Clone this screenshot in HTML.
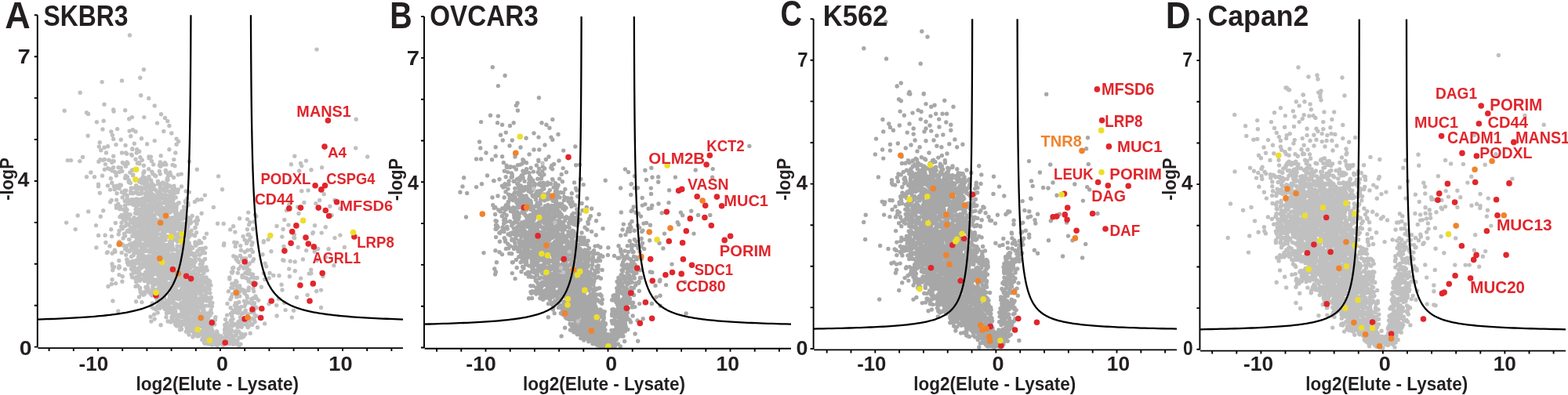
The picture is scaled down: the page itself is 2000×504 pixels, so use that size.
<!DOCTYPE html>
<html><head><meta charset="utf-8"><style>html,body{margin:0;padding:0;background:#fff}svg{display:block}text{font-family:"Liberation Sans",Arial,sans-serif}</style></head>
<body><svg width="2000" height="504" viewBox="0 0 2000 504">
<rect width="2000" height="504" fill="#fff"/>
<path d="M168.3 198.2h0M190 200h0M168.8 190.4h0M161.7 196.3h0M205.2 198.8h0M177.7 193.2h0M134.4 209.6h0M221.8 203.6h0M207.2 209.9h0M163 208.5h0M175.3 208.3h0M145.2 205.6h0M204.4 207h0M101.8 205.6h0M195.7 209.9h0M178 208.9h0M144.6 213.6h0M204.7 212.2h0M133.4 203.4h0M144.1 214.2h0M210.4 207.7h0M208.6 210.1h0M241.3 206h0M151 213.7h0M142.8 207.2h0M161.9 207h0M160.5 212.2h0M178.9 200.7h0M127.9 203.7h0M192.4 200.3h0M211.9 209.9h0M182.9 220.7h0M176.9 230.5h0M184 230.9h0M214 229.5h0M143.2 217.9h0M177.9 232h0M169.7 216.8h0M164.3 229.9h0M152.4 219.5h0M189.9 225.4h0M211.3 217.4h0M201.4 231.3h0M155.8 218.4h0M179.4 229h0M203.3 218.4h0M168.4 217.3h0M207.8 232.9h0M221.6 226.5h0M169.8 223h0M198.7 224.8h0M215 222h0M141.3 227.8h0M164.7 232.8h0M133.4 216.2h0M217.8 223.2h0M146.7 219.4h0M148.3 224.1h0M169.4 223.7h0M183.5 220.1h0M187.6 229.2h0M164.1 231.9h0M139.3 215.7h0M213.8 228.7h0M159.6 227.3h0M162.4 225.7h0M190.2 227.7h0M213.5 227.5h0M278.6 224.9h0M197.2 223.4h0M173.5 215.7h0M182.4 225.7h0M184 218.6h0M213 229.5h0M184.6 226.6h0M194.9 221.8h0M192.6 229.9h0M207.1 241.7h0M179.9 239.3h0M205.9 248h0M175.9 247.2h0M152.1 240.4h0M193.9 236h0M180.8 244.5h0M145.3 237.7h0M158.9 245.3h0M196.7 236.7h0M191.5 240.1h0M148.8 237.3h0M187 244.6h0M191.1 242.8h0M137.5 236.9h0M174.5 242.6h0M142.6 233.4h0M181.8 233.2h0M187.4 244.9h0M226.6 245.3h0M227.3 242h0M127.3 246.3h0M198.3 242.2h0M140.6 242.1h0M220.7 243.4h0M209 234.2h0M159.2 243.2h0M173.6 236.7h0M216.3 237h0M212.8 234.8h0M219.6 245.7h0M212.1 237.7h0M200.3 244.4h0M219.6 243.5h0M166.9 243.7h0M171.7 245.9h0M154.4 236.3h0M222.3 240h0M223.7 241.6h0M241.4 245.1h0M193.3 233.1h0M167.3 240h0M176.6 238.9h0M193.3 247.3h0M202.9 244.3h0M283.5 241.7h0M204.7 245.3h0M195.2 237.1h0M176.5 246.9h0M149.1 246.7h0M169.3 246.8h0M178 240.9h0M158.9 247.7h0M184.5 235.4h0M125.5 235.1h0M202.5 235h0M166.4 233.5h0M215.6 244.3h0M210.4 244h0M204.2 240.1h0M166.8 246.6h0M180.2 247.1h0M195.2 241.5h0M190.3 248h0M204.7 237h0M185.4 247.1h0M171.7 239.7h0M217.1 244.3h0M189.8 236.5h0M125.5 237.8h0M192.2 243.5h0M210 239.1h0M146.2 241.8h0M152.6 236h0M221.9 237.3h0M184.9 240.8h0M142.8 233.1h0M231.5 238h0M185.3 239.5h0M178.1 247.4h0M187.7 233.4h0M220.2 242.5h0M217.2 238h0M160.9 243.1h0M155.3 245.3h0M206.3 234h0M150.1 239.8h0M194.1 247.7h0M181.4 240.6h0M222.8 246.4h0M201.7 234.4h0M212.6 240.7h0M194.1 234.9h0M237.2 243.9h0M195.7 235.9h0M188 239.4h0M180.4 233.3h0M222.6 267.9h0M188.7 254.3h0M163.1 259.9h0M240.1 261.7h0M162.1 267.6h0M173.1 267.3h0M214.8 254.4h0M190.5 268.3h0M192.9 251h0M210.9 252.5h0M178 267.9h0M183.8 256.7h0M161.3 248.6h0M187.6 252.7h0M184 265.7h0M188.9 261.8h0M208.4 250.5h0M186.4 269.8h0M224.2 251.9h0M236.7 258.3h0M222.8 263.3h0M112.7 269.9h0M261.4 249.1h0M215.2 254.7h0M197.7 260.5h0M219.7 267.1h0M196.5 267.7h0M171.8 257.9h0M272.4 264.4h0M177.8 269.6h0M157.7 267.5h0M198.8 252.3h0M210.5 268.5h0M210.9 266h0M211.1 254.4h0M212.2 249.2h0M204.4 268.9h0M216.7 263.5h0M209.5 254.2h0M218.2 261.4h0M200 267.3h0M174.9 258.6h0M183.8 265.6h0M185.7 249.9h0M150.8 260.2h0M216 249.8h0M193.6 268.6h0M176.1 269.2h0M234.3 268.2h0M165.9 255.9h0M224.6 269.9h0M184.3 270h0M189.4 268.1h0M169.9 261.2h0M200.6 259h0M204.5 261.6h0M167.1 259.7h0M226.4 260h0M162.2 249.7h0M218.8 251.9h0M197.3 263.1h0M178 256h0M213.3 257.7h0M193 255.9h0M212.9 262.6h0M219.7 263.6h0M224.9 265.8h0M172.9 262.6h0M201.3 264h0M219.9 259.9h0M207.4 265h0M214.7 258.7h0M194.1 256.4h0M177.6 260.4h0M199.8 249.6h0M179.2 261.6h0M166.2 258.9h0M182.2 269.7h0M212.4 257.5h0M211.2 269.8h0M195.6 262.2h0M257.1 254.6h0M209.4 257.8h0M203.7 258.2h0M218.8 250h0M194.1 268.8h0M234.7 264h0M174 262.8h0M208.1 258.8h0M186.5 252.8h0M221 268.9h0M211.6 265.5h0M178.4 254.8h0M224.9 268.7h0M248.4 257.4h0M216.5 255.7h0M174.7 263.9h0M131.7 268.8h0M159.3 262.3h0M228.2 258.7h0M195.8 265.6h0M197.5 252.3h0M182.7 263.4h0M197.1 257.3h0M194.8 258.5h0M198 252h0M225.2 263h0M217.3 261.1h0M187.3 255.5h0M152.8 266.7h0M181 265.5h0M195.3 262h0M198.2 258.3h0M207.9 249.4h0M148.6 255.1h0M185.2 265.8h0M192.7 266.1h0M251.7 254.6h0M195.2 258.8h0M162.9 255.4h0M236.4 256.4h0M186.5 264.1h0M152.9 266.3h0M252.6 255.1h0M212.9 267.7h0M197 267.3h0M175.6 256.3h0M182.6 257.9h0M176.6 261.6h0M239.8 259.3h0M160.4 265.8h0M186.7 253.6h0M211 248.4h0M148.3 262.1h0M173.8 253.9h0M220.3 255.6h0M153.7 263.6h0M201.3 260.7h0M205 253.5h0M202.4 248.8h0M180.3 269.5h0M176.8 267.8h0M211.8 256.2h0M214.5 262.9h0M159.2 256.5h0M200.9 253h0M173.8 266.5h0M190.3 252.4h0M224.8 260.9h0M183.7 258.9h0M195.9 254.5h0M162.2 252.5h0M209.8 259h0M220.4 257.9h0M190.4 252.5h0M190.3 257h0M220.3 250.3h0M209.3 266.2h0M195.4 248.2h0M184.9 259h0M213.4 266.5h0M213.9 261.6h0M191.9 262.6h0M142.2 255.5h0M231.9 269.8h0M190.4 266.4h0M169.4 254.8h0M190.7 267.9h0M175.4 254.2h0M181.9 268.8h0M196.6 265.7h0M221.4 254.1h0M140.7 257.7h0M238.6 253.4h0M174.1 255.3h0M215.7 265.2h0M181 259.7h0M199.3 269.3h0M214.5 266.1h0M185.3 267.2h0M182.1 253.1h0M184.3 257.4h0M203.4 258.3h0M185.6 253.9h0M215.8 259h0M205.1 268.2h0M187.8 262.1h0M234.6 267.9h0M152.1 264.9h0M213.9 266.1h0M203.3 253.4h0M204.2 267.3h0M225 265.1h0M167.8 254.7h0M221.1 264.3h0M201.1 267.1h0M192.3 258.9h0M185.8 249.4h0M187.6 267.5h0M199 254.3h0M148.4 265.3h0M156.2 251.9h0M198.8 260.6h0M214.3 271.5h0M192.7 283h0M215.1 272.1h0M218.4 283.7h0M165.9 273.6h0M173 281h0M169.1 292.9h0M164.9 279.3h0M171.9 292.8h0M251 285.4h0M191.6 285.5h0M174.5 272.6h0M230.3 287.6h0M211.3 274.5h0M205.2 280.3h0M180.4 287.1h0M233 292.8h0M157.8 276.6h0M215.1 287.9h0M177.7 282.1h0M161.2 284.6h0M214.8 289.6h0M187.4 282.2h0M277.6 285.2h0M161.9 286.5h0M187.6 289.8h0M195.8 284.4h0M205.4 277.3h0M224.5 286.5h0M230.3 292.7h0M225.8 286.9h0M187.5 275.6h0M164.3 287.3h0M206.8 284.5h0M204.5 291.1h0M174.6 289.3h0M204.6 290.7h0M155.2 274.5h0M161.6 277.5h0M210.9 283.9h0M187.4 289.6h0M191 290.2h0M201.1 292.7h0M174.8 281.1h0M180 270.2h0M197.2 275.1h0M218.7 292.3h0M211.1 291.7h0M175.5 272.4h0M187 287.6h0M223.7 271.9h0M238.3 292.8h0M195.5 286.4h0M172.9 284.1h0M209.4 272.1h0M198.4 281.4h0M229.1 292.1h0M184.6 291.7h0M152.9 276.7h0M205.6 272.4h0M224.3 281.7h0M187.4 271.8h0M172.4 291.2h0M249.2 282.3h0M206.5 289h0M155.1 284.2h0M213.8 277.9h0M220.7 289.5h0M128.3 276.2h0M238.9 287.5h0M226.9 280.3h0M210.1 271.6h0M226.7 273h0M189.6 285.7h0M240.6 280.2h0M202.7 285h0M217.5 270.4h0M207.3 275.5h0M196.3 290h0M203.9 288.1h0M229.9 290h0M179.2 280.3h0M183.2 276h0M166.1 274h0M201.7 283h0M154.6 289.2h0M189.2 286.1h0M183.3 283.1h0M189.4 290.3h0M171 287.5h0M171.6 291.1h0M251.6 277.8h0M215.3 279.1h0M226.2 291.5h0M192.7 279.6h0M186.3 281.7h0M210.4 288.7h0M176.9 278.7h0M231.1 292.1h0M203.4 290.8h0M230.4 286.4h0M141.7 292.8h0M197.9 284.4h0M231.1 290.2h0M219.7 282.4h0M235.2 289.2h0M242.7 281.9h0M167 290.3h0M228.1 275.3h0M208.7 279.7h0M239.1 277.2h0M293.7 292.9h0M195.5 276.6h0M223.2 288.6h0M211.9 281.3h0M222.2 279.7h0M199.9 271.1h0M242.6 284.4h0M193.1 274.3h0M213.9 291.5h0M231 275.4h0M202.4 271h0M84.7 284.1h0M223.4 292.9h0M206 270.1h0M192.7 282.6h0M185.6 292.1h0M236.6 277.6h0M175.8 272h0M166.6 283.7h0M196.8 276.1h0M216.5 288.8h0M243.9 283.4h0M195.7 283.5h0M193.6 272.8h0M235.7 272.6h0M187.9 285.2h0M174.1 287.1h0M198 289.2h0M242.6 285.1h0M223.8 285.3h0M172.4 272.1h0M181 278.6h0M169.8 279.7h0M204.2 292.4h0M168.4 291.4h0M153.9 275.7h0M228.7 283.1h0M201.1 284.5h0M228.6 282.4h0M161.5 285.7h0M249.2 290.1h0M159.7 272.3h0M160.1 281.1h0M186.9 284h0M216.2 284.3h0M178.1 292.2h0M193.5 271.9h0M178.5 276.2h0M218.1 280.3h0M221.2 290.3h0M173.3 280.3h0M257.1 272.2h0M194.7 276h0M220.1 287.7h0M156.2 291.8h0M182.6 288h0M191.9 279.2h0M193.4 277.3h0M99.2 275h0M202.6 284.3h0M216.4 270.9h0M215.8 278h0M235.7 289.9h0M153.6 276.7h0M211.2 289.2h0M229.9 285.7h0M221.1 288.8h0M210 273.3h0M199.6 280.1h0M201 292.5h0M198.4 283.4h0M208.9 271.5h0M221.5 288.7h0M196.7 279.5h0M211.9 282h0M96.2 292.6h0M202.5 282.3h0M193.3 292.9h0M195.9 282.1h0M177.8 290.5h0M197.2 274.2h0M181.7 291.1h0M242.2 278.5h0M214.4 281.3h0M169.4 284.5h0M176.2 286.5h0M190.5 279.3h0M189.5 271.6h0M182.3 292.4h0M197.9 290.2h0M207.5 281.8h0M153.6 276.4h0M212.8 281.4h0M220.5 288h0M184.7 278.9h0M193.7 285.5h0M192.7 276.3h0M191.3 292.8h0M230.3 272.6h0M201.1 290.9h0M156.5 277.2h0M200.3 282.9h0M245.2 275.4h0M186.3 275.1h0M191.7 270.1h0M176.4 278.8h0M166.1 280.6h0M159.8 276.1h0M147.3 284.5h0M223 284.1h0M234.2 291.1h0M197.3 273.9h0M161 270.8h0M200.6 284.8h0M176.4 284h0M209.9 274.7h0M225.8 290.9h0M179.9 288.9h0M228.7 289h0M202.7 273.2h0M158.7 274.4h0M243 278.6h0M202.4 284.9h0M223.7 288.5h0M232.7 276.2h0M197.1 290.7h0M234 285.1h0M230.5 287.7h0M232.3 279.7h0M204.8 282.8h0M236.8 278.3h0M217.3 280.5h0M203 273.7h0M171.6 284.4h0M193.7 284.7h0M157.3 280.9h0M239.8 289.8h0M216.6 288.7h0M187.2 270.7h0M252.5 281h0M185.4 276.6h0M218.1 286.5h0M197.4 282.4h0M211.5 288.6h0M191 277.4h0M191.9 272.2h0M175.3 282.7h0M179.7 272.2h0M159.5 278.3h0M171.1 277.7h0M204.7 291.7h0M177.5 287.1h0M241.2 278.1h0M226.6 291.1h0M195.7 283.2h0M219.7 277.7h0M183.9 280.1h0M203.1 286.4h0M214.7 286.8h0M248.8 290.8h0M227.7 292.8h0M238.9 284.5h0M200 288.1h0M185.1 272.2h0M179.3 276.2h0M197.7 292h0M285.2 285.4h0M159.5 288.6h0M222.2 284.8h0M223 291.5h0M216.8 279.7h0M193.7 284.3h0M182.1 290.9h0M208.3 291.2h0M228.2 279.1h0M162.5 273.2h0M122.5 287.6h0M211.2 282.8h0M180.4 283.6h0M183.1 283.7h0M185.2 283.9h0M175 282.4h0M209.5 292.7h0M224.1 275.5h0M189.4 279.5h0M174.4 272.3h0M196 291.7h0M177.4 310.3h0M183.3 293.6h0M171.4 314.6h0M178.7 302.2h0M179.3 299.4h0M165.3 294.9h0M211.5 301.1h0M172.3 312.1h0M134.1 300.2h0M194.4 314.5h0M207 308.2h0M237.4 295.9h0M122.9 315.9h0M215 302h0M201.2 311.2h0M203 306.9h0M169.2 310.6h0M254.2 307.3h0M228.5 305.9h0M165.1 305.7h0M212.3 312.5h0M211.2 306.3h0M232.8 297.1h0M184 295.6h0M198.2 301.3h0M207.3 296h0M224.2 306.3h0M207.3 297.5h0M196.2 303.1h0M197.9 301.8h0M195.9 309.3h0M175.7 295.4h0M178.2 308.1h0M252.7 310.7h0M197.7 295.7h0M189.6 312.2h0M192.6 314.9h0M234.6 308.2h0M222.6 295.9h0M209.8 303.5h0M193.3 302.9h0M220.1 295.3h0M199.6 295h0M212.7 294.9h0M208.2 299.4h0M194.2 297.7h0M140 314h0M204.8 299.1h0M134.9 309.4h0M217.4 307h0M196.8 313.9h0M175.6 309.3h0M249 309h0M216.5 293.9h0M235.4 297.6h0M182.8 313.2h0M190.7 299.7h0M162.1 295.6h0M185.5 298.9h0M203.4 309.2h0M240.6 302.8h0M233.7 298.1h0M187.6 301.3h0M153.1 309.3h0M231.9 297.8h0M171.7 294.7h0M209.5 293.6h0M168.8 301.3h0M186.1 299.3h0M200.3 303.1h0M219.7 312.6h0M179.7 293.7h0M219.9 296.4h0M194.4 309.2h0M151.3 299h0M212 295h0M191.6 311.6h0M244.8 315.7h0M162.4 294.5h0M236.5 293.2h0M202.5 308.3h0M159.7 301.1h0M239.4 299.1h0M171 297.5h0M187.5 313.3h0M174 309.3h0M170.8 297.7h0M234 301.1h0M256.7 309.7h0M177.4 307.8h0M183.6 311.6h0M196.7 306.2h0M185.8 306.3h0M182 298.7h0M158 313.6h0M177.4 308.5h0M191.9 300.5h0M182.2 300.6h0M196.3 304.2h0M198 309.9h0M285.5 312.9h0M203.4 310.7h0M241.3 310.3h0M181.1 297.6h0M221 305.8h0M197.1 296.2h0M177.4 307h0M198.1 293.3h0M197.7 306.5h0M190.2 296.7h0M228.8 300.4h0M226 313.9h0M209.9 299.8h0M244.2 294.1h0M209.2 299.8h0M167 294.1h0M186.6 294.6h0M195.9 293.3h0M185.9 298.7h0M195.1 293.7h0M182.2 299.8h0M185.8 310.3h0M174.4 305.4h0M207.9 311.2h0M228.3 305.4h0M167.5 316h0M224.9 299.2h0M235.9 301.8h0M125.6 300.4h0M192.3 304h0M232.6 306.6h0M223.5 300h0M201.7 311.6h0M189.8 297.7h0M190.7 298.8h0M263.5 298.1h0M210.6 312.9h0M210.9 293.5h0M218.5 312.3h0M210.4 293.7h0M189.6 305.5h0M234 299.9h0M213.7 314.8h0M207 314.5h0M161.9 313.7h0M177.3 304.3h0M198.1 303.1h0M183.1 303.9h0M196.3 304.3h0M231.7 301.7h0M172.3 299.5h0M208.7 313.4h0M224 299.9h0M185.1 315.9h0M172.1 301.6h0M207 300.1h0M142.6 301.6h0M174.2 298.2h0M179.1 312.2h0M204.9 304.3h0M235.8 300.7h0M193.6 304.6h0M182.1 313.3h0M226.1 304.8h0M156.1 311.7h0M227.3 303.8h0M209.8 294.8h0M158.6 298.2h0M186.1 306.3h0M166 294.6h0M187.7 313.6h0M218.4 300.3h0M242.4 313.9h0M230.5 300.4h0M195.1 312.1h0M200.5 296.5h0M175.5 312h0M177 298.9h0M203.8 311.2h0M165.7 311.6h0M190.5 306.8h0M219.9 296h0M233.8 302.4h0M157.1 304h0M170.1 293.8h0M217.1 311.5h0M193.9 305.9h0M217.8 307.9h0M225.2 300.3h0M205.5 307.7h0M196 313.2h0M181.3 296.1h0M229.9 299.8h0M200.3 294.2h0M185.2 307h0M260.7 303.5h0M220.8 306h0M186 310.8h0M168.6 294.6h0M201.9 307.5h0M193.8 309.4h0M190.5 301.1h0M152.1 294.5h0M190.3 296.8h0M227.7 298.5h0M238.2 299.6h0M167.1 312.3h0M199.4 300.7h0M192.5 302.1h0M202.5 308.9h0M180.4 301.1h0M169.8 312.4h0M189.6 310.5h0M198.9 313.4h0M189.2 307.7h0M238.2 312h0M164.9 293.4h0M207.7 302h0M232.7 312.8h0M249.8 313.2h0M171.3 312.5h0M170.4 315.6h0M219.4 309.3h0M181.9 311.8h0M220.8 303.2h0M236.5 313.2h0M167.8 310.9h0M216.6 308.8h0M228.1 298.7h0M184.2 296.9h0M197.1 303.1h0M230 299.2h0M226.2 308.2h0M189.9 293.8h0M201.2 303.7h0M191.4 314.7h0M193 296.2h0M180.7 315.7h0M194.2 296.8h0M169.7 315.8h0M172.1 312h0M222.7 298h0M181.7 305.1h0M184.8 315.3h0M202.4 315.6h0M235.7 295.1h0M164.5 305.6h0M165.8 295.9h0M184.3 314.7h0M242.8 300.2h0M173.2 309.7h0M206.4 309.7h0M187.1 293.1h0M205.5 314.1h0M188.6 309.2h0M197.7 313.5h0M194 298.8h0M196.2 309.8h0M220.1 315.4h0M197.9 293.4h0M217 301.5h0M249.1 311.7h0M189.6 313.9h0M209.9 314.4h0M175.5 303.1h0M217.1 295.5h0M179.4 297h0M245.1 299.3h0M229.5 314.3h0M152.1 308.4h0M239.1 306.8h0M232.6 314h0M240.1 310.7h0M171.8 309.1h0M159.1 300.9h0M199.6 299h0M248.5 300.8h0M226.7 300.2h0M188.2 311.5h0M181.1 300.4h0M219.8 314.6h0M229.5 293.4h0M242.3 296h0M232.6 295.6h0M201.4 294.4h0M217 315.3h0M250.6 296.7h0M192.7 314h0M160.8 314.8h0M190 313.6h0M175.6 314.1h0M198.4 298.6h0M171.8 299.1h0M173.2 315.8h0M170 315.5h0M208 307.1h0M197.5 304.3h0M245.5 316.6h0M221.4 318h0M207.3 326.8h0M220.2 317.8h0M210.8 326.3h0M183.8 327.2h0M253.9 330.9h0M181.8 325.9h0M214.1 323.3h0M239.8 330.4h0M209.5 316.3h0M185.2 333.9h0M243.4 331.5h0M192.8 328.7h0M196 320.2h0M184.9 327.1h0M204.2 319.1h0M195.4 325.4h0M254.5 325.2h0M239.1 322.8h0M210.2 319h0M210 321.4h0M212.1 330.2h0M203.7 319.2h0M195.2 325.2h0M200.1 326.9h0M207.9 323.4h0M146.9 321.2h0M180.1 319h0M146.3 319.2h0M227.9 331.8h0M231.7 327.4h0M248.9 329.3h0M189.8 326.6h0M230.8 322.2h0M182.4 331.3h0M197.8 332.7h0M177.5 322.1h0M213.8 332.8h0M219.8 324.5h0M233.8 323.2h0M221.4 328.7h0M193.3 320.3h0M212.7 324.4h0M241.7 321.7h0M180.9 329.2h0M216.2 317.3h0M163 334h0M193.7 316.3h0M205.4 316.7h0M167.5 327.4h0M222.4 333.6h0M165 321h0M232.9 321.5h0M161.9 331h0M234.7 322.4h0M237.4 316.9h0M241.9 320.3h0M183.1 329.1h0M232.9 317.8h0M261.5 330.5h0M228.2 330.6h0M227.6 328.8h0M194.9 332.8h0M166.4 319.2h0M230.3 329.7h0M230.8 330.8h0M182.7 331.7h0M173.6 332.3h0M233.4 328.1h0M223.6 332h0M240.6 325.1h0M201.5 316h0M230.8 333.9h0M136.4 322.6h0M243.7 322h0M238.7 325.4h0M171.8 320.6h0M226.5 320.1h0M235.6 323.4h0M183.2 317.2h0M186.8 319.8h0M216.1 318.5h0M184.2 330.6h0M206.1 320.4h0M241.4 333.1h0M257.9 317.2h0M207.8 328.6h0M230.8 318.6h0M177.9 330.5h0M161.3 317.6h0M172.6 316.8h0M203.8 327h0M198.2 326h0M161.7 331.3h0M204.8 316.8h0M169.2 333.2h0M198.2 317.1h0M216.5 331.6h0M256.2 332.9h0M215.9 326h0M209 321.7h0M211 316.2h0M253.9 324.6h0M190.1 331.8h0M254.7 317.4h0M181.9 318.3h0M137.2 321.8h0M192.2 319.7h0M239.8 322.7h0M162.2 319.4h0M241.6 330.7h0M187.1 320.3h0M217.7 319.1h0M192 318.2h0M176.6 329.2h0M178.7 326.7h0M190.6 321.2h0M182.3 333.3h0M186.3 320.1h0M191.1 328.2h0M237 323.4h0M194.4 322.3h0M215 331.4h0M212.9 317.5h0M159.7 317.9h0M230.8 319.4h0M261.4 322.8h0M252 320.3h0M197.7 322.7h0M190.1 329.2h0M205.5 325.6h0M238 318h0M182 332.6h0M202.3 323.4h0M241.4 318h0M204.4 324h0M249.1 333.9h0M248 324.2h0M239.2 323.2h0M219.5 331.4h0M214.9 328h0M196.1 333.6h0M230.1 323.2h0M223.5 325h0M214.9 328.1h0M180.7 317.1h0M209.8 318.9h0M188.9 329.3h0M204.9 332.5h0M192 332.8h0M202.5 316h0M191.3 327.1h0M151.8 332.5h0M192.6 327.3h0M239.9 325.7h0M196.2 330h0M236.1 331.9h0M237.3 316.1h0M209.8 329h0M179.2 326.8h0M220.1 332.1h0M193.2 332.5h0M203.7 317.6h0M240.4 324.8h0M218.3 316.1h0M214.5 319.1h0M178.6 320.6h0M201.2 327.3h0M247.4 326.6h0M216.1 327.4h0M201.9 333.4h0M160.7 325.2h0M211.5 325.7h0M235.3 328.1h0M231.8 324.5h0M199.3 317.9h0M236.9 318.2h0M204.6 321.5h0M170.2 325.8h0M221.6 330.2h0M258.9 320.2h0M221.1 318.9h0M195.4 325.7h0M176.6 327.4h0M198.8 317.6h0M248.2 323.6h0M180.9 322.4h0M258.9 332.9h0M169.5 316.6h0M209.8 330.4h0M221 324.7h0M256.4 318.2h0M174.6 322.4h0M218 325.6h0M194.5 316.2h0M143.2 323.2h0M200.6 333.2h0M249.4 326.8h0M196.2 317.9h0M218.9 316.9h0M194.2 326.8h0M218.4 319.1h0M205 326.2h0M238 323.9h0M184.1 318.5h0M198.5 328h0M256.8 323.6h0M164.1 333.8h0M218.7 326.6h0M175.2 319.2h0M224.8 329.5h0M229 327.6h0M215.1 332.8h0M228.7 330.2h0M243.3 332.2h0M236.4 329.8h0M243.1 324.8h0M195 331.3h0M220.5 329.7h0M195.7 328.9h0M185.2 327.3h0M199 318h0M171 322.4h0M214.7 329.9h0M176.1 323h0M188.4 331.2h0M155.2 322.4h0M205.7 317.4h0M202.5 330.4h0M262.2 316.1h0M188 319.8h0M205.4 319.9h0M216.7 325.2h0M215.9 330.8h0M208.3 327.5h0M186.9 333.3h0M182.7 321.6h0M233.4 322.6h0M225.3 318.5h0M195.1 316.8h0M234.1 317h0M246.6 332.4h0M232.2 333.6h0M204 331.4h0M199.2 322.9h0M221.1 329.4h0M236.4 317.4h0M221.4 328.5h0M227 323.5h0M196.5 329h0M209 322.2h0M175.4 319.5h0M184.4 337.4h0M203.8 340.8h0M221.1 352h0M255.3 337.4h0M209.9 339.3h0M145.7 340.7h0M198.1 340.6h0M199.6 334.8h0M170.9 339.1h0M219.3 336.3h0M205.2 342.3h0M193.3 345.1h0M231 343.7h0M172.7 347.3h0M176.8 334h0M211.3 345h0M232.6 352h0M233.1 337h0M211.3 341.8h0M215.2 346.3h0M177.9 343.8h0M210.9 348.3h0M189.1 339.7h0M216.5 340.9h0M163.8 337.9h0M230.3 339.4h0M220.2 338.5h0M227.9 347.2h0M210.9 334.3h0M224.9 334.8h0M200.7 350.2h0M187 341.8h0M230 347.1h0M187.9 352.5h0M143.8 344.8h0M204.5 344.5h0M260 348.5h0M209.7 338.5h0M237.3 352.1h0M227.7 344.7h0M234.9 352.8h0M234.4 352.7h0M231 342.6h0M203.2 340.3h0M228.8 342.7h0M183.2 350.4h0M263 340.9h0M193.3 346.1h0M205.8 352.8h0M231.1 339.1h0M186.5 340.3h0M170.9 345.5h0M220.6 337.8h0M188.7 342.9h0M241.9 348.8h0M221.3 343.9h0M235.7 334.6h0M211.3 345.8h0M201.2 347.5h0M226.8 352.4h0M233.5 344.7h0M252.7 349.8h0M184.5 351.5h0M215.2 351.4h0M229.1 344.6h0M214.3 341.1h0M167.6 335.6h0M206.9 344.7h0M200.3 338h0M203.6 346.4h0M253 350.2h0M204.6 347.3h0M205.3 341.1h0M206.1 347h0M231.5 342.1h0M208.5 337.9h0M249.2 352h0M206.4 351.9h0M224.4 334.9h0M224.9 341.1h0M222.1 335.2h0M202.8 350.3h0M187 352.3h0M229 351.2h0M250.5 350h0M195.2 342.3h0M209.6 343h0M214.2 348.9h0M215 342.4h0M165.5 337.6h0M202.4 349.9h0M205.1 342.8h0M234.8 351h0M178.6 351.2h0M209.4 344.1h0M243.9 348.9h0M216.8 349.6h0M215.2 343.5h0M229.9 347.6h0M233.9 343.3h0M195.8 350.2h0M219.9 334.2h0M243 342h0M209.5 343.5h0M203 346h0M252.3 350.3h0M241.4 342.8h0M235.9 346.6h0M180.1 338.2h0M237.1 338.7h0M249.2 343.8h0M205.5 348.2h0M192.1 342.5h0M188.6 348.4h0M240.5 341.4h0M233.9 345h0M214.2 349.8h0M232 346.4h0M191.9 337.2h0M217.9 350.7h0M189 344.5h0M217.2 347.2h0M232.5 336.3h0M241.9 352.3h0M196.4 339.7h0M229.6 348.3h0M196.9 335.5h0M203.9 340.7h0M212 342.8h0M253.3 346.4h0M194.1 341.1h0M200.5 337.7h0M187.6 336.7h0M247 346.1h0M231.3 343.7h0M174.4 335.8h0M207.9 344.7h0M193.9 337.3h0M143.7 340.2h0M199.8 338.1h0M200.1 334.3h0M156.2 352.8h0M258 346h0M214.8 340.6h0M237.8 345.7h0M228.7 336.4h0M225 349.6h0M256.8 343.5h0M223.6 351.9h0M208.2 351h0M207.3 346.8h0M214.6 342.9h0M177.2 350.7h0M195.5 346.9h0M239.3 349.4h0M205.3 339.9h0M215.2 335.7h0M218.2 350.6h0M231.2 347.9h0M192.5 336.4h0M171.3 338h0M219.6 352.1h0M207.6 348.7h0M222.7 347.9h0M207.5 348.9h0M246.5 337.8h0M201.7 344.1h0M216.8 352.5h0M187.8 351.7h0M235.2 340.1h0M201.1 342.1h0M224.8 334.3h0M194.9 349.4h0M198.2 337.7h0M169.7 342.9h0M224.4 343.6h0M224.9 335.7h0M258.2 352.7h0M210.4 338.2h0M180.9 341.4h0M197.9 343.7h0M199.8 345.6h0M241.1 345.1h0M222.9 349.1h0M223.1 348.3h0M237.1 343.6h0M211.7 353h0M226.5 350.9h0M217.2 348.9h0M151.6 342h0M171.6 341.7h0M192.2 347.2h0M218.7 350.8h0M193.4 335.4h0M201 336h0M217.2 352.1h0M170.4 336.1h0M189.9 348.3h0M167.5 338.6h0M200.7 344.2h0M235.9 344.6h0M189.4 346.6h0M251.8 342.4h0M195.7 348.7h0M232.9 337.9h0M208.2 340.7h0M202.7 335.6h0M212.8 351.6h0M225.2 345.2h0M197.6 337.1h0M258.2 336.5h0M252.8 345.4h0M217.1 347.1h0M217.9 349.4h0M211.3 345.5h0M197.3 339.8h0M228.1 348.6h0M219.2 347.2h0M241.6 347.4h0M178.9 338.1h0M171.3 348h0M169.5 344.9h0M191.6 337.5h0M205.9 335.6h0M188.2 342.8h0M178.2 348.8h0M215.7 352h0M185.7 347.1h0M232.5 350h0M179.5 337.8h0M201.9 345.6h0M208 350.9h0M259 341.5h0M188.7 339.1h0M152.4 341.2h0M243 351.9h0M167.7 350.3h0M251.3 342.7h0M232.7 335.1h0M200.2 339.9h0M237.2 346.1h0M190.3 346.5h0M159.5 343.6h0M176.6 352.5h0M264.2 344.9h0M262.5 343.6h0M177.8 351.3h0M193.9 351.2h0M239.5 351.1h0M236.8 343.7h0M238.9 352.4h0M169.2 342h0M203.7 344.7h0M238.1 346.7h0M257.2 338.5h0M256.6 341.3h0M174.3 347.5h0M245.3 336.8h0M219.7 348h0M240 348.5h0M204.9 335.8h0M201.9 351.6h0M201.4 336h0M204.9 339.6h0M247.5 340h0M209.4 340.4h0M228 336.8h0M238.9 352.7h0M204.5 345.7h0M218.2 345.5h0M174.6 343.8h0M236.2 344.9h0M237.7 341h0M247.2 338.2h0M225.3 348.7h0M190.3 347.1h0M223.5 344.7h0M209.6 346.9h0M208.5 349.2h0M194 338.4h0M191.3 341.9h0M239.9 336.2h0M239 344.4h0M192.3 346.6h0M205.4 339.2h0M198.5 343.9h0M185.6 339.7h0M228.5 339.5h0M242.5 347.6h0M234.3 347.4h0M204 345.2h0M183.6 350.7h0M201.1 345.4h0M218.8 337.5h0M210.7 352.6h0M215.4 335.6h0M162.4 335.2h0M189.5 338.2h0M248.5 349.7h0M220.5 335.2h0M194 344h0M183.4 334.3h0M246.3 337.4h0M195.8 349.6h0M234.2 351h0M211.2 342.4h0M209.4 334.2h0M205.8 348.3h0M187.3 334.8h0M240.7 351.9h0M183.4 334.3h0M204.6 334.6h0M177.2 341.6h0M152 350.6h0M210.9 341.1h0M201.6 345.1h0M191.9 337.5h0M178.2 342.9h0M210.9 343.7h0M233.5 348.9h0M235.2 337.4h0M167.5 343.2h0M194 345h0M241.4 338.1h0M175.8 343h0M199 340.7h0M209.9 336.2h0M230.1 341.2h0M251.5 350.7h0M218.5 349.3h0M207.6 350.7h0M187.6 336.3h0M256.4 351.6h0M143 336.7h0M199.2 340.1h0M235 352h0M152 339.7h0M241 351.3h0M205 342.9h0M228.4 339h0M189.2 361h0M246.2 364.5h0M235.4 353.5h0M250.6 355h0M183.6 355h0M236.6 370.9h0M189.1 356.5h0M224.2 370.5h0M230.3 373h0M244.2 358.5h0M187.4 371.3h0M185.6 354.4h0M205.2 374.6h0M257.5 364.3h0M208.8 359.9h0M266.4 359.1h0M210.9 372.9h0M229 359.1h0M173.7 359.7h0M204.4 356.8h0M226.5 362.6h0M237 354.5h0M236.9 367.5h0M194.9 364.8h0M237.2 362.2h0M218.8 365.2h0M196.5 357h0M244.3 353.8h0M244.9 368.7h0M211.7 361.8h0M222.4 359.8h0M229.9 360.4h0M189.7 372.9h0M177.6 357.3h0M216.6 366.9h0M181.3 356.1h0M199.6 356.7h0M195.2 368.7h0M201.3 368.8h0M211.6 367.9h0M223.7 363.5h0M229 358h0M252.6 373.6h0M232.6 358.8h0M263.6 373.9h0M187 356.9h0M237.8 358h0M234.3 357.5h0M202.6 363.6h0M192 356.3h0M217.7 354.2h0M186.9 371.3h0M247.6 353.3h0M224.4 371.3h0M237.2 367.7h0M241.5 373.2h0M237.4 354.8h0M248.6 371.5h0M232.4 366.7h0M238.8 375h0M249.9 362h0M240.8 367.4h0M224.7 370.8h0M205.1 354.2h0M173.1 355.9h0M243.9 359.8h0M233.1 374.6h0M188.1 353.4h0M202.4 356.2h0M267.7 359.3h0M236.3 366.3h0M214.3 369.3h0M220.9 362.8h0M201.1 359.4h0M267 362.1h0M231.3 370.3h0M247.6 361.2h0M238 372.1h0M245.5 371.7h0M246.1 370.1h0M243 358.5h0M236.4 366.3h0M213.6 369h0M177.8 355.1h0M212.1 363.4h0M194 355.5h0M195.2 361.4h0M212.6 368.4h0M257.2 369.9h0M219.8 372.4h0M255.5 362.3h0M207.4 373.5h0M195.9 362.9h0M256.9 358h0M194.6 358.6h0M236.9 357.5h0M209.4 368.9h0M193.6 353.3h0M246.4 372h0M215.7 364.1h0M226.4 374.2h0M178.6 369.2h0M173.6 353.7h0M204 372.1h0M194.2 355.7h0M216.2 370.2h0M228 360.8h0M210.6 358.7h0M188.9 368.3h0M209.5 355.2h0M244.6 357.8h0M173 365.4h0M202.8 364.6h0M210.6 370.7h0M218.1 362.1h0M220.1 362.6h0M207.2 361.6h0M225.2 356.2h0M251.2 372.7h0M235.9 356.8h0M258.8 370.4h0M241.8 364.9h0M188.7 354.8h0M242 357.4h0M241.4 374.7h0M226.2 354.6h0M179.2 372.5h0M197 363.5h0M195.4 361.8h0M184.4 358.6h0M236 357.5h0M250.5 364.9h0M223.6 355.4h0M208.7 374.4h0M254.7 372.1h0M224.9 364.2h0M187.1 356.5h0M220.6 368.6h0M228.8 354.4h0M264.7 363h0M180.3 374.5h0M201.1 370.6h0M168.4 353.3h0M209 372.4h0M243 360.5h0M195 362.8h0M189.7 353.4h0M204.7 364h0M243.7 353.5h0M268.9 363.9h0M237.2 368.6h0M138 365.5h0M237.5 361.8h0M229 356.6h0M206.7 359.2h0M249.4 370.4h0M248.9 360.2h0M209.2 353.5h0M215.3 353h0M242.5 361.4h0M248.8 356.4h0M224.4 369h0M249.2 361.1h0M217.5 364.7h0M255.7 364.3h0M245.7 361.9h0M195.5 372.9h0M215.3 353.7h0M211.9 365.4h0M175.9 364.8h0M219.6 368.7h0M204.9 366.4h0M247.9 366.7h0M242.3 366.3h0M234.1 357.8h0M211.8 372.9h0M229.5 354h0M238.3 374h0M234.3 358.2h0M203.1 358h0M222.1 373.9h0M267.9 374.1h0M254.9 356.6h0M264.7 361.3h0M222.8 354.7h0M195 363.8h0M246.4 353.8h0M262.4 369.6h0M219.6 369h0M220.8 364.9h0M217.6 353.7h0M228.4 363.7h0M194.2 372.6h0M200.7 360.6h0M229.8 374.7h0M264.5 363.5h0M260.8 355.4h0M221.4 373.5h0M195.1 362.1h0M235.4 372.1h0M211.2 373.7h0M239.4 370h0M248.3 372.4h0M250.7 371.9h0M185.9 366.4h0M210.2 353.4h0M231.7 369.5h0M220.9 363.1h0M207.2 371.9h0M229.2 371.2h0M236.6 364.1h0M234.6 364.8h0M238.5 354.3h0M253.3 368.1h0M234.6 353.2h0M235 373h0M178.2 358.3h0M184.4 372.5h0M188.1 365.7h0M212.5 355.7h0M254 365.8h0M155.9 359.2h0M209.1 371.1h0M249.2 374.7h0M211.7 360.3h0M259.6 356h0M256.9 369h0M205.6 356.7h0M219.2 357h0M211.2 370.3h0M189.8 355h0M199.4 361.7h0M216 361.8h0M213.9 354.8h0M245.2 372.5h0M147.6 361.6h0M259 365.5h0M263.1 360.2h0M191.4 371.6h0M265.7 358.8h0M214.1 365.3h0M187.8 369.6h0M233.1 371.4h0M251.4 353.5h0M239.8 354.4h0M213.6 370h0M223.7 354.3h0M228.8 373.1h0M238.8 359.6h0M206.7 355.8h0M207.6 355.7h0M249.1 367.7h0M244 359.7h0M237 357.6h0M225.8 373.7h0M263.4 368h0M247 367.5h0M235.1 367.1h0M236.4 371.7h0M209.8 360.5h0M211.7 368.6h0M200.2 358.1h0M248.1 360.1h0M246 373.3h0M253.8 373.4h0M234 372.7h0M262.3 372.9h0M255.8 357.6h0M222 361.2h0M210.9 355.6h0M266.2 357.6h0M224.3 363.8h0M203.2 365.9h0M195.9 371.3h0M204.8 353.3h0M240.9 370.7h0M243 358.1h0M242.2 358.2h0M249.9 357.2h0M241.7 358.4h0M264.2 368.8h0M234.1 355.8h0M212.9 366.5h0M235.4 356h0M228.5 360.7h0M257.2 354.1h0M261.3 367.6h0M267.2 369.3h0M232.6 373.5h0M168.9 353.9h0M251.3 371.3h0M200.7 359.9h0M249.9 354.7h0M230.6 353.9h0M220.1 360.7h0M219.8 360h0M240.7 364.4h0M178.4 367.2h0M143.1 356.8h0M204.1 373.1h0M254.2 357.1h0M196.3 357.2h0M199.2 356.9h0M258.2 356.9h0M266 366.3h0M195.9 369h0M223 360.1h0M248.6 361.9h0M238.6 359.3h0M194.8 367.7h0M232.3 361.6h0M225.1 374.4h0M189.9 353.3h0M201.1 361.4h0M236.5 356.9h0M227.5 358.6h0M259.4 370.4h0M194 373.3h0M251.1 358.9h0M259.8 361h0M204.6 364.1h0M204.4 362.8h0M228.8 373h0M222.1 360.3h0M263.1 354h0M255.3 357h0M240.7 361.4h0M219.8 372.1h0M213.3 355.2h0M209.3 365.7h0M232.7 368.7h0M213.1 353.6h0M192.7 359.8h0M226.9 364.6h0M234.1 356.2h0M223.6 369.6h0M224.6 358.2h0M219 353.8h0M247.1 357.9h0M227.5 373.3h0M230.1 357.5h0M236.9 363.4h0M217.9 366.3h0M233.2 366.2h0M193.5 356.5h0M142.3 362.5h0M218.7 368.8h0M234.9 374.9h0M192.1 357.2h0M206.8 367.2h0M238.1 372.1h0M226.8 358.3h0M216.5 355.2h0M257.2 358h0M240.6 363.3h0M218 365.8h0M245.5 363.7h0M227.7 359.3h0M224.9 372.1h0M256.6 374.3h0M243.8 364.6h0M245.8 371.8h0M204 370.9h0M252.2 371.8h0M213.4 391.3h0M259.1 394.9h0M245.4 390.3h0M215.8 395.3h0M240 383h0M180.9 385.6h0M250.6 380.6h0M262.4 390.2h0M221.7 395.4h0M240.6 388h0M226.7 381.6h0M256.1 376.4h0M231 388.3h0M219.5 386.2h0M235.6 379.2h0M217.6 378.3h0M230.8 391.2h0M227.4 378.1h0M208.1 388.2h0M242.4 382.5h0M252.9 397.8h0M234.9 378.5h0M224.9 376.4h0M226.8 378.3h0M260.9 379.7h0M223.3 380.2h0M221.7 386.4h0M228.5 377.1h0M270.4 391h0M257.3 391.8h0M206.4 389.8h0M224.1 387.7h0M208.7 377.7h0M266 390.1h0M257.2 388.5h0M236.4 376h0M234.8 394.8h0M236.1 391.4h0M253.2 393h0M231.9 377.8h0M257.8 386h0M207.6 386h0M229.1 391.4h0M206.9 390.4h0M240.2 386.8h0M242 393.7h0M242.7 391.8h0M258.9 377.6h0M220.1 377.6h0M237.4 383.1h0M221.2 383.1h0M230.7 390.9h0M219.7 376.5h0M213 383.8h0M232.7 391.3h0M254 391.8h0M217.9 378.9h0M173.6 384.7h0M248.2 385.6h0M237.2 380.8h0M233.4 377.8h0M239.4 393h0M219.5 395.9h0M209.2 378.8h0M238.5 377.4h0M267 390.1h0M194.4 387h0M228.2 381.8h0M219.6 386.5h0M235.4 382.1h0M234.5 377.2h0M203.6 393.4h0M269.6 389.2h0M250.4 389.4h0M210.7 394.7h0M250.1 393.7h0M195.8 393.3h0M245.7 386.5h0M228.2 390.2h0M249.6 377.5h0M205.9 375.9h0M254.3 392.3h0M224.9 392.1h0M232.2 391.4h0M219.7 378.9h0M263.6 379.3h0M222.9 389.4h0M247.2 396h0M218.9 392.4h0M268.9 390.1h0M242.7 384.9h0M270.8 386.5h0M213.4 390h0M206.3 383.3h0M230.8 392.8h0M242.4 381.6h0M253.5 381.1h0M230.9 393.3h0M201.2 377.3h0M199.8 380.4h0M240.3 386h0M269 395.6h0M246.1 383.4h0M237.4 391.1h0M244.9 376.5h0M248.5 377.8h0M269.1 380.5h0M234.9 382.6h0M258.2 388.9h0M245.5 389.4h0M247 383.6h0M237.2 392.4h0M257.6 383.6h0M229.4 375.9h0M223 391.7h0M241.2 389.9h0M203.1 391.3h0M219.8 378h0M211.5 385.4h0M260.1 377.8h0M233.1 386.6h0M263.3 382.7h0M244 384.5h0M231.4 393.8h0M242.8 384.2h0M239.7 395.6h0M248.3 382.6h0M262 383.2h0M242.8 393.2h0M234.9 377.7h0M202.1 376.9h0M223.8 380.6h0M184.4 375.2h0M257.2 392.6h0M192.4 375.1h0M244.2 381.2h0M239.5 379.4h0M235.2 384.5h0M247.5 397.7h0M202.6 380.9h0M224.9 388h0M217.7 378.6h0M258.6 389.6h0M228 377.5h0M209.6 380.2h0M203.8 386.7h0M258.1 395.1h0M216 381.5h0M237.2 383.4h0M225.8 377.6h0M193.8 377h0M230.5 377.8h0M235.4 390.9h0M221.6 378.7h0M264.4 383.9h0M268.1 385.4h0M247.7 396.4h0M207.7 386.4h0M241.5 391.5h0M209.6 390.1h0M242.5 389.5h0M265.4 380h0M265.3 384h0M242.1 393.3h0M199.3 379.7h0M244.9 396.2h0M244.2 389.5h0M250.2 375.6h0M198.7 394.7h0M194 392.1h0M246.9 378.3h0M209.1 393h0M259.6 391h0M239.3 389.9h0M223.6 376.4h0M223.7 396.8h0M241.4 397.9h0M237.5 375.4h0M260.1 396.2h0M249.2 375.6h0M222.8 394.6h0M230.4 380.2h0M246.2 391.9h0M235.7 386.5h0M231.2 377.3h0M216.1 380.9h0M143.9 384h0M217.4 393.9h0M224.7 379.8h0M227.2 389.3h0M209.5 380h0M250.1 385.2h0M230.5 387.2h0M237.7 387.7h0M263.6 379.2h0M259.8 395.3h0M248.6 376.8h0M219.1 377.1h0M220.5 382.5h0M200.7 384.6h0M267 380.8h0M218.8 392.6h0M220.7 383.1h0M249.1 394h0M218.6 380.4h0M182.9 376.3h0M236 395.7h0M249.6 379.7h0M215.9 382h0M229.3 393.1h0M215.2 389.4h0M216.9 376.1h0M209 378.9h0M252.2 397.3h0M262.1 379.5h0M267.3 384.3h0M260.1 381.4h0M232.8 396.4h0M247.8 383.1h0M241.9 379.7h0M204.3 383.1h0M255.7 390.5h0M229.7 390.5h0M255.8 389.8h0M265.3 381.8h0M235.9 395.3h0M249.2 395.6h0M236.9 390.6h0M242.9 375.3h0M253.5 382.5h0M200.7 390.8h0M221 376.4h0M204.1 378.2h0M255.8 387.3h0M207.5 376.3h0M243.4 390h0M263.5 379.6h0M232.8 387.3h0M229.8 390.1h0M231.8 379.8h0M150.8 397h0M215.2 385.5h0M215 387.4h0M177.5 378.9h0M245 383.7h0M217.1 377.9h0M212.5 386.9h0M216 392.5h0M257.7 380.5h0M231.8 386h0M223.4 389.5h0M219.9 382h0M221.1 383.9h0M231.9 396.8h0M232.5 377h0M255.4 392.4h0M245.5 393h0M200.5 380.9h0M216.2 376.9h0M223.2 380.3h0M244 391h0M253.8 383.2h0M249.6 395.5h0M212.7 395.4h0M251 386h0M204.2 389h0M242.2 378.2h0M242.5 383.3h0M237.8 384.2h0M234.3 387.9h0M247.3 395.1h0M208 376.3h0M234.4 380.1h0M238.7 388.8h0M233.3 395.8h0M219.7 382.1h0M256.8 384.6h0M221.7 379.1h0M269.4 379.5h0M236.6 382.5h0M250.5 395.6h0M257.6 383h0M237.1 379.2h0M273.7 413.9h0M192.9 410.1h0M268.8 414.5h0M260.2 407.5h0M246 414.8h0M267.6 413.8h0M253.1 400h0M261.3 405h0M247.2 408.9h0M245 399.1h0M237.5 399.6h0M253.3 414.9h0M253.5 408.1h0M249.7 403.7h0M257.4 411.9h0M262.2 403.1h0M266.1 403.6h0M238.8 420.7h0M248.6 407.4h0M260.2 412.9h0M241.2 412.5h0M214.1 410h0M192.1 404.2h0M236.7 401.5h0M247.8 401.1h0M235 402.2h0M274.3 407.2h0M225.5 415.9h0M245.1 415.1h0M258.7 412.2h0M224.2 411.9h0M234.7 403h0M223.7 413.5h0M258.6 407.5h0M233.9 414h0M223.5 398.7h0M240.7 400h0M251 400.6h0M235 403.9h0M254.9 409.3h0M265.5 419h0M227.3 404h0M254.5 416h0M257.1 413.1h0M218.1 409.5h0M259.2 414.2h0M246.5 407.6h0M262.1 418.6h0M242.7 405.4h0M240 413.7h0M259.9 408h0M249.3 415.9h0M244.6 420.7h0M246.8 406.5h0M243.8 417.6h0M256.7 414.6h0M223.5 402.9h0M253.3 405.6h0M256.6 413.5h0M274.3 408.5h0M258 406.4h0M230.3 416.9h0M236.5 399.4h0M253.2 403.5h0M237.6 415.1h0M263.4 412.7h0M240.2 403.3h0M262.1 400.1h0M265.7 406.3h0M260.3 418.9h0M237.5 399.7h0M231.9 404.5h0M232.9 401.1h0M219.6 400h0M220 405.3h0M259.5 415.7h0M269 410.5h0M260.5 400.8h0M265 418.2h0M238.5 410.9h0M213.5 399.6h0M269.7 399.6h0M249.9 417.6h0M261.5 412h0M240.3 413.5h0M243.1 408.6h0M226.7 402.4h0M273.7 413.9h0M255.1 401.8h0M246.3 401h0M230.4 416.2h0M267.3 419.5h0M259.5 412.4h0M263 400.2h0M263.8 400.6h0M259.5 421h0M241.6 418.6h0M223.8 399.7h0M231 420.4h0M241.4 416.9h0M266.1 414.6h0M267.5 420h0M228.5 408.9h0M224.2 409.3h0M250.6 403.8h0M250.9 412.8h0M268.2 402.2h0M242.4 419.6h0M263.4 416.5h0M247.7 416.8h0M196.7 401.3h0M267.1 411.1h0M249.9 415.4h0M241.1 405h0M251.1 416h0M264.1 408.8h0M252.1 411.1h0M228.9 403.2h0M232.9 402.7h0M244.5 418.7h0M255.2 410.8h0M245.8 420.7h0M257.3 408h0M259.4 400.3h0M252 403.7h0M262.5 418h0M247.7 404.9h0M217.8 410.9h0M246.8 398.5h0M229 401.6h0M231.6 400.4h0M239.2 407.2h0M250 406.7h0M253.7 402h0M259.6 414.4h0M246 416.8h0M245.1 419.2h0M247.8 405.6h0M250.5 412.1h0M250.5 418.9h0M231.5 419.7h0M268.2 412.8h0M231.4 411.9h0M212 404.8h0M238 417.8h0M252 413.7h0M245.8 415h0M264.8 402.2h0M267.9 416h0M265.2 401.6h0M259.7 407.3h0M255.1 414.3h0M265.3 406h0M244.9 420.8h0M238.6 402h0M270.3 409.5h0M258.5 403.2h0M262.7 404.1h0M221.9 409.8h0M241.9 420.7h0M231.3 410.1h0M265.9 399.4h0M260.1 399.9h0M214.8 398.8h0M205.1 414.7h0M251.3 413.3h0M257.9 411.8h0M248.2 406.9h0M229.5 420.7h0M212.5 399.7h0M201.2 399h0M247.2 400.5h0M254.1 402.4h0M257.3 399.9h0M227.5 413h0M245.4 411.9h0M266.4 415.5h0M270.6 413.7h0M238.3 409.2h0M263.9 416.5h0M251.7 418.4h0M256.7 414.6h0M236.6 400.9h0M250.9 398.4h0M256.7 401.2h0M245.3 412.1h0M254.9 401.1h0M238.8 408.4h0M248.2 417.8h0M249.7 416.2h0M242.1 419h0M244.7 412.9h0M245.3 399.7h0M261.4 416.5h0M269.7 417.8h0M223.9 414.5h0M264.8 420h0M241.3 406.4h0M214.6 398.1h0M266.1 402.2h0M246.2 406.9h0M274.9 404.7h0M239.2 406.7h0M253.6 400.4h0M218 398.2h0M235.7 407.2h0M253 407h0M251.1 421h0M259.1 416.2h0M252.1 414.3h0M257.5 416.5h0M225.3 407.2h0M256.2 402.5h0M260.1 418.1h0M248.6 410.4h0M259.9 406.1h0M231.9 410.8h0M248.4 403.5h0M197.1 407.1h0M219 404.8h0M241.7 398.6h0M254.5 416.4h0M234.8 409.8h0M256.2 406.6h0M261.3 418.4h0M251.3 399.1h0M263.1 420.4h0M245 400.5h0M245.5 419.9h0M240.4 416.9h0M250.5 401.3h0M262.7 402.8h0M262.6 429.3h0M264.5 427.6h0M287.5 429.8h0M262.6 428.4h0M268.5 422.5h0M267.2 436.1h0M283.3 434.5h0M239.7 424.3h0M246.7 421.4h0M253.6 427.2h0M291.5 433.1h0M250.3 424.3h0M257.4 425h0M281.2 431.3h0M237.3 423.1h0M273.9 428.8h0M278.5 431.4h0M259 425.6h0M271.4 436.6h0M264.8 429.6h0M285.3 433.9h0M286.2 433.3h0M252 422.1h0M272.6 436.7h0M263.8 431.1h0M251.9 426.9h0M279.8 430h0M269.6 425h0M268.7 425.5h0M260.6 427.4h0M257.1 422.8h0M265.6 426.9h0M266 432.5h0M275.4 427.5h0M250.6 425.8h0M270.4 427.4h0M290.1 436.9h0M279.8 433.5h0M269.1 426h0M241.1 427.1h0M257.7 433.6h0M268 428.3h0M262.9 436h0M262.2 433h0M240.9 422.8h0M266.5 425.1h0M263.9 427.8h0M261.1 429.9h0M271.3 433.4h0M295.4 432.8h0M265 427h0M267 432.4h0M275.9 434.6h0M251.7 428.9h0M276.9 433.6h0M247.7 424.2h0M290.9 431.4h0M282.2 429.1h0M259.4 425.8h0M279.4 433.7h0M271.1 430.1h0M265.6 423h0M256.2 423.3h0M287.8 436.1h0M255.9 423.3h0M290.8 434.3h0M280.7 432.7h0M270.6 428.8h0M258.4 432.3h0M265.5 428h0M264.7 430.6h0M270.4 422.8h0M265.4 428.8h0M269.7 423.8h0M270.4 432.3h0M292.9 432.8h0M293.2 435h0M239.3 421.8h0M247 427.6h0M245.5 422.5h0M276.6 423h0M265.9 436.3h0M281.7 428.6h0M276.8 428.8h0M266 433.8h0M265.7 424.3h0M271.4 428.2h0M287.8 431h0M266.1 425.4h0M262.1 422.3h0M286.2 431.9h0M297.5 434.2h0M250.9 423.8h0M253.3 426.3h0M272.2 425.7h0M246 430h0M274.8 433.5h0M272.4 432.7h0M270.1 427.8h0M294.6 432.8h0M262.3 433.2h0M275.4 428.2h0M253.5 428.8h0M247.8 421.9h0M256.3 423h0M277 434.6h0M257.3 427.1h0M261.3 424h0M262.5 433.6h0M296.1 431.2h0M276 433.2h0M271 421.7h0M251.6 423.8h0M249.2 425.4h0M263.7 421.3h0M296.8 428.6h0M275.7 425.9h0M266.4 425.1h0M277.4 425.6h0M241.4 422.7h0M281.2 438.4h0M274.1 437.2h0M265.6 438.9h0M268.6 439.3h0M271.4 437.4h0M277 440.2h0M302.7 437.3h0M278.7 438.7h0M291.5 437.8h0M292.1 438.7h0M270.7 439.9h0M265.1 438.3h0M269.6 439.6h0M288.1 437.9h0M277.2 440.7h0M266.3 437.1h0M284.5 440.3h0M261.4 438.3h0M304.9 440.9h0M272.3 437.8h0M260.4 437.2h0M274.7 439.4h0M290.8 438.1h0M297 438.9h0M326.8 275.9h0M325.3 273.9h0M322.7 292.3h0M318.8 283.8h0M324.2 282.9h0M297.6 288.7h0M299.9 296.1h0M305.6 278.7h0M315.5 279.6h0M315.4 292.7h0M317.6 286.6h0M316.7 271.1h0M314.5 310.4h0M312.1 306.1h0M316.1 299.5h0M319.7 302.7h0M321.1 312.5h0M317.6 299.3h0M310.1 301.6h0M315.4 308.5h0M322 309.7h0M298.8 309.3h0M302.2 309.6h0M306.7 313.6h0M285.8 310.6h0M320.5 318.4h0M307.4 319.2h0M322.4 321.5h0M308.6 330.3h0M313.6 329.6h0M318.8 326.5h0M297.8 341.5h0M310.8 342.3h0M315.9 345h0M312.2 321.5h0M311.8 341h0M323.6 330.6h0M307.1 339.6h0M316.3 337.9h0M296.9 346.6h0M318 344.6h0M296.7 342.1h0M313.5 332.6h0M301.1 330.5h0M315.5 343h0M304.5 334.5h0M300.2 314.4h0M302.1 329.5h0M335 324.7h0M304.4 343.1h0M297.8 326.8h0M306.4 326.3h0M302.6 332.4h0M300.8 327.9h0M318.3 336h0M315.8 319.3h0M313.4 341.5h0M317.5 337h0M309.9 329.7h0M322.4 333.1h0M328 354.4h0M317.4 367h0M308.9 369.8h0M336.4 348.7h0M333.4 366.2h0M326.7 361.5h0M315.5 380.1h0M297.7 363.2h0M301.3 364.6h0M317.2 359h0M302.1 375.7h0M302.8 370.8h0M305.7 377.9h0M317.2 370.6h0M310.7 370.2h0M324 360h0M312.8 348.3h0M311.8 372.6h0M291.4 371.8h0M322.4 380.8h0M299.2 374.3h0M316.7 349.4h0M322.5 350.3h0M323.7 371.8h0M314.8 355.3h0M294.9 367.3h0M323 368.1h0M295.1 379.2h0M292.9 356.1h0M315 377.8h0M315 348.2h0M309 351.4h0M296 348.3h0M296.3 367h0M303.3 348.3h0M302.9 375.6h0M319.9 349.4h0M323.9 354.3h0M301.8 378.9h0M323.2 360h0M300.9 358.5h0M312.4 374.6h0M311.7 373.7h0M296.4 375.5h0M295.8 361.9h0M305.7 366.6h0M309 353.8h0M305.7 364.8h0M300 370.3h0M327.2 380.7h0M316 370.4h0M327.6 354.7h0M321.1 360.8h0M302 360h0M317.1 356.6h0M320.9 354h0M302.5 368.9h0M312.9 354.2h0M312.4 372.6h0M325.9 378h0M295.5 347.2h0M321.8 361.5h0M306 372.1h0M292.8 354h0M298.3 362.3h0M300.8 389.8h0M318.3 406.1h0M308.1 411.8h0M315.2 414.4h0M304.5 412.1h0M306.5 409h0M313.1 385.2h0M324.1 394.8h0M301.5 413.1h0M289.6 402.1h0M313.3 407.8h0M313.9 414.1h0M296.1 398.9h0M312.2 406.1h0M296.7 412.8h0M298.6 413.5h0M320.4 413.4h0M311.9 390.7h0M307.5 412.2h0M304.9 385.5h0M324 407.6h0M303.6 399.4h0M318.2 407.1h0M313.1 387.9h0M310.9 409.1h0M304.3 410.1h0M313.4 410h0M302.3 398.7h0M313.3 396.3h0M324.5 386.6h0M329.7 383.1h0M309.8 409.4h0M314.3 412.4h0M289.5 412h0M326.9 403.3h0M325.1 402h0M295.9 411.6h0M294.4 400.3h0M327.2 392.7h0M325.1 410.8h0M297.8 413.9h0M295.8 403.4h0M324.8 390.7h0M317.6 386.1h0M308.4 400.4h0M294.3 408.9h0M294.1 392.8h0M286.8 414.4h0M300.3 394.9h0M297.4 396.5h0M324.6 409.5h0M294.2 414.6h0M311.5 384.3h0M306.5 404.6h0M321.6 406.4h0M321.9 414.3h0M298 398.4h0M295.4 412.4h0M310.5 399.4h0M321.9 388.4h0M289.6 402.1h0M289.1 412.7h0M315.7 401h0M301.9 387.9h0M323 392.4h0M315.1 385.4h0M310 399.4h0M297 406.9h0M320.8 381.7h0M304 392.6h0M309.3 414.6h0M305.9 395.6h0M300.6 386.6h0M306.7 411.1h0M287.5 407.6h0M320.3 398.6h0M315.8 409h0M312.2 406.7h0M323.7 398.3h0M293.8 381.9h0M290 387.4h0M299.5 389.8h0M318.4 409.5h0M323.1 386.3h0M296.2 399.7h0M301.5 414.5h0M307.4 391.7h0M312.8 426.5h0M304.9 431.2h0M308.2 417.3h0M289.6 422.5h0M297.8 428.8h0M287.2 417.5h0M300.5 423.4h0M286.7 424.9h0M275.3 430.3h0M307.1 426.3h0M315.7 416h0M292.5 426.5h0M328.5 417.8h0M295.8 428.4h0M296.8 415.8h0M295.7 423h0M316.2 417.8h0M308.2 430.7h0M297.4 431.7h0M300.9 422.6h0M319.2 425.2h0M294.5 422.4h0M317.3 415.7h0M304.5 422.9h0M310.9 429.3h0M286.5 420.8h0M290.1 427h0M296.8 431.4h0M307.7 425.9h0M315.1 415.4h0M301.3 426.2h0M301 428h0M295.3 421.1h0M304 417h0M292.1 418.2h0M290.2 417.7h0M295.1 423.6h0M303 417.4h0M293.9 421.9h0M295.9 430.8h0M304.8 415h0M302.1 439.1h0M300.7 436.4h0M300.8 434.1h0M284.6 439.1h0M286.4 436.8h0M306.9 439.1h0M298.9 435.6h0M302.9 434.9h0M298.9 434.8h0M297.2 439.3h0M294.5 437.9h0M297.2 435.6h0M287.2 432.5h0M293.1 434.2h0M268.9 432.3h0M393.1 242.9h0M398.8 297.8h0M368 287.1h0M375.4 299.5h0M423.1 274.8h0M365.4 268.6h0M420.9 263.2h0M399.4 296.6h0M433.9 266.1h0M415.3 289.8h0M381 272.4h0M361.1 292.5h0M407.7 255.5h0M401.5 287.7h0M368.8 260.6h0M402.9 259.6h0M410.2 297.1h0M353 288.5h0M379.8 264.1h0M387.9 258.4h0M362.8 280.5h0M426.9 255.1h0M404.1 332.2h0M368.7 343.1h0M419.1 317.7h0M415.7 328.1h0M425.9 338.8h0M339.6 339.9h0M394.2 349.1h0M338.1 336.1h0M362 332.4h0M427 303.6h0M439.4 315.4h0M386.4 330.9h0M360.8 331.7h0M336.4 307.8h0M396.7 344.3h0M401.2 321h0M344.1 348.4h0M362 314.5h0M376.3 345.7h0M336.2 309h0M318.2 305.9h0M359.8 302.1h0M345.9 320.8h0M402.6 317.7h0M433.9 300.1h0M370.2 333.3h0M375.6 303.7h0M396.8 348.7h0M376.2 333.9h0M390.7 319.6h0M374.9 303.4h0M342.1 305.6h0M380.2 315.5h0M405.6 317.4h0M348.8 351.4h0M369.4 352.7h0M343 387.7h0M403.7 371.5h0M409.6 370.1h0M411.9 352.6h0M360 370h0M383.7 355.1h0M364.1 395.6h0M374.5 396.2h0M352.7 389.6h0M343.2 354.9h0M337.8 356.5h0M409.5 392.4h0M392.2 376.4h0M378.5 379.5h0M362.8 386.3h0M356 351.8h0M355.5 381.3h0M359.1 363.3h0M353.1 403h0M337.7 412.9h0M372.3 405.1h0M165.5 45h0M183.4 88.8h0M178.8 99.2h0M130.1 104.6h0M155.5 102.9h0M102.2 118.3h0M179.7 121.7h0M189.7 125.4h0M82.2 141.3h0M133 133.3h0M144.7 140h0M145.1 142.1h0M159.7 140.8h0M197.2 135h0M110.5 143.8h0M112.6 145.4h0M183.8 149.6h0M205.5 145.8h0M210.5 150.4h0M213.8 154.6h0M164.7 151.7h0M168.4 149.6h0M123.4 155.8h0M132.2 154.2h0M200.5 157.1h0M215.9 160.4h0M149.7 164.6h0M130.9 165h0M141.8 167.9h0M165.1 167.1h0M169.3 165.8h0M173 167.9h0M208.8 167.5h0M218.8 170h0M112.2 173.3h0M143.4 172.5h0M166.8 173.8h0M180.5 176.7h0M144.7 177.5h0M154.3 178.3h0M127.2 181.7h0M225.1 177.1h0M227.6 180.4h0M197.2 179.6h0M187.6 183.8h0M171.3 183.3h0M148 184.6h0M160.1 185.4h0M126.3 187.1h0M133 188.3h0M137.6 186.7h0M225.1 184.2h0M215.9 190.8h0M168.8 189.6h0M174.7 190.8h0M128.8 191.7h0M135.5 195h0M144.7 199.2h0M160.5 195h0M155.5 195h0M167.6 197.1h0M174.2 195h0M190.1 201.7h0M193.4 205.4h0M208.4 210h0M203.4 210.8h0M220.1 210.4h0M223.8 195h0M86.3 204.6h0M90.5 204.6h0M105.5 200.4h0M125.9 206.3h0M131.3 204.2h0M138.8 204.2h0M143.8 205.4h0M156.3 207.5h0M158.8 209.6h0M173 203.3h0M177.2 207.5h0M181.3 204.2h0M183.4 211.3h0M251.3 216.3h0M223 211.7h0M227.2 222.9h0M231.3 222.1h0M115.9 220h0M110.5 225.8h0M120.5 225.8h0M130.5 224.2h0M137.6 214.6h0M148 220.8h0M154.3 214.2h0M160.5 224.2h0M165.9 220h0M189.7 215.8h0M193.8 219.2h0M204.3 222.1h0M211.8 220h0M214.7 224.2h0M216.8 220h0M454.2 152.3h0M453.7 188.9h0M468.7 200h0M375.8 199.2h0M371.4 209.8h0M383.5 208.5h0M384.8 211.6h0M390.5 205.1h0M397 216.8h0M410.6 213.7h0M381.7 218h0M369.9 229.6h0M384.8 243.8h0M413.2 247.7h0M404 63.1h0" stroke="#c0c0c0" stroke-width="5.40" stroke-linecap="round" fill="none"/>
<path d="M632.2 198.9h0M696.3 203.5h0M686.8 204.1h0M656.8 196.4h0M666.9 203.7h0M671.5 207.7h0M702.8 213.9h0M686.9 205.6h0M677.1 214.3h0M663.6 210.1h0M660.5 210.8h0M706.5 209.4h0M646.5 213.6h0M739.4 210.1h0M684.4 211h0M655.6 213.1h0M651.2 212.7h0M703.8 211.2h0M646.3 212.4h0M667.8 205.9h0M642.3 207.4h0M650.5 213.5h0M694.7 214.9h0M692.4 212.6h0M718.2 214.6h0M646.2 211.2h0M666.1 208.7h0M658.4 216.1h0M688.4 222.2h0M662.2 227.2h0M693.9 222.7h0M653.2 222.8h0M671.5 215.7h0M664.5 225.5h0M674.8 228.6h0M704.6 215.8h0M680.3 219.1h0M704.6 228.8h0M652.2 226.3h0M716.2 222.5h0M666.5 227h0M665.2 223.9h0M675.5 225.2h0M666.7 223h0M713.6 228.1h0M677 227.3h0M686.2 219.7h0M645.2 225.7h0M676.2 227.1h0M647.7 219.6h0M653.4 225.4h0M667.2 227h0M659.5 228.6h0M643.3 218.3h0M671.7 216.5h0M690.3 228h0M740.8 228.4h0M722.4 219.8h0M675.1 220.6h0M685.8 228.2h0M670.3 220.3h0M637 228.8h0M691.8 218.6h0M666.9 218.1h0M705.1 229.3h0M691 225.1h0M687.7 215.1h0M652.5 221h0M687.5 247.8h0M683.2 247.8h0M670 241.6h0M674.2 244.1h0M717.4 231.7h0M708.2 236.2h0M708.3 245.8h0M675.3 233.9h0M644 238h0M674.4 237.1h0M701.4 242.6h0M696.6 236.1h0M662.1 240.7h0M718.5 246h0M674.7 233.6h0M614.5 234.8h0M679.8 230.3h0M680.9 239.1h0M674.4 238.8h0M698.5 232.9h0M708.4 247.4h0M660.3 245.1h0M734.5 240.2h0M689.2 243.5h0M677.5 243.8h0M679.1 243.1h0M708.4 233.8h0M655.4 247.8h0M663.8 237.1h0M647.3 235.1h0M659.8 234.5h0M640.4 237.1h0M735.6 242.8h0M663.1 230.1h0M676 237.9h0M679.4 237.7h0M590 237.9h0M630.1 230.8h0M663.3 245.5h0M711.7 245.6h0M677.1 245.7h0M673.9 241.4h0M699.4 246h0M694.8 235.4h0M661.2 238.4h0M698.3 235.8h0M744.2 235.6h0M681.8 234.2h0M710.1 242.4h0M720.8 241.5h0M687.8 244.4h0M693.1 233.1h0M686.8 235.2h0M670.3 241.6h0M693.8 240.9h0M660.7 245.1h0M693.8 247.9h0M648.9 235.5h0M649.1 231h0M664.7 241.8h0M710.2 242.8h0M641.9 239.1h0M677.2 240.7h0M710.9 238.7h0M681.6 237.1h0M732.5 232.9h0M648 241.1h0M664.3 237h0M712.1 236.2h0M684.9 244.5h0M669.1 231.2h0M656.8 240.4h0M686.7 243.9h0M656.2 231.2h0M715.2 245.5h0M668.4 243.1h0M678 242.4h0M706 239.1h0M656.5 245.7h0M772.2 230.3h0M661.2 247.9h0M677.5 232.3h0M675.1 235.8h0M666.4 243.7h0M660.8 234.4h0M674.6 242.3h0M662.8 240.5h0M691.2 242.4h0M688.8 233.4h0M655.1 231.3h0M692.9 238.6h0M702.6 234.4h0M688.8 246.9h0M629.7 230.6h0M690.2 236.8h0M669.8 238.4h0M708.3 244.1h0M698.9 246.7h0M729.3 246.8h0M645 244.8h0M644 234.6h0M666 239.2h0M673.2 253.6h0M673.7 257.1h0M714.7 260.4h0M659 255.6h0M708.2 249.5h0M650.6 254.2h0M667.3 251.3h0M651.1 254.8h0M651.3 269.6h0M698.9 261.5h0M707.5 248.9h0M697.9 252.2h0M686.7 269h0M632 264.6h0M714 251.9h0M691.3 250.3h0M666.7 257.4h0M728.6 252.9h0M640.6 265.9h0M705.2 256.2h0M683.5 252h0M672.9 264.6h0M706 263.1h0M713.4 270.2h0M693.8 254.3h0M642.9 266.3h0M689.8 255.2h0M628 252h0M638.1 269.9h0M643 266.5h0M719.8 251.3h0M654.7 255.6h0M709.3 254.5h0M724.8 256.6h0M704 253h0M690.7 269.5h0M677.5 262.4h0M680.2 265.9h0M705.9 269.5h0M694.3 251.4h0M677.7 262h0M666.6 267.4h0M712.5 262.7h0M720.6 264.5h0M694.6 255.9h0M706.7 266.6h0M682 263.5h0M703.8 251.4h0M703.7 254.1h0M713.2 263.7h0M670.9 250.1h0M748.3 264.4h0M651.7 268.7h0M695 265.7h0M792.3 270.9h0M677.4 261.5h0M687.9 260.5h0M754.6 266.3h0M698.9 254.2h0M669 266h0M664.7 248.9h0M686.8 249.4h0M709.4 257.4h0M670.4 260.2h0M677.1 267.4h0M722 265.2h0M687.9 266.2h0M717.5 265.8h0M716.7 260.2h0M635.8 267.9h0M667.9 271h0M660.8 261.4h0M652.9 269.8h0M661.5 265h0M712.9 260.6h0M706.4 264.1h0M653 249.1h0M669.1 251.9h0M669.7 265.8h0M699.2 249.4h0M720 267.8h0M727.4 260.3h0M689.2 260.6h0M686.5 260.6h0M693.2 253.8h0M672.8 265h0M663 260.6h0M676.2 256h0M711.8 249.9h0M651.3 266.1h0M718.2 265.2h0M679.1 249.5h0M689 259.6h0M686.8 260.9h0M700.2 265.4h0M666.6 270.4h0M644.1 264.4h0M680.1 250.7h0M702.2 267h0M686.3 249.3h0M719.7 263.5h0M708.9 249.6h0M677.8 263.4h0M666.4 259.9h0M657.1 251.6h0M691.9 265.9h0M660.1 270.7h0M663.4 251.1h0M687.4 261.7h0M687.2 267h0M677.4 258.8h0M665.9 252.4h0M658.9 265h0M713.4 260.1h0M650.2 248.6h0M709.3 269.8h0M735.8 266.9h0M668.5 269.1h0M706.5 270.8h0M643.2 252h0M644.9 267.6h0M658.9 258.4h0M686.5 263.9h0M702.9 268.5h0M729 263.4h0M670.2 267.4h0M719.4 255.6h0M669.3 255.4h0M695.7 269.6h0M683.7 251.2h0M677.4 262.3h0M682.4 263.5h0M679.9 265.5h0M714.3 260.1h0M682.1 269.5h0M727.9 260.8h0M685.1 259.5h0M709.5 256.3h0M676.9 256.5h0M653.1 254.4h0M668.9 252.8h0M657.3 267.4h0M660.2 260.2h0M646.5 264.9h0M711.3 268.5h0M692.4 267.4h0M654.7 264.8h0M662.5 256.9h0M670.4 266.9h0M706.8 250.7h0M650.1 252.7h0M736.7 250.5h0M748.8 253.3h0M659.9 255.3h0M646.6 261.1h0M688.9 257.4h0M660.2 257.2h0M704.1 250.9h0M648.2 265.6h0M662.9 256.2h0M648.3 257.5h0M665.4 251.5h0M698.1 254h0M672.3 254.8h0M703.7 270h0M703.7 251.9h0M698.2 251.1h0M725 257.1h0M705.4 254.3h0M733.5 261.8h0M700.3 268.1h0M742.1 259.5h0M645.4 262h0M635 250h0M743 268.4h0M671.6 267.6h0M675.3 261h0M730 257.8h0M673.8 254.3h0M708.5 261.2h0M665.3 263.2h0M648.4 263.3h0M630.3 265.4h0M695.1 269.5h0M709.1 269.5h0M705.3 267.1h0M686.2 249.3h0M655.1 249.8h0M657.6 253.7h0M648.4 258.5h0M695.3 263h0M724.1 252.8h0M680.2 268.8h0M648.7 248.1h0M688.5 269h0M703.7 262.4h0M705.6 262.7h0M689.7 254.3h0M691.5 252.7h0M656.1 270.7h0M691.9 248.1h0M671.2 249.9h0M628.8 261.8h0M683.5 254.8h0M666.3 249.7h0M708.8 258.1h0M686.3 269.2h0M663.4 260.8h0M692.2 253.2h0M710.1 266.1h0M691.2 290.2h0M736.4 282.6h0M739.6 273.1h0M708.6 291.6h0M736 280.5h0M681.9 277.5h0M681.1 272h0M701.1 289.7h0M680 272.7h0M665.7 292.5h0M633.8 287.7h0M722.4 276.6h0M717.1 276.7h0M644.5 282.2h0M708.1 273.7h0M705.7 277.4h0M632.1 281.8h0M729.6 274.2h0M694.8 292.4h0M712.3 292.9h0M650.4 282.5h0M664.6 290h0M640.3 275.8h0M641.1 289.9h0M681.4 274.4h0M679.4 285.1h0M676.4 291.5h0M694.1 284.5h0M682.7 289.5h0M696.3 278.8h0M675.5 289.1h0M719 286.9h0M662.3 272.8h0M672.5 280.6h0M656.1 277.6h0M686.3 271.6h0M691.9 273.3h0M685.5 292.7h0M713.9 281.9h0M688.9 287.6h0M658 278.4h0M671.2 275.1h0M711.8 285.3h0M666.3 287.8h0M708.1 282.6h0M704 288.8h0M704.9 273.4h0M657.3 274.1h0M699.8 289.6h0M732.5 280.2h0M711.4 288.4h0M662.6 286.7h0M676.7 287.9h0M689.5 275.1h0M655.3 291.4h0M676.4 282.7h0M662.6 286.1h0M709.3 287.5h0M694.2 279.3h0M726.7 278h0M694.7 275.3h0M710.6 275.7h0M721.9 278.7h0M711.5 291.9h0M661.6 277.3h0M712.7 285h0M720.1 292.7h0M717.1 285.9h0M697.4 278.9h0M691.8 278.3h0M687.8 273.4h0M659.7 283.2h0M684.6 288h0M746 290.3h0M710.6 282.2h0M688.7 272.5h0M731.2 284.2h0M749.9 283.1h0M665.5 283.9h0M642.7 280.9h0M687.1 283.9h0M652.7 288h0M680.1 289.3h0M671.2 286h0M696.3 284h0M655.7 284.5h0M726.1 285.2h0M632.5 287.1h0M632.5 287.6h0M657.1 281.6h0M693.9 290.3h0M642.9 272h0M698.4 272.7h0M684 290.1h0M700.8 292.8h0M662.1 276.4h0M711.4 288.2h0M715.1 272.5h0M699.7 279.6h0M692.5 280.2h0M681 280.6h0M696 289.9h0M699.8 284.6h0M692.8 290.2h0M701.6 280.8h0M769 291.6h0M714.9 284.6h0M678.7 282h0M683.8 272.7h0M716.7 290.2h0M668.3 283.3h0M644.6 279.4h0M726 290.3h0M670.8 287.8h0M730.5 285.6h0M676.1 274.5h0M750.2 285.4h0M701.2 282.2h0M695.7 284.8h0M675.7 289.6h0M704.9 272.3h0M720.4 281.7h0M713.6 288.3h0M675.9 278.9h0M696 292.2h0M760.5 281.8h0M658.9 283.6h0M731.8 277.4h0M679 273.5h0M701.4 272.9h0M714.1 277.1h0M732.7 286.2h0M661.2 280h0M659.8 289.4h0M675.3 279.5h0M704.9 290.3h0M707.3 290.3h0M654 285.8h0M695.6 293h0M723.7 289.2h0M669.6 288.3h0M657.1 275h0M643.7 279.3h0M691.5 280.3h0M642.8 291.8h0M699.5 277.1h0M646.1 274.7h0M594.5 277h0M686.6 287h0M737.4 283.5h0M665.8 271.1h0M673.9 284.5h0M709.8 292h0M707.1 277.6h0M675 288.2h0M753.3 275.8h0M716.4 274.1h0M712.5 284.3h0M655.9 277.4h0M676.2 292.2h0M678.2 287.2h0M740.3 280.3h0M671.6 276.5h0M686.8 277.5h0M679.3 277.8h0M731.5 272.1h0M669.3 272.7h0M713.2 271.9h0M706.7 291.6h0M713.2 281.3h0M736.2 287.7h0M695.7 276.9h0M713 281.3h0M645.4 283h0M721.6 278.6h0M703.2 272.5h0M696.9 281.7h0M676.9 278.4h0M646.7 289.4h0M685.3 273.3h0M658 282.9h0M732.8 286.6h0M668.7 273.1h0M641.1 290.6h0M672.7 289.3h0M710.1 284.7h0M701 277.6h0M683.5 286h0M725.6 284.4h0M679.5 282.4h0M690.7 280.7h0M701.7 291.5h0M681.9 273.7h0M703.4 271h0M671.5 281.5h0M666.5 288.8h0M696.5 279.2h0M686.6 288.8h0M658.9 274.6h0M672.5 282.3h0M633.4 282.2h0M702.8 280.6h0M705.8 273.4h0M635.1 289.9h0M699.4 286.3h0M730.5 283.3h0M667 289.7h0M647.2 292h0M670.4 274.9h0M653.1 284.5h0M710.1 290.8h0M698.9 282.4h0M691.7 272.3h0M631.6 273.5h0M694.1 272.3h0M736 271.8h0M632.1 292.3h0M710 288.9h0M751.6 279.3h0M736.5 276.5h0M707.9 274.3h0M681 290.3h0M676.6 277.4h0M715.9 288.1h0M680.1 290.1h0M697.3 281.6h0M667.6 287.2h0M706.8 282.2h0M697.3 288.5h0M701.6 278.6h0M720.7 290.8h0M704.5 283.4h0M804.9 290.3h0M691.9 278.1h0M642.7 285.3h0M718.9 287.4h0M730.6 280.7h0M633.1 292.2h0M726.9 280.4h0M665.3 284.9h0M655.6 273.9h0M715.8 283.4h0M696.6 289.2h0M686.8 286.5h0M703.7 284.9h0M712.2 287h0M689.6 283h0M728.5 283.6h0M740.8 308.6h0M670.4 311.9h0M698.1 312.7h0M682.9 296.5h0M685.6 308.1h0M636.9 297.1h0M720.7 308.8h0M668.6 313.7h0M710 313.8h0M728.9 312h0M685.7 298.3h0M732.7 299.7h0M728.4 303h0M662.2 310.4h0M671.4 302.1h0M693.4 300.9h0M683 314.6h0M673.5 297.9h0M699.8 308.2h0M715.5 302.4h0M710.8 306h0M653.7 296.6h0M695.4 305.8h0M736.2 305.9h0M716.3 301.9h0M716.1 293.2h0M707.6 293.7h0M663.4 307h0M708 309.4h0M675.9 312.8h0M732.2 314.2h0M688.5 315.2h0M733.6 300h0M665.6 296.1h0M690.2 301.7h0M678 302.5h0M665.2 308.6h0M671.5 299.9h0M733.4 297.9h0M744.8 303.4h0M654.6 298.8h0M675.8 295.1h0M733.7 312h0M650.6 297.9h0M731.8 314.5h0M725.9 297.5h0M664.2 307.2h0M677.2 297h0M726.1 311.3h0M724 311.7h0M750.1 307.2h0M658.7 293.6h0M665.7 300.4h0M721.3 302.9h0M720 301.8h0M742 297h0M699.4 297.4h0M716.2 311.1h0M749.1 293h0M666.9 312h0M717.9 298.6h0M731.5 298.5h0M696.3 308h0M726.8 311.4h0M710.6 297h0M681.6 311.4h0M664.9 302.3h0M712.9 315.1h0M738 306.3h0M700.3 313.7h0M679.9 294.3h0M729.8 294.3h0M685.4 293.4h0M724 300.3h0M712.3 311.2h0M722.4 302.7h0M681.4 307.9h0M715.1 301.3h0M715.8 304.5h0M729.7 314.8h0M685.1 309.1h0M679.9 301h0M677.1 295.8h0M715.8 304.9h0M671.7 301.3h0M700 294.6h0M666.3 310.6h0M657.9 304.6h0M710.3 294.2h0M691.8 308h0M694.3 293.6h0M679.1 294.3h0M732.1 299h0M745.8 307.1h0M664.1 309.2h0M717.7 299.1h0M734.1 311.2h0M696.3 313.1h0M733.5 315.1h0M713.5 309.5h0M677.8 314.9h0M717.9 305.9h0M650.9 314.2h0M657.5 298.9h0M697.3 311.1h0M685.1 303.6h0M726.6 301.6h0M693.4 314.7h0M667.8 295.5h0M677.5 301.2h0M724.3 309.4h0M716.5 307h0M676.8 310.2h0M669.8 304.9h0M708.3 301.2h0M746.8 308.2h0M657.1 314.4h0M688.9 301.9h0M684.7 299.3h0M692.1 314.8h0M688.4 312.4h0M698.4 302.5h0M674.9 299.2h0M671.1 308h0M669.6 311.8h0M667.7 295.7h0M691 300.2h0M662 307.2h0M692.7 300.9h0M762.6 313.6h0M653.1 305.1h0M736.3 302.9h0M680.3 309.2h0M740.8 304.2h0M695.5 298.2h0M689.9 302.2h0M747.9 309.1h0M704.2 296h0M712.9 305.5h0M691.6 306h0M690 296.5h0M691.9 312.8h0M716.7 315.1h0M715.6 312.3h0M745 303.1h0M644.5 306.5h0M689.2 311.3h0M687.8 303.2h0M632.6 302.6h0M686.5 314.7h0M673.3 300.7h0M687.6 308.4h0M673.5 309.9h0M730.3 297.7h0M716.8 299.4h0M691 296.2h0M665.9 309.2h0M673.2 313.2h0M681.6 300.3h0M670.3 307.9h0M744.9 311.6h0M666.4 315h0M661.2 294.2h0M688.6 306.7h0M672.3 310.7h0M818.1 304.4h0M679.5 297h0M740.3 310.4h0M647.8 311.2h0M694.7 314.1h0M682.3 303.2h0M679.5 311.6h0M670 299.1h0M687.8 306.2h0M673.6 300.5h0M741.6 311.6h0M759 314.1h0M657.9 303.2h0M709.1 307.8h0M652.9 306.4h0M691 299h0M710.5 297.5h0M674.3 307.7h0M691.5 312.3h0M644.6 308.2h0M657.9 314.4h0M679.2 294.8h0M722.8 314.1h0M683.9 315.2h0M662.2 310.1h0M680.1 303h0M697.6 315.8h0M687.3 308.4h0M706.9 314.5h0M729 307.5h0M693.4 298h0M690 308.6h0M681.6 293.1h0M711.6 300.8h0M760.2 300h0M717.6 300.7h0M701.1 296.3h0M682.5 308h0M726.1 299.6h0M655.5 315.3h0M654.6 306.6h0M705.5 314h0M714.9 302.2h0M683.7 295.2h0M683 313.4h0M704.2 315.6h0M716.1 307.7h0M690 296.3h0M725.2 312.8h0M707.1 309.5h0M685.2 295.2h0M668.5 293.3h0M765.9 315.5h0M702.4 312.5h0M717.7 297.3h0M683.1 315.4h0M643.3 303.8h0M695.1 308.9h0M700.6 313.2h0M656.7 309.8h0M689.3 314.9h0M642.9 295.6h0M662.8 294.1h0M702.9 299.2h0M673.3 299h0M731.1 310.2h0M674.3 315.3h0M684.9 298h0M729.5 305.6h0M705.2 311h0M740.9 302.9h0M693 310.7h0M691.3 304.4h0M690.1 314.4h0M686.6 315.9h0M704.8 303.2h0M716.7 304.6h0M699.3 303.6h0M682.8 312.1h0M717.6 304.7h0M676.2 313.3h0M709 309h0M700.6 312.1h0M703.8 301.5h0M668.5 314.1h0M678.9 304.9h0M658.2 297.8h0M735.5 312.4h0M665.4 308h0M720.2 302h0M688.6 300h0M719.2 301h0M650.9 297.8h0M711.7 297.9h0M707.8 308.5h0M775.8 315.9h0M730.6 302.8h0M704.5 314.5h0M692.8 307.3h0M717.4 301.2h0M648 298.9h0M723.3 311.3h0M730.1 305.6h0M687.6 302.3h0M754.6 295.4h0M668.4 298.2h0M671.5 297.6h0M669.4 294.9h0M675.1 307.2h0M737.3 312.9h0M696 304.2h0M664 313h0M712.6 312h0M673.2 304.9h0M712 302.3h0M714.4 314.3h0M705.4 299.6h0M719 305.2h0M712.4 299.4h0M745.1 306.1h0M723.4 306.9h0M670.1 312.4h0M711.5 315h0M714.9 304.2h0M726.5 310.4h0M710.5 308.5h0M728.1 296.2h0M639.1 295.5h0M664.7 308h0M658 294.6h0M696.3 314.9h0M731.9 309h0M690.8 298.9h0M722.2 315.3h0M685.2 301.5h0M709.9 306.2h0M701 306.1h0M724.9 295.8h0M721.6 305.9h0M693.9 296.4h0M748.8 312.5h0M659.5 296.6h0M718 315.8h0M663.2 314.8h0M707.7 295h0M713.3 303.6h0M678.2 315.2h0M662.3 294.2h0M715.1 313.8h0M719.7 307.8h0M713 299.3h0M637.7 297.5h0M710.5 302.6h0M673.3 296.8h0M699.8 299.9h0M671.7 314.5h0M637.4 308.2h0M670.4 300.9h0M691.8 302.3h0M661.1 299.5h0M687.9 301.8h0M701.4 315.2h0M741.8 310.7h0M677.5 313.5h0M731.7 295h0M650.7 300.3h0M730.2 294.5h0M699 300.9h0M674.2 319.9h0M652.7 323.8h0M684.5 323.2h0M732 332.7h0M736.4 316.7h0M732.9 324.1h0M671.1 332.4h0M719.5 317.9h0M716.2 327.7h0M685.7 327.2h0M709.5 319.3h0M730.1 327h0M749.9 331.5h0M665 327.9h0M683.5 326.1h0M712.5 325.4h0M707.3 323.6h0M713.4 324.4h0M714.7 318.9h0M688.4 318.4h0M728.3 322.4h0M690 317.7h0M678.4 334.5h0M717.7 331h0M733.3 319.8h0M741.1 329.6h0M706 316.6h0M751.5 316.8h0M734.1 327.9h0M671.3 326.4h0M755.8 334.3h0M703.8 323h0M697.5 326.2h0M696.1 322h0M738.5 319.8h0M760.9 333.3h0M751 325h0M665.5 325.1h0M656 317.1h0M730.4 317.2h0M754.6 322.3h0M701.3 323.4h0M699.3 327.7h0M715.2 326h0M742.8 326.5h0M684.7 331.6h0M714.9 323h0M704.3 322.1h0M721.8 317.6h0M729.3 317.4h0M698.7 322.1h0M692.3 319.7h0M710.4 323.2h0M725.2 316.9h0M722 316.9h0M683 327.4h0M718.5 333.5h0M731.1 319.6h0M766.3 325.6h0M739.4 324.3h0M713.7 319.1h0M735.5 324.5h0M714.8 317.5h0M748.2 323.2h0M678.3 330.7h0M701.8 320.9h0M672.9 325.1h0M732.3 324.5h0M741.2 321.8h0M671.1 330h0M672.9 323.5h0M729.2 333.1h0M689.6 330.4h0M750.7 329.2h0M705 316.7h0M704.4 323.8h0M674.1 320.1h0M749.4 329.2h0M721.6 321.6h0M689.9 324.1h0M725.9 324.6h0M671.7 334.8h0M762.4 332.7h0M705.9 324.5h0M645.4 317.4h0M729.7 326.1h0M741.6 319.4h0M731.3 330.5h0M678.3 331.2h0M688.8 326.5h0M680.3 320.1h0M711.3 317.9h0M726.1 330.6h0M654.2 334.8h0M715.8 321.5h0M747.6 328.6h0M705.8 317.8h0M739.2 317.6h0M671.5 330.2h0M686.2 322h0M713 330.3h0M746.6 330.1h0M720 329.6h0M678.3 323.9h0M699.7 324.7h0M740.6 331.8h0M721 322.7h0M740 322.7h0M740.6 318.5h0M747 324.1h0M665.9 322.2h0M730.5 322.7h0M738.4 324.9h0M707.6 316.6h0M671.6 323.7h0M719.4 330.1h0M697.2 332.5h0M723.9 325.3h0M739.6 317.2h0M695 319.8h0M688.6 318.4h0M667.6 319.9h0M718.3 319.2h0M708.8 323.9h0M700.5 325h0M743.4 330.7h0M749.2 319h0M730.5 324.9h0M742.9 330.5h0M735.6 329.6h0M720.3 316.7h0M669.3 331.4h0M708 327h0M735.3 329.5h0M723 318.3h0M640.5 324.6h0M709.2 334.1h0M714.9 322.4h0M750.3 325.3h0M686.3 320.4h0M714.8 324.3h0M726.1 317.5h0M745.8 321.7h0M733.1 318.8h0M775.4 325.4h0M688.7 318.3h0M719.8 326.6h0M690.9 331.9h0M737.8 329.2h0M747.1 334.6h0M765.5 332.5h0M697.4 318h0M667.1 324.4h0M670.9 321.4h0M691.4 322.9h0M729.9 321.8h0M721.4 333.2h0M698.9 318.5h0M659 316.9h0M710.3 323.7h0M707.5 321.4h0M723.1 327h0M716.4 319.1h0M730.3 317.5h0M633.4 334.8h0M708.1 335h0M688.6 322.4h0M679.6 323.4h0M718.1 319.1h0M678.5 322.3h0M703.2 332.6h0M664.2 334.8h0M724.9 323.1h0M729.7 331.9h0M662.6 318.9h0M690.7 316.3h0M742.6 322.9h0M726.7 322.6h0M716.2 320.6h0M681.5 330.9h0M762.6 323.6h0M670.8 318.7h0M730.4 330.7h0M726.6 324.2h0M761.6 332.7h0M731.1 332.1h0M671.8 324.9h0M738.3 324.5h0M738.3 317.7h0M695.5 327.8h0M750.9 326h0M658.4 331.4h0M715.2 322.4h0M712 327.3h0M690.5 317.6h0M697 330h0M709.4 321.1h0M669.2 328.2h0M757.5 319.8h0M708.1 333.6h0M713.6 330.5h0M684 324.4h0M705.5 327.7h0M715.7 329.8h0M667.8 324.3h0M689.6 318h0M661 320.7h0M675.3 327.8h0M679.4 333.6h0M706.1 317.7h0M687.6 321.5h0M672.1 319.1h0M671.2 322.5h0M672 327.4h0M688.8 326.3h0M736.3 329.4h0M695.3 317.3h0M716.6 321.1h0M729.5 332.5h0M731.7 331.7h0M681.5 317.4h0M669.7 333h0M755.9 322.2h0M724.8 321.3h0M783.5 326.4h0M695.6 317h0M718.6 320.4h0M731.1 330.7h0M691.9 322.4h0M685.3 333h0M705.2 334.1h0M692.9 327.4h0M768.8 327.2h0M697.9 316.8h0M680.3 327h0M698.8 316.6h0M670 324h0M685.7 321.7h0M695.3 326.5h0M746.4 319.1h0M746 319h0M679.1 328.4h0M699.3 326.1h0M693.7 319.2h0M729.6 321.9h0M737.8 321h0M749.9 321.6h0M637.1 321.8h0M708.5 334.6h0M686 334.4h0M736.2 322.2h0M702.9 318.2h0M617 322.6h0M721 324.5h0M669.5 334.4h0M735.2 328.2h0M678.8 324.4h0M721.9 333h0M733.2 329h0M730.2 327.3h0M715.4 325.3h0M684.9 322.9h0M740.4 322.8h0M728.5 325.2h0M755.9 334.4h0M723.8 331.9h0M725.3 319.4h0M744.4 329h0M697.4 319.4h0M730.5 329.8h0M694.5 330.4h0M753.3 322.7h0M763.8 328.9h0M716.6 316.5h0M687.5 325.4h0M680.5 329.6h0M689.5 316.8h0M727.5 316.1h0M753.1 331h0M708.1 327.4h0M664.6 324.6h0M746.5 331h0M693.6 330.7h0M672.6 323.7h0M699.8 316.9h0M719.9 326.5h0M694.7 321.8h0M748.6 334.8h0M683.1 318.7h0M721.5 317.2h0M682.5 330.5h0M675.9 324.1h0M661.8 327.7h0M681 335h0M716.4 324.1h0M707.8 330.7h0M697.9 327.3h0M731.3 332.6h0M726 319.3h0M738.2 318.4h0M698 323.3h0M741.5 326.8h0M631.9 319.7h0M748 326.7h0M745.6 331.3h0M743.3 329.4h0M682.5 323.1h0M730.4 331.7h0M678.7 320.9h0M700.5 332h0M670.1 318.2h0M653.4 334.8h0M726.5 325h0M655.6 317.4h0M741.8 325.8h0M703.4 333.2h0M671.7 331h0M722.1 329.6h0M737.8 332.7h0M721.2 327.4h0M756.3 327.7h0M736.8 325.4h0M719.4 330.4h0M698 320.6h0M757.3 331.6h0M749.5 321h0M710.4 323.6h0M649.7 323.4h0M665.7 328.7h0M648.6 316.8h0M668.8 322.8h0M758.9 323.4h0M696.7 322.3h0M723.7 327.2h0M685.5 325.2h0M745.2 322.3h0M730.2 322.8h0M665.3 333.4h0M679.4 343.4h0M742.4 340.4h0M653.3 348.6h0M701.6 350.6h0M674.3 352.9h0M673.5 347.1h0M731.1 343.5h0M740.5 341.6h0M724.2 352.4h0M720.7 340.5h0M666.6 340.4h0M761.5 346.8h0M730.1 336.5h0M745.6 342.9h0M743.1 350.6h0M659.2 341.5h0M681.3 347.6h0M710.5 340.5h0M713.5 341.8h0M744.7 346.7h0M742.2 351.7h0M732.3 350.8h0M748.8 346.3h0M705.7 340.2h0M716.7 352.5h0M721.5 347.4h0M678.6 341.7h0M732.8 335.1h0M710.7 337.5h0M694.2 341.2h0M732 337.6h0M720.7 337.7h0M745.6 338.4h0M726.7 349.8h0M704.9 352h0M727.4 336.9h0M721.8 341.3h0M741.5 336h0M726 349.2h0M718.9 342h0M683.9 337.4h0M706.5 341.6h0M720.8 346.6h0M680.5 337.6h0M750.3 347h0M747.8 337h0M688.7 344.6h0M711.7 340.6h0M730.8 344.7h0M749.7 346.8h0M728.7 344.4h0M742 345.1h0M681.4 338.8h0M763.1 338.9h0M743.9 344.2h0M709.1 347.1h0M732.2 337.9h0M719.3 339.5h0M696.1 335.5h0M709.4 349.6h0M731.2 344.8h0M768.1 344.4h0M710.7 335.3h0M693.9 337.5h0M668 342.2h0M708.3 342.6h0M698.3 343.9h0M691.9 345h0M731.4 352.6h0M706.7 338.7h0M714.1 351.7h0M675 351.1h0M680.4 338.2h0M761.4 346h0M707.6 345.5h0M720.9 341.4h0M718.6 343.5h0M697.4 347.3h0M717.3 337.1h0M707 349.1h0M749 340h0M693.8 340h0M722.6 344.1h0M752.7 347.3h0M720.8 344.4h0M722.5 339.9h0M710.7 351h0M707.3 339.6h0M749.8 335.2h0M724.8 344.9h0M701.9 349.3h0M730.5 336.6h0M724.2 339h0M695.9 335.4h0M719.2 352.2h0M734.2 347h0M707.7 343.7h0M706.4 336.3h0M736.2 351.2h0M685.1 345.7h0M762.3 341.8h0M704.2 339.7h0M712.5 337.8h0M665 346.7h0M717.1 338h0M747 339.7h0M733.2 344.6h0M744.9 351.1h0M718.4 348.5h0M746.7 337.1h0M730.4 340.6h0M739.8 338.3h0M726.3 349.6h0M712.7 344.9h0M738.1 340.6h0M707.6 341.9h0M715.6 337.9h0M706.6 351.1h0M708.5 335.9h0M700.3 351.2h0M722.9 346.1h0M723.9 342.9h0M724 351.7h0M744.1 351.8h0M746.5 349h0M733.2 343.6h0M670.6 337.5h0M714 346h0M678.3 337.1h0M715.3 342.7h0M709.8 335.8h0M717.5 338.8h0M686.1 339.5h0M685 349.2h0M746.1 349.5h0M683.9 349.2h0M711.4 335.3h0M631.6 350h0M733.4 338h0M745.5 336.5h0M762.7 347h0M711.1 338.6h0M694.8 341.3h0M758.6 350.2h0M745.5 345.6h0M710.2 346.6h0M685.5 351h0M743.8 349.8h0M720.6 351.2h0M757.6 351.6h0M715.1 344.9h0M681.5 335.1h0M744.3 346.2h0M748 345.7h0M694.4 346.6h0M701.9 344.3h0M721.8 351.9h0M740.7 343.6h0M720.9 341.8h0M698.1 341.2h0M725.5 345.8h0M690.7 338.7h0M702.2 339.8h0M749.3 351.1h0M742.1 341.2h0M699.6 335.8h0M698.1 349.3h0M694 338.5h0M689.9 342.9h0M713.6 351.5h0M721.4 336.7h0M693.3 342.7h0M712.4 338.1h0M722.1 337.7h0M694.7 349.7h0M678 346.9h0M698.1 349.1h0M750.7 338.6h0M694.3 335.5h0M761 340.2h0M718.4 348.7h0M687.8 343.4h0M757 350h0M680.6 343.6h0M739.8 351h0M706.3 348.9h0M670.6 349.3h0M745.1 351.8h0M740.9 346.1h0M691.3 348.5h0M714.4 352.7h0M704.1 341.3h0M737.6 336.4h0M743.7 339.9h0M693.5 343.2h0M732.7 343.3h0M751.3 350.9h0M737.3 338.8h0M721.6 336.2h0M734.7 337.3h0M708.1 346.2h0M690.4 342.5h0M747.2 351.8h0M717.3 340.7h0M763.1 342.4h0M705.9 343h0M630.8 343h0M723.4 343.5h0M690 344.3h0M726.2 338.6h0M749.6 347.3h0M720.5 347.6h0M686.9 344.9h0M732.7 350.5h0M692.2 348.4h0M721.6 338.3h0M731.4 350.6h0M694.1 339.2h0M719.5 344h0M719.5 339.8h0M745.5 336.3h0M682.7 335.8h0M686.9 345.7h0M741.3 346.6h0M695.2 347.7h0M739.3 350.6h0M759 345.5h0M709.3 338.3h0M725.6 345.6h0M735.1 347.7h0M708.9 351.4h0M703.3 343.6h0M695.4 348.3h0M685.2 347.5h0M755.6 338h0M724.7 349.7h0M695 341.6h0M729.5 352.9h0M736.3 349.5h0M749.2 340.9h0M715.9 340.6h0M732.9 338.3h0M740.5 339.8h0M728.5 346.5h0M704.6 351.4h0M708 348.9h0M752.8 347.4h0M727.9 349.7h0M747.2 352.1h0M742.2 341.4h0M720.2 339.1h0M753.9 349.2h0M699 343.9h0M745.8 351.8h0M737.3 341.4h0M674.7 339.1h0M697.3 350h0M673.8 349.3h0M632.4 346.9h0M741.5 345.6h0M743.2 339h0M686.8 339.1h0M680.9 344.2h0M743.1 344.3h0M716.3 343.8h0M718.2 342.8h0M705.6 340.5h0M717.9 337.1h0M711.2 351.9h0M692 343.9h0M705.8 351.4h0M738.8 347.8h0M685.3 346.9h0M685.4 344.1h0M684.5 350.2h0M755 342.6h0M732.9 367h0M736.7 372.2h0M712.4 371.7h0M695.8 362.2h0M703.1 365.4h0M701.9 375.9h0M657.1 355.6h0M695.7 372.2h0M717.3 367.5h0M686.9 364.3h0M700.2 362.1h0M738.7 367.1h0M716.7 356.9h0M730.6 362.9h0M735.7 375.4h0M723.9 360.2h0M750.6 358.1h0M738.6 375.5h0M728 372.9h0M732.9 364.2h0M709.8 360.7h0M719.4 355.5h0M729.7 359.2h0M740.5 364.5h0M705.5 356.3h0M735.7 364h0M704.7 361.6h0M737.8 356.1h0M727.5 354.4h0M726.2 354.5h0M721.3 354.2h0M741.9 375.6h0M729.5 364.7h0M753.5 375.5h0M715.1 365.9h0M735.7 369.1h0M698.4 366.8h0M726.5 368.9h0M736.1 361.7h0M722.6 355.7h0M694.4 360h0M705.2 362.8h0M715.4 372.4h0M697.4 369.1h0M703.3 363.4h0M717 362.5h0M750.7 362.6h0M717.1 355h0M737.6 362.1h0M705.9 372.8h0M683.6 357.1h0M717.9 374.3h0M690.6 354.1h0M680.1 364.9h0M685.5 360.8h0M725.1 357.9h0M709.9 358.9h0M694.1 362.1h0M749 366h0M733.7 357.8h0M763.4 367.9h0M719.2 367.3h0M723 368.4h0M718.5 366.7h0M685.3 367.1h0M707.2 360.6h0M751.7 360.7h0M709.4 353.3h0M757 372.9h0M702.6 362.8h0M756.7 363.3h0M742.6 354.1h0M730.9 362.4h0M686.6 369.4h0M756.6 357.1h0M741.1 364h0M724.9 362.5h0M731.1 365.5h0M688.9 368.2h0M717.1 368.5h0M713.9 354.8h0M736.3 370.7h0M736.5 364.1h0M736.2 360.7h0M713 362.7h0M759.1 353.5h0M718.4 354.2h0M703.8 353.7h0M715.9 358.4h0M704.1 362h0M701.9 370.7h0M726.7 356.3h0M703.7 374.9h0M753.4 375.1h0M722 362.3h0M742.3 368.8h0M735 367.6h0M730.4 365.8h0M736.4 371.5h0M733.9 363.8h0M717.1 373.4h0M743.3 358.2h0M709.1 364.7h0M745.2 371.1h0M691 362.5h0M741.5 360.2h0M677.8 374.2h0M696.9 374.2h0M735.7 359.6h0M748.6 360h0M763.3 367.9h0M696.1 361.8h0M677.8 353.3h0M710.2 375.7h0M687 367.2h0M735.7 365.1h0M723.1 358.9h0M765.8 375.7h0M720.8 362.6h0M706.6 370.3h0M718.7 361.2h0M716.2 368.5h0M721.7 368.3h0M740.7 361.6h0M741.8 364h0M742.2 364.4h0M689.6 367.5h0M745.1 367.9h0M676.9 364.7h0M701.5 361.7h0M748.4 365.2h0M755.1 375.3h0M733.3 375.4h0M725.2 374.1h0M715.4 367.8h0M704.6 375.4h0M696 362.8h0M740.2 371.6h0M732.3 358.4h0M716 365h0M733.1 375.8h0M725 368.2h0M698.3 367.3h0M710.5 355.1h0M732.4 370h0M691.3 371.1h0M729.8 366.5h0M742 374.7h0M724 363.7h0M694.6 360.3h0M739.3 359.7h0M714.1 369.2h0M703.3 366.3h0M723.1 362.5h0M709.4 353.3h0M726.8 357.6h0M717.6 363.9h0M719.2 365.5h0M688.1 355.3h0M694.3 354.8h0M754.7 368.8h0M728.6 358h0M732.9 357.2h0M742.2 362.8h0M715.2 374.1h0M706.9 373.6h0M744.3 358.1h0M700.4 364.4h0M719.1 373.3h0M747.9 370.1h0M710.4 372.8h0M754.5 375.7h0M744.4 371.6h0M702.3 358.2h0M724.2 369.6h0M723 363.5h0M760.1 354.4h0M719.8 354.8h0M714.7 364h0M684.4 367.6h0M756.3 358.6h0M719.8 353.5h0M729.8 370.3h0M713.3 365.1h0M737.7 362.5h0M729.5 364.9h0M736 364.8h0M749.2 361.3h0M690.9 360.7h0M719.4 369.1h0M741.3 367.7h0M685.2 373h0M763.4 353.5h0M730.5 363.4h0M688.8 375h0M701.9 365.5h0M719.4 367.1h0M677 372.4h0M699.5 362h0M737.8 369.2h0M710.5 354.3h0M743.3 356.8h0M706.2 366.4h0M703.9 362.9h0M720 369.9h0M714.4 360.3h0M692 360h0M716.9 373h0M718.1 357.8h0M707.1 371.9h0M723.3 362.3h0M686.2 367.5h0M708.2 372.6h0M720.7 365.5h0M731.9 363.9h0M760.2 375.9h0M740.3 374.7h0M753.3 354.6h0M734.2 374.1h0M721.7 372.6h0M719.2 372.3h0M752.2 356.5h0M756.5 369.7h0M757.6 369.2h0M717.5 362h0M738.8 359.4h0M694.5 374.2h0M722.8 362.4h0M720.6 372.9h0M744.5 362.2h0M721.2 360.3h0M731.5 365.7h0M702.7 375.1h0M720 374.3h0M745.2 373.8h0M739.3 357h0M704.5 362.5h0M696.5 354.3h0M752.6 361.7h0M689.9 367.2h0M678.8 371.7h0M725.1 364h0M683.2 371.5h0M749.2 358.1h0M747.7 370h0M710.4 360h0M749.3 365.8h0M695.6 362.3h0M684.7 367h0M743.7 365.5h0M696.6 355.4h0M724.3 366.8h0M693.3 375.1h0M699.7 364.2h0M685.9 369.3h0M705 355.5h0M751.4 370.6h0M705.9 368.2h0M689.6 363.3h0M735.9 369.7h0M729.1 356.2h0M694.5 359.6h0M715.9 355.9h0M745.2 371.6h0M688.5 362.6h0M715.6 375.9h0M718.3 366.4h0M757.7 372.1h0M738.2 358.6h0M741.4 356.1h0M731.6 355.9h0M693.2 374.9h0M746.7 371.2h0M732.8 370.9h0M693 361.7h0M740 370.6h0M697.4 353.4h0M698.4 362.3h0M702.9 357.9h0M700.6 356.8h0M707.7 356.8h0M762.2 375.9h0M715.8 370.4h0M744.2 374.6h0M713.4 357.8h0M683.9 375h0M709.4 362.4h0M721.5 363.5h0M741.2 372.4h0M752 366.1h0M690.7 366.6h0M705.1 370.8h0M683.3 358.3h0M748.2 355.9h0M751.1 366.6h0M764.7 367.6h0M697.9 357.4h0M752.4 366.9h0M726.4 362.7h0M701.2 371.4h0M760.4 369.3h0M702 365h0M695.9 356h0M713.3 365.5h0M699 360.9h0M742.6 362h0M699 366.5h0M750.8 355.5h0M699.8 353.8h0M705.1 365.6h0M713.7 374.6h0M733.2 359.8h0M707 371.9h0M750.2 355.1h0M699.7 359.6h0M741.4 362.6h0M710.7 358.3h0M726 358.7h0M729.5 374.9h0M740.6 366h0M729.3 374.1h0M694.3 363.6h0M742.7 359.5h0M682.1 373.2h0M766.4 355.3h0M698.5 366.5h0M712 355.8h0M749.6 357h0M757.1 360.9h0M685 370.2h0M734.8 357h0M723.5 360.3h0M706 358.8h0M748.5 366h0M725.6 370.6h0M757.9 358.6h0M709.7 362.9h0M740.5 370.5h0M717.9 373.1h0M731.8 360.9h0M734.5 361.1h0M695.9 370.5h0M686.1 372.5h0M681.9 353.9h0M728.3 361.5h0M758.9 368h0M734.7 373.7h0M741.4 377.6h0M761 382.2h0M739 385.5h0M741.6 386.5h0M730 389.1h0M722.4 383.3h0M732.8 394.3h0M726 391.1h0M744.8 391.9h0M719.5 386.9h0M736.4 390.9h0M759.5 384h0M755.9 391.4h0M756.1 396.7h0M720.3 391.4h0M720.3 393.7h0M751 381.5h0M760.4 397.3h0M727 383.4h0M740.8 383h0M745.1 386.1h0M741.2 397.5h0M758.2 389.9h0M732 381h0M759.1 378.4h0M740.2 395.9h0M751.2 378.2h0M752.3 397.8h0M742 389.9h0M702.4 379.8h0M712.6 387.1h0M771.2 397.6h0M726.3 393.1h0M719 391h0M734 385.9h0M724.1 390.5h0M748.3 393.1h0M760 383h0M722.9 390.8h0M749.9 397.2h0M755.5 389.1h0M748.6 393.3h0M698.6 376.6h0M715.4 383.3h0M751.8 394.5h0M707.9 383.9h0M739.8 385.2h0M749.8 390.7h0M737.1 384.2h0M721.5 396.4h0M744.9 393.7h0M737.8 393.4h0M735.9 389.6h0M758.6 386.6h0M715.9 377h0M725.3 378.8h0M767.1 396.3h0M720.6 388.6h0M692.3 377.1h0M753.8 379.7h0M730.5 384.8h0M751.3 381.8h0M751.1 395.2h0M759.4 392.4h0M761.3 395.4h0M724 380.6h0M735.4 382.3h0M701.1 378h0M746.5 380.2h0M724 389.6h0M726.8 397.5h0M724.4 385.3h0M757.2 385h0M765.4 394.9h0M733.5 378.9h0M730.1 384.7h0M717.7 395.1h0M742 392.5h0M727.4 387.9h0M720.5 396.2h0M751.9 378.2h0M746.9 389.2h0M739.6 392.4h0M725 376.6h0M754.7 387.4h0M746.4 395.9h0M746.1 388.2h0M750.6 386.4h0M731.7 386.2h0M753 378.8h0M743.6 392.7h0M701.6 381.3h0M752 393.8h0M712.4 381.4h0M727.6 379.9h0M761.6 396h0M748.7 383.8h0M707.1 376.7h0M750.4 394.1h0M726.3 395h0M727.7 388.3h0M759.2 397.7h0M754.3 382.7h0M750.3 380.4h0M735.8 388h0M725.7 383.1h0M759.8 391.6h0M717.3 389.4h0M754.5 389.7h0M757.8 378.1h0M717.1 378.8h0M718.4 396.4h0M718.1 392.3h0M767 386.5h0M762.9 383.4h0M723.2 379.7h0M735.7 379.4h0M720.8 385h0M747.2 391.5h0M719.9 387.4h0M715.8 380.2h0M750.5 395.6h0M740.2 392.6h0M727.8 395.5h0M750.3 396.1h0M720.2 384.8h0M759.5 381.6h0M756 395.5h0M714.6 390.7h0M741.5 380.6h0M735.5 388.4h0M729.9 392.4h0M748.1 388.3h0M701.4 377.8h0M721.7 394h0M758.2 388.2h0M733 383.2h0M724.4 394.1h0M739.3 379.8h0M756.4 384h0M726.5 396.3h0M704.2 378.2h0M727.5 391.5h0M745.4 383.4h0M733.8 382h0M731.5 394h0M749.9 397.4h0M749.4 379.3h0M754.9 385.6h0M760.3 393.1h0M741.3 391.5h0M729.1 378.4h0M746.5 390h0M709.9 377.8h0M730.9 391.2h0M732.1 377.6h0M759.3 392.6h0M710.8 379.4h0M755.8 393.7h0M733.6 390.9h0M705.7 392.6h0M734.5 390.4h0M754 380h0M759.7 391h0M753.9 393.2h0M728.2 381.3h0M727.5 388.9h0M760 393.1h0M768.4 382.1h0M743.3 387.5h0M748 392.2h0M746.2 378.2h0M741.3 389.6h0M717.6 396.3h0M747.1 381.9h0M733.2 387.9h0M729.6 393.4h0M743.5 389.3h0M709.3 386.2h0M736.7 390.5h0M746 396.9h0M724.6 397.4h0M740.7 394.9h0M767.7 387.2h0M756.8 387.1h0M759.9 397.7h0M728.2 390h0M738.7 393h0M695.9 380.1h0M748.2 387.1h0M749.9 391.3h0M692.6 382.2h0M752.5 383.7h0M754 382.6h0M767.1 377.4h0M727.2 391.7h0M726 393.1h0M741.2 381.8h0M729.6 393.6h0M752.8 396.1h0M736.8 397.7h0M688.9 380.5h0M726.8 382.9h0M731.1 394h0M764.9 385h0M757.2 392.7h0M700.6 380.9h0M756.6 395.4h0M743.3 383.8h0M699.4 387.6h0M718.2 395.2h0M731.6 396.3h0M753.3 392.6h0M731.4 376.7h0M738.1 394h0M703.7 385.9h0M724.9 386.4h0M694.8 378.4h0M704 388.4h0M724.1 397.7h0M749.9 380.3h0M705.4 395.1h0M716.5 379h0M742.2 383.3h0M717.1 393.9h0M726.2 382h0M743.8 393.3h0M745.1 394.7h0M723.5 376.3h0M733.4 380.4h0M724 378.8h0M721.9 392.3h0M744.1 386.3h0M738.5 378.4h0M740.3 396.6h0M705.1 379h0M758.4 389.9h0M724.4 385.6h0M719 378.6h0M732.5 377h0M728.6 388h0M751.7 390.4h0M725.1 389.7h0M736.7 380.4h0M743.3 379.4h0M741.8 393.2h0M734.9 396.7h0M712.4 392.4h0M717.2 376.1h0M731.7 383.5h0M716 392.2h0M754.5 397h0M737 388.1h0M742.5 387.6h0M751.5 394.2h0M678.5 380.4h0M734.8 389.9h0M701.3 382.5h0M761.3 395.9h0M709.1 386.8h0M699.9 378.5h0M720.5 377.7h0M758.4 386.4h0M724.1 397.9h0M724.4 392.2h0M761.9 382.4h0M746.3 394.4h0M730.5 386.7h0M732.7 388.7h0M742.5 389.7h0M750.1 391.7h0M727.1 385.2h0M738.3 378.4h0M737.7 377.6h0M749.1 390.8h0M674.6 380.7h0M735.4 389.7h0M767.6 386.7h0M758.4 416.1h0M759.4 417.3h0M752.3 411.3h0M719.6 398.2h0M737.3 409.7h0M768.2 414.8h0M733.5 404.3h0M732.6 400.7h0M756.3 404.1h0M739.5 402.2h0M729.2 401.6h0M761.6 406.1h0M740.4 415.7h0M719.2 399.8h0M741.6 400.9h0M736.3 398.2h0M765 417.7h0M755.7 417.6h0M739.2 416.7h0M753.5 410.5h0M746.7 412.5h0M730 407.1h0M734 410.7h0M760 398.5h0M756 418.7h0M726.8 399.3h0M717.9 401h0M761.1 409.3h0M720.6 418.3h0M748.1 416.8h0M741.8 415.3h0M754.8 411.5h0M753.9 401.9h0M740.2 410.5h0M729.8 413.8h0M770 407.3h0M744.9 408.9h0M707.2 399.8h0M762.5 401.6h0M772.3 412.7h0M749.5 413.4h0M748.4 412.9h0M755.4 412.3h0M761.2 419.2h0M755.5 412.5h0M772.3 414h0M730.7 417.7h0M745.6 416.5h0M755.9 406.4h0M758 407.5h0M754 415.3h0M760.9 400.9h0M734.6 413h0M717.7 398.1h0M756.4 415.7h0M758.2 403.4h0M768.8 403.1h0M752.3 417.5h0M755.7 403h0M723.9 399h0M749.4 406.2h0M762.2 415.2h0M750.8 398.1h0M734 403h0M770.3 419.3h0M737.5 401.4h0M724.8 403h0M736.6 401.8h0M758.8 398.2h0M751.7 405.2h0M753.7 409.1h0M737.5 405.5h0M771.9 420.9h0M736 403.2h0M741.9 398.7h0M755.3 409.7h0M738.8 399.6h0M759.4 405.2h0M757.9 413.8h0M767.8 411.4h0M732 400.5h0M742.1 419.1h0M729.9 407.8h0M744 405.6h0M726.1 406h0M768.4 419.9h0M768.4 414.1h0M731.5 402h0M752.3 402.7h0M727.1 413.3h0M757.2 417.6h0M764.3 420.3h0M729.8 402.3h0M742.7 408.2h0M699.3 404.8h0M734.1 419.4h0M748.8 402.3h0M733.3 398.8h0M753.2 419.4h0M748.4 419.6h0M753.5 417.8h0M764.7 403h0M770.3 405.1h0M755.5 405h0M743.9 401.8h0M750.7 402.8h0M729.7 405h0M727.3 413.8h0M761.4 414.8h0M744.4 405.6h0M745.2 420.7h0M763.9 399.1h0M752.2 411.9h0M758.6 419.1h0M752.4 408.4h0M751 401.5h0M738.2 419.7h0M741.9 400.1h0M721.4 404.9h0M742.1 419.4h0M756 402.8h0M746.4 398.8h0M750.5 412.4h0M750.6 415.1h0M745.8 412.7h0M721.9 403.4h0M769.4 409.2h0M756.3 410.8h0M755.3 405.4h0M752.4 402.8h0M748 414.9h0M734.8 408.4h0M752 411.9h0M749 404.7h0M720.4 399.1h0M734.8 401.2h0M763.9 401.5h0M715.4 399.7h0M748.7 398.2h0M748.4 419.7h0M770.2 401.3h0M752.2 407.2h0M751.6 399.9h0M762.6 398.8h0M762 404.4h0M755.2 412.3h0M749.5 411.5h0M726.7 401.3h0M726.1 407.8h0M729.9 400.7h0M749.9 416.4h0M738.7 420.5h0M728.9 415.5h0M734.9 400.2h0M748 399.2h0M731.7 414.6h0M765 419.8h0M757.4 401.5h0M757.1 409.3h0M718.4 401.6h0M748.1 400.3h0M748.6 413.4h0M742.8 408.8h0M765.3 414.3h0M753.5 403.4h0M748.6 406h0M745.9 407.7h0M758.3 402.1h0M761.3 407.6h0M750.8 414.1h0M766.3 417.4h0M767.8 404.6h0M761.7 406.1h0M759.5 398.2h0M743.9 410.3h0M743 420.6h0M767.5 400.2h0M753.7 404h0M750.4 404.5h0M754.1 418.2h0M735.2 401.7h0M743.5 415.9h0M726.6 405.8h0M726.8 403.7h0M745.1 410.9h0M749.3 402.8h0M722.7 406.3h0M762.8 404.6h0M760.7 408.3h0M727.5 400.8h0M760.7 413.9h0M751.7 410.8h0M748 398.7h0M742.7 413.7h0M754.1 414.4h0M739.6 402.9h0M760.7 407.7h0M749.8 403.9h0M725.7 398.3h0M739.9 412.7h0M759.8 416.4h0M741.6 401.2h0M739.9 400.8h0M761.6 408.2h0M770.4 419.5h0M735.1 408.8h0M746.9 409h0M751 419.6h0M766.2 418.3h0M737.6 401.2h0M759.6 406h0M728.7 398.6h0M734.4 415.3h0M740.9 399.5h0M750.6 398.3h0M743.7 413h0M731.6 419.7h0M729.8 403.1h0M744.2 420.8h0M728.6 402.8h0M732.7 405.7h0M758.6 399.1h0M750.6 410.3h0M769.2 402.1h0M727.2 398.5h0M743.6 406.1h0M733 419.5h0M770.8 416.2h0M734.6 419.4h0M750.3 398.1h0M765.1 419.9h0M763.4 418.3h0M734.6 401.2h0M763.8 412.2h0M738.8 417.4h0M765.6 400h0M754.3 404.6h0M751.9 418.6h0M759.9 419h0M763.2 407.6h0M781.8 438.1h0M752.4 422.3h0M771.5 425.2h0M749.3 424.3h0M760.8 425.4h0M749.1 424.4h0M756.2 428.7h0M757.8 431.6h0M752.7 422.1h0M769.7 427h0M764.7 436.4h0M769.6 436.4h0M755.9 438.6h0M781.9 433.1h0M777.3 432.7h0M763 437.9h0M763.8 428.3h0M732.1 423.9h0M771.3 434.3h0M778.8 439.2h0M762.7 426.1h0M746.4 422.4h0M757.7 430.4h0M782.7 438.8h0M774.4 433.8h0M785.1 438.9h0M756.7 438.5h0M796.6 435.5h0M741.8 424h0M744.8 434h0M743.5 423.5h0M758.9 434h0M767.2 424.7h0M762.2 425.6h0M742.8 422.1h0M756.7 432.6h0M753.7 430.9h0M773.3 433.1h0M752.5 434.1h0M759.7 435.1h0M733.3 423.3h0M777.5 433.1h0M755.3 427.3h0M766.6 439.2h0M754.8 434.8h0M741.8 427.6h0M774.3 432h0M767.7 436.6h0M744 424.5h0M771.6 426h0M751.7 426.1h0M768.7 432.8h0M772.1 428.1h0M777.1 427.6h0M716.1 428.9h0M775.4 434.6h0M764.1 421h0M758.9 424.7h0M813.7 435.3h0M765.1 439.8h0M777 437.7h0M759.6 435h0M751.8 433.6h0M769.4 433.3h0M758.4 423.1h0M764.3 435.9h0M739 422.2h0M748.3 430.4h0M754.8 424.1h0M775.4 434.7h0M788.4 438.9h0M756.8 431.1h0M747.6 431.8h0M752 434.6h0M740.9 428.1h0M763.5 425.4h0M780.5 434.1h0M772.4 427h0M750.8 435.8h0M772.6 430.7h0M764.3 437.7h0M744.9 431.9h0M778.6 429.5h0M760.2 435.5h0M757.8 421.9h0M763.7 438.8h0M770.1 425.8h0M768.3 439.2h0M763.6 429.4h0M760.1 426h0M758.9 432.5h0M742.2 425.5h0M775.1 437.1h0M767.2 429.3h0M754.6 428.6h0M766.7 424.5h0M766.7 434h0M742.9 430.6h0M760 424.9h0M757.7 429.4h0M759.2 429.1h0M762.9 434.4h0M765.1 423h0M746 431.4h0M781.5 439.7h0M774.2 427.9h0M767.9 434.2h0M769 438.4h0M736 422.6h0M759.4 423.4h0M763.2 428h0M749.5 428.4h0M775.2 426.8h0M779.2 427.7h0M767.4 435.5h0M736.3 426.7h0M756.4 429h0M767.8 426h0M763.3 430h0M767.8 435.9h0M749.8 424.8h0M748.1 422.5h0M765.7 423.1h0M757.8 422.8h0M746.2 431.6h0M767.8 426.9h0M769.6 439.6h0M764.1 438.4h0M779.9 437.3h0M773.6 439.2h0M735.5 425.1h0M759.1 432.4h0M782.5 428.1h0M772 434h0M751.7 424.1h0M757.1 431.6h0M764.8 430.6h0M770.1 438.4h0M730.6 422.2h0M745.8 423.2h0M765 438h0M774.7 437.9h0M766.9 429.7h0M744.7 428.8h0M769.9 423.9h0M763.3 427h0M761 428.9h0M751.5 433.6h0M752.2 423.1h0M752.9 424.5h0M757 431.6h0M754.8 434h0M759.3 434.5h0M737.5 426h0M757.8 432.5h0M748 427.9h0M777.9 439.2h0M755 431.8h0M754.4 423.2h0M748.8 423.9h0M750.9 423.2h0M785.1 426.5h0M727.5 421h0M768 433.1h0M741.8 422h0M752.4 425.2h0M746.7 425.4h0M752.6 424.3h0M735.6 422.7h0M756.6 426.1h0M746.8 427.4h0M775.2 430h0M753.8 433.2h0M740.8 431.5h0M767.4 432.6h0M766.1 434.1h0M753.2 428.3h0M776.6 437.8h0M770 432.5h0M767.5 431.3h0M772.4 432.7h0M775.2 438.7h0M748.6 424.9h0M760.2 439.2h0M777 441.9h0M770 441.7h0M783.1 440.8h0M777.1 441h0M776.1 441.3h0M784.5 441.5h0M768.9 440.2h0M774 440.3h0M779.6 441.9h0M780.5 441.7h0M775.6 440.2h0M762.4 440.8h0M783.2 440.9h0M784.1 441.3h0M765.8 441.7h0M791.3 441.9h0M776.6 441.9h0M797.4 215.9h0M801.5 219.6h0M822.9 217.2h0M809.5 224.7h0M804.7 248.5h0M805 235.1h0M791.6 240h0M830.3 240.1h0M830.5 247.4h0M805.5 234.6h0M832 226.3h0M813.5 239.8h0M839.7 225.7h0M809.4 239.9h0M806 282.5h0M806.6 268.2h0M764 273.4h0M797.9 299.6h0M803.4 286.3h0M819.3 262.1h0M804 290.7h0M805.1 269.4h0M813.5 287.7h0M819.9 294.1h0M794.1 293h0M831.7 262.3h0M809.2 294.3h0M795.3 286.1h0M803.7 295.2h0M821 285.1h0M818.7 295.6h0M800.4 295.2h0M808.2 264h0M814.4 272.5h0M811 271.3h0M824.5 284.4h0M827.2 266.3h0M822.9 260.6h0M801.4 291.6h0M808.5 327.4h0M794.6 334.8h0M796.3 331.1h0M811.8 329.4h0M812.3 330.8h0M802.9 330.3h0M801.3 321.4h0M812.1 313.1h0M817.1 305.1h0M795.7 331.7h0M791.7 300.5h0M790.1 329.1h0M797.2 330.3h0M799.9 326.4h0M814 316.5h0M796.9 328.6h0M821.7 317.6h0M788.2 329.3h0M791.6 318.3h0M805.6 335h0M808 321.4h0M803.2 307.4h0M789 313.8h0M800.3 313.8h0M805.8 318.5h0M805.4 312.1h0M818 314.7h0M807.9 333.5h0M799 328.8h0M819.5 310.3h0M797 320.1h0M795.3 327.6h0M818.2 330.4h0M796.2 328.4h0M807.1 321.8h0M816.1 321h0M796.9 330.3h0M791.8 320.9h0M793.2 324.4h0M804.4 331h0M805.5 314.7h0M805.5 313.2h0M807.8 313.1h0M806.3 341.3h0M805.9 339.1h0M811.9 348.2h0M808.2 351.3h0M800.2 348.9h0M804 339.5h0M794.1 345.8h0M811.2 344.3h0M806.2 346.4h0M793.1 344.7h0M795.1 338.6h0M802.7 338.2h0M800 348h0M794.3 346.2h0M809.1 341.2h0M802.5 352.1h0M800.8 342.4h0M800.1 341.4h0M805 341.1h0M802.8 345.4h0M802.5 351.1h0M813.5 344.1h0M794.7 351.9h0M800.6 343.7h0M800.4 348h0M796.2 339.2h0M795.2 338.8h0M810.1 347.4h0M793.8 346.1h0M796 340.9h0M797.2 342h0M799.7 337.7h0M792.2 350.6h0M804 337.7h0M808.1 337.5h0M795.4 340.8h0M810 337.7h0M793.4 338.3h0M802.1 350.9h0M787.3 368.3h0M791.3 372h0M788.5 375.9h0M814.6 361.3h0M794.4 361.3h0M795.8 375.9h0M800.1 362.4h0M787.1 359.1h0M788.9 363.7h0M795.5 371.1h0M790 357.8h0M790.4 370.6h0M802.1 355h0M789.7 355.5h0M794.9 366.2h0M793.8 374.6h0M799 367.9h0M804.7 360.5h0M806.3 360.1h0M800.7 361.6h0M800.9 370.9h0M798.1 359.5h0M799.5 369h0M806.3 372.4h0M791.5 364.5h0M801.4 354.2h0M804.5 357h0M803.8 354h0M798.6 370.5h0M792 361h0M796.8 373.2h0M792.9 356.2h0M788.9 354.5h0M793.7 363.2h0M787.5 360.1h0M800 363.3h0M805 366.9h0M786.7 367.6h0M799.7 372.3h0M788.9 358.3h0M803 358.5h0M793.7 364h0M790.6 368.6h0M801.7 361.7h0M789.8 357.4h0M795.4 354.5h0M806.5 367.6h0M789.9 370.2h0M787.2 371.6h0M799.1 372.8h0M797.3 356.5h0M792.7 360.6h0M817.7 354.4h0M796.8 353.1h0M802.6 371.6h0M802.5 373.4h0M811.4 361.1h0M788.1 376h0M800.7 387.3h0M808.5 376.5h0M781 395h0M792 388.6h0M803.8 386.5h0M798.2 383.1h0M793.2 396h0M788.7 389.4h0M801.4 377.4h0M795.2 397.1h0M795.8 380.3h0M782.6 394.7h0M782.1 377.8h0M803.4 381h0M801.4 393.2h0M783.6 396.8h0M780.6 382.8h0M799.4 392.2h0M795.4 388.5h0M789.6 391.1h0M787.6 382.1h0M806.4 392.1h0M787.8 384.4h0M784.1 383.2h0M793.5 393.7h0M805.3 385.9h0M793.7 384.6h0M800.8 379.4h0M793.5 382.5h0M786 381.5h0M785.1 395.9h0M781.2 397h0M796 384.5h0M788.5 386.9h0M799.3 391.1h0M806.4 389.6h0M788.9 390.4h0M786 378.8h0M798.5 389.7h0M788.4 379.8h0M794.5 394.3h0M807.1 391.7h0M781.2 396.6h0M787.7 389.2h0M785.3 376.3h0M791.3 384.1h0M782.6 377h0M794.5 390.6h0M795 391.5h0M791.4 391.8h0M786.1 381.6h0M790.5 397.5h0M786.2 385.9h0M791.1 388h0M799.4 387.2h0M786.4 396h0M794 396.2h0M794.2 396.8h0M790 397.1h0M801.8 384.3h0M781.3 383h0M794.1 385.9h0M788.4 393.5h0M798.3 392.9h0M788.2 387.5h0M783.6 397.1h0M793.6 386.7h0M802.7 383.9h0M809.8 391.6h0M784 379.4h0M798 377.2h0M800.1 397.6h0M789.7 395.8h0M797 412.2h0M794.2 416.2h0M795.9 415.2h0M795.1 407.6h0M791.1 413.3h0M783.9 404.1h0M793.5 414h0M786.9 404.9h0M780.3 409.4h0M783.6 408.5h0M797.7 414.3h0M789.2 418.2h0M790.8 401h0M813.1 408.9h0M781.1 412h0M791.4 414.4h0M799.8 398h0M784 409.9h0M797.9 408.6h0M804.5 411h0M799.6 403.7h0M801.5 407.1h0M785.3 419.8h0M796.8 407.7h0M800.8 420.4h0M787 403.7h0M793.6 412.5h0M789.3 416.7h0M799.3 399.2h0M785.4 414.7h0M788.4 403.3h0M782.8 400h0M791.2 417.3h0M780.7 400.5h0M793.6 412.8h0M789.6 403.4h0M784.3 399.4h0M794.7 402.5h0M786.8 404.1h0M790.5 407.9h0M790.4 418.4h0M785.4 404.6h0M798.5 417.6h0M796.1 414.8h0M788.2 415.4h0M786.3 404.2h0M790.9 409.6h0M820.2 406.7h0M796.7 401.4h0M785.5 412h0M798.2 398.5h0M790.5 407.9h0M793.3 418.6h0M783 402.5h0M791.7 405.7h0M780.6 402.6h0M785.8 410.1h0M803.2 408.5h0M783.1 400.8h0M787.1 414.9h0M795.5 417.1h0M792.8 416.7h0M791.1 402.7h0M797.3 412.2h0M797.5 400.2h0M786.2 412.1h0M787.7 404.2h0M787 400h0M781.3 412.7h0M800.5 399h0M791.9 412h0M807.1 402.9h0M797.6 403.1h0M786 411.7h0M791.7 401.1h0M793.9 423.5h0M782.6 424.6h0M788.6 429.7h0M780.1 433.5h0M790.6 423h0M795 429h0M777.5 429.6h0M777.3 427.2h0M787.7 428.1h0M785.9 422.9h0M782.4 434.6h0M785.4 433.7h0M787.8 422.1h0M789.1 426.8h0M781.9 425.8h0M780 421.5h0M797.5 421.9h0M791.6 423.2h0M792.1 427.1h0M789.1 422.9h0M781.4 422.5h0M795.7 422.9h0M797.4 422.8h0M793.6 424h0M782.5 421.7h0M794.1 424.7h0M787.9 430.5h0M794.2 423.9h0M786.3 433.2h0M779.2 426.6h0M783.1 431.1h0M782.2 425.4h0M778.2 432.9h0M783.2 435.3h0M778.8 429.9h0M776.5 433.6h0M779.3 428.5h0M794.4 423.3h0M781.1 435.4h0M795.1 421.4h0M786.3 427.8h0M787.3 423.6h0M790.6 424.5h0M792.3 428.7h0M793.5 423.1h0M780.2 435.3h0M810.1 426h0M784.6 425.3h0M777.3 435.8h0M790.1 424.3h0M828.7 306.8h0M811.3 328.1h0M857 337.1h0M845.9 316.9h0M841 310.2h0M811.6 308.1h0M809.3 305.8h0M849.6 363.6h0M816.5 344.7h0M816.4 354.4h0M808.3 367.5h0M841.4 359h0M810.7 363.9h0M800.4 342.9h0M815.2 359.2h0M873.7 360h0M836 364.4h0M815.3 371.3h0M842.1 377.2h0M831.8 347.5h0M809.3 355h0M829.3 347h0M841.9 357.3h0M837.1 379.1h0M875.1 399.9h0M842.3 390.3h0M831.3 387.5h0M807.6 386.2h0M815.7 387.6h0M955.8 186.4h0M830.8 214.2h0M887.2 217h0M909.2 215.6h0M861.4 226.1h0M824.4 229.4h0M839.7 232.2h0M908.6 226.1h0M853.6 242.8h0M819.2 252.5h0M830.8 265.6h0M840 260h0M853 258.6h0M844.2 271.7h0M868.3 271.1h0M870.6 274.7h0M881.7 269.2h0M890.6 274.4h0M905.8 274.4h0M817.5 276.1h0M829.4 287.2h0M864.2 283.6h0M865.6 286.4h0M815.6 290.6h0M847.5 298.1h0M885 298.1h0M628.3 85.8h0M644.1 96.5h0M635.4 109.6h0M687.4 124.7h0M660 131.4h0M658.4 134.6h0M660.4 141h0M625.5 147.3h0M635.4 148.1h0M613.6 155.6h0M634.6 156.8h0M640.6 159.2h0M650.5 160.4h0M655.2 156.8h0M691 156.8h0M696.9 159.2h0M700.9 163.2h0M704.8 152.5h0M712 171.5h0M681 169.9h0M687 175.1h0M671.1 176.3h0M653.3 179h0M641.3 179h0M645.3 169.1h0M638.6 172.3h0M611.6 181h0M612.8 189h0M632.2 187.8h0M702.9 175.1h0M704.8 178.3h0M718.7 192.1h0M733.8 187h0M607.6 202.9h0M613.6 202.9h0M627.5 203.7h0M640.6 199.7h0M675.1 196.9h0M681 191h0M687.8 191h0M734.6 210.8h0M591.7 226.7h0M621.5 224h0M607.6 238.6h0M587 245.3h0M595.7 246.5h0M650 186h0M664 188h0M695 185h0M620 195h0M657 200h0M668 205h0M700 200h0M713 205h0" stroke="#a7a7a7" stroke-width="5.40" stroke-linecap="round" fill="none"/>
<path d="M1164.1 204.9h0M1190.7 204.3h0M1189.6 204.8h0M1158.4 204.7h0M1175.4 200.8h0M1205.3 204.7h0M1168 202.5h0M1196.8 201.1h0M1169.6 203.7h0M1201.4 198.5h0M1180.7 203.8h0M1179.6 202.7h0M1199.4 209.2h0M1171.7 208.5h0M1172.2 210.7h0M1188.9 214.6h0M1201.4 212h0M1208.8 214.1h0M1192.9 206.4h0M1248.7 211.7h0M1179.4 214.5h0M1215.1 213.1h0M1154.7 208.2h0M1170.1 211.4h0M1215 212h0M1150.4 208.5h0M1170.2 207.4h0M1175.1 210.4h0M1178.9 212.2h0M1164.2 206h0M1186.5 208.1h0M1167.6 210.3h0M1193.5 213.1h0M1189.2 207.6h0M1214.7 213.6h0M1164.3 211.9h0M1199.1 212.4h0M1169.1 212.1h0M1177.3 213.7h0M1180.3 213.6h0M1159.9 207.6h0M1164.1 213h0M1205.5 207.8h0M1145.9 222h0M1190.9 222h0M1177.6 227h0M1174.2 217.6h0M1238.8 220.5h0M1210.4 223.3h0M1178.6 226.3h0M1179 221.2h0M1230.2 228h0M1199 222.9h0M1137.5 229.8h0M1154.7 229h0M1203.7 222.4h0M1156.4 217.3h0M1214.4 227.2h0M1212.9 226.4h0M1206.8 226.8h0M1159.8 221.8h0M1202.8 216.2h0M1219.8 228h0M1190.1 222.7h0M1146.3 222.7h0M1190.8 225.1h0M1230 225.6h0M1178.3 229.1h0M1153.1 228.5h0M1198.3 224.3h0M1191.4 217.8h0M1205.7 223.7h0M1175.7 225.5h0M1167.1 227.4h0M1207.5 220.4h0M1180.5 224.9h0M1233 217h0M1168.3 221.7h0M1161.5 221.2h0M1179.2 218h0M1167.2 229h0M1196.7 225.6h0M1196.9 229.8h0M1187.5 221.5h0M1170.8 228h0M1200.8 219.7h0M1211.4 227.6h0M1228.2 221.6h0M1144.5 226.4h0M1180.2 216.1h0M1176.8 221.4h0M1190 226.4h0M1176.6 224.8h0M1215.9 224.1h0M1220.4 224.2h0M1160.4 221.4h0M1215.1 223.6h0M1184.4 229.9h0M1222.8 225.3h0M1120.3 226h0M1194.2 217.2h0M1165.1 223.1h0M1207 222.9h0M1267.5 225.2h0M1163.3 219.7h0M1161.1 219.2h0M1213.6 225.4h0M1236.2 228.8h0M1161.7 215.9h0M1177 227h0M1160.1 219.3h0M1180.2 223.7h0M1229.8 229.9h0M1228.1 228.8h0M1225.1 221.7h0M1182.8 225.6h0M1164.6 224.7h0M1183.7 225.8h0M1251.8 222.9h0M1190.1 222.9h0M1173.7 228.1h0M1207.2 224.1h0M1179.9 228.1h0M1206.2 222.3h0M1187 219h0M1172.7 218.1h0M1169.9 225.9h0M1220.8 215.8h0M1180 220.9h0M1174.1 225.3h0M1163.1 220.5h0M1222.3 220.6h0M1187 228.1h0M1195.2 223.4h0M1222.9 227.8h0M1183.4 225.2h0M1209.5 216.5h0M1192.3 224.6h0M1209.5 218.2h0M1196.5 226.5h0M1168.4 227.1h0M1199.5 219.9h0M1173 223.3h0M1193 221.1h0M1182.4 228.8h0M1170 227.4h0M1188.6 222.7h0M1223 222.4h0M1175.9 226.6h0M1154.2 226.7h0M1204.6 226h0M1196.8 224.9h0M1207 223.3h0M1188.2 227.9h0M1184.3 215.2h0M1225.5 221.3h0M1152.2 219.4h0M1205.8 225.2h0M1189.7 222.2h0M1149.2 223h0M1177.4 227h0M1170.2 215.6h0M1186.5 225.2h0M1174.7 227.9h0M1161.3 229.4h0M1169.7 222.5h0M1191.2 221.8h0M1172 217.1h0M1190.4 218.3h0M1210.8 215.1h0M1166.7 226.8h0M1161.7 215.7h0M1194.4 224.9h0M1201 216.9h0M1205.7 225.1h0M1224.8 223.3h0M1186.8 215.8h0M1188.8 218.1h0M1171.9 220.4h0M1208.5 223.6h0M1175 227.9h0M1202.9 229.7h0M1169.3 226.2h0M1161.6 226.5h0M1199.8 220.9h0M1197.7 228.2h0M1182.5 231h0M1174 236.7h0M1224.1 246.6h0M1213.3 243.1h0M1183.9 236.8h0M1186.6 243.5h0M1176.4 235.9h0M1192.3 230.4h0M1168 244.5h0M1165 236h0M1189.8 239.9h0M1192.9 241.4h0M1150.9 246h0M1206.3 235.7h0M1169.9 243.2h0M1201.3 242.2h0M1168.8 236.5h0M1183.3 233.7h0M1201.2 246.2h0M1155.4 231.8h0M1184 236.2h0M1200.6 247.5h0M1176.2 244.1h0M1202.6 232.1h0M1184.8 238.8h0M1195.8 236.9h0M1193 244.6h0M1194.8 240.8h0M1224.2 237.2h0M1224.7 231.7h0M1187.5 242.5h0M1178.8 242.4h0M1196.8 230.2h0M1199.6 239.5h0M1193.8 239.7h0M1209.8 237.3h0M1175.6 233.6h0M1175.7 244.9h0M1179.8 234.9h0M1183.9 247.6h0M1174.3 236.5h0M1235.3 239.5h0M1193.9 238.4h0M1165.6 234.5h0M1164.3 233h0M1209.8 246.4h0M1232.7 246.3h0M1208.2 231.3h0M1215 236.6h0M1161.2 246.3h0M1206.7 245.1h0M1165.6 239.2h0M1213 241.1h0M1209.3 241.3h0M1219 243.6h0M1199.9 242.3h0M1190.8 230.7h0M1138.7 235.6h0M1185.4 233.9h0M1205.2 237.2h0M1160.2 243.3h0M1179.5 233.7h0M1209.3 234.6h0M1180.7 247.7h0M1245.3 233.1h0M1162.1 235.4h0M1186.8 245.9h0M1177.6 241.4h0M1215.6 234h0M1219.9 246.4h0M1163.8 243.6h0M1166.7 234.8h0M1224.4 240h0M1222.9 231.3h0M1186.4 235.5h0M1195.4 238.4h0M1215.4 239.9h0M1225.1 247.6h0M1192.2 243.6h0M1204.3 243h0M1215.1 241.7h0M1198 244.6h0M1154.7 232.5h0M1231.1 244.4h0M1209.6 235.1h0M1179.3 232.5h0M1243.6 240.7h0M1226.5 233.1h0M1197.1 240.1h0M1226.9 235.4h0M1195.6 244.4h0M1170.1 232.4h0M1180.4 244.1h0M1168 238h0M1188.3 235.7h0M1229.8 238.3h0M1274.5 238.1h0M1168.4 237h0M1201.8 247.4h0M1216.4 235.1h0M1228.3 234.8h0M1228.2 236h0M1213.5 239h0M1177 245.6h0M1193.3 238h0M1183 244.3h0M1175.9 246.3h0M1176.2 241h0M1212.9 245.9h0M1204 230h0M1161.4 233.2h0M1196.1 236h0M1181.4 235.2h0M1163.5 245.6h0M1198.4 235.2h0M1217.8 235.7h0M1192.2 232.5h0M1187.1 246.7h0M1230.2 233.5h0M1198.5 230.9h0M1187 232.7h0M1184.2 244.9h0M1245 235.9h0M1176 232.7h0M1169.3 240.9h0M1191.2 242.2h0M1237.9 245.9h0M1267 247.5h0M1194.4 245.8h0M1164.8 239.6h0M1184.4 237.4h0M1210.3 233.1h0M1199.5 246h0M1197.7 243.9h0M1251 234.5h0M1200 245.6h0M1180.6 246.2h0M1153.4 234h0M1209.6 242.8h0M1246.7 245.7h0M1201.8 236.3h0M1216.6 247.3h0M1206.2 242.1h0M1207.6 236.4h0M1220.8 240.5h0M1179.1 243.9h0M1189.1 245.5h0M1198.6 245.7h0M1203.1 246.3h0M1222 230.8h0M1172.1 241.8h0M1223.4 243.3h0M1216.9 240.5h0M1162.5 235.7h0M1221.7 247.9h0M1226.6 242h0M1157 245h0M1228.7 233.2h0M1177.3 230.4h0M1156.7 247.1h0M1182.7 236.2h0M1233.3 241.4h0M1231.1 241.4h0M1213.8 232.6h0M1183.6 233.5h0M1193 230.6h0M1185.2 247.8h0M1201.1 244.5h0M1215 239.1h0M1192.9 237.3h0M1173.8 236.4h0M1200.4 245.2h0M1213.4 237.9h0M1230.9 232.3h0M1159.6 236.8h0M1207.5 242.5h0M1186.8 246.3h0M1217.7 244.7h0M1213.7 232.2h0M1195.8 235h0M1224.1 241.4h0M1160.9 243.9h0M1221.3 232.1h0M1182.7 233.3h0M1181.2 244.9h0M1158.7 245.4h0M1145.5 231.4h0M1173.6 231.3h0M1158.6 236.5h0M1206.1 247.4h0M1184.7 236h0M1216.7 233.8h0M1191.9 239h0M1209.7 245.5h0M1151.8 247h0M1160.4 245.2h0M1191.2 235.8h0M1208.2 247.7h0M1218.2 244.6h0M1201.7 246.7h0M1205.1 238.5h0M1178.2 247.4h0M1180.3 247.3h0M1171.5 231.2h0M1247 239.4h0M1207.1 245.4h0M1194.8 239.1h0M1235.4 247.9h0M1169.5 236.1h0M1188.2 236.1h0M1204 237.1h0M1179.2 241.4h0M1161.4 240.7h0M1164.8 240.3h0M1181.5 234.5h0M1180.9 230.7h0M1208 233.8h0M1173.5 235.2h0M1243.3 246.8h0M1204.4 242.3h0M1150.7 238.7h0M1200.9 244.3h0M1187.8 243.3h0M1192.7 242.7h0M1183.6 235.2h0M1226.4 245.9h0M1212.6 237.3h0M1177.6 233.2h0M1137.5 233.8h0M1180.7 243.3h0M1188.2 234.3h0M1193.4 245.9h0M1141.7 236.1h0M1160.5 234.1h0M1174.7 241.5h0M1200.6 246h0M1235.4 230.2h0M1173.3 243.1h0M1176.9 233.3h0M1219.6 243.9h0M1236.7 235.4h0M1168.8 230.5h0M1219.5 245.6h0M1180.6 230.2h0M1229.1 238h0M1213 243h0M1228.8 235.7h0M1170.2 236.6h0M1180 232.5h0M1183.8 247.2h0M1186.3 240.5h0M1168 230.2h0M1172.8 233.6h0M1164.3 244.6h0M1231.1 269.9h0M1217.6 268.5h0M1186.3 249.6h0M1185.3 250.4h0M1201.4 270.5h0M1210.9 257h0M1244.1 269.1h0M1186 254.6h0M1184.4 266.2h0M1190.9 269.9h0M1205.2 261.8h0M1255.2 264.9h0M1163.4 270.1h0M1147.1 260.3h0M1237.6 250.3h0M1204.9 253.2h0M1193.2 249.4h0M1172.7 266.9h0M1176.9 250.6h0M1244.3 254.2h0M1213.6 266h0M1171 261.7h0M1179.7 261.8h0M1166.2 251.3h0M1166.6 261.9h0M1231.5 261.3h0M1185.9 266.7h0M1168.7 252.6h0M1190.9 259.8h0M1187.3 265.7h0M1225.7 261h0M1173.1 255.9h0M1169.9 270.2h0M1221.2 266.7h0M1163.8 249.9h0M1241.9 259h0M1237.5 266.7h0M1214 268.5h0M1225.7 259.8h0M1185.6 251.6h0M1226.5 248.3h0M1212.1 264.9h0M1198.8 252.4h0M1183.7 269.4h0M1135.1 255.5h0M1223.8 266h0M1194.8 260.2h0M1173.9 250h0M1166.3 263.7h0M1192.3 262.6h0M1186.7 267.6h0M1190.2 264.2h0M1187 248.1h0M1202 266.4h0M1203.3 264.8h0M1251 268.6h0M1172.1 266h0M1185.9 248.2h0M1191.3 260.8h0M1202.6 258.4h0M1197.8 260.7h0M1128.7 258h0M1183.9 267.2h0M1188.8 257.2h0M1219 255.3h0M1176.9 250.6h0M1183.3 267h0M1182.9 248.3h0M1127.9 260.6h0M1242.9 263h0M1186.6 260.3h0M1210.4 269.8h0M1221.7 250.9h0M1147.1 257.9h0M1177.5 268h0M1204.5 257.3h0M1163.9 250.6h0M1172.3 269.7h0M1172.2 263.5h0M1175 251.3h0M1163.6 255.1h0M1196.6 262.9h0M1204.4 256.4h0M1169.4 258.8h0M1209.2 253.5h0M1209.9 255.6h0M1172.6 250.4h0M1192.8 259.5h0M1150.6 259.5h0M1199.9 264.9h0M1201.4 257h0M1161.6 261.8h0M1176.5 248.4h0M1211 267.1h0M1201.3 256.5h0M1221.9 262.1h0M1156.9 262.4h0M1200 261.3h0M1214.4 269.9h0M1190.8 255.1h0M1197.6 250.4h0M1185.2 254.9h0M1217.5 255.9h0M1185.8 252.9h0M1182.7 262.8h0M1188.9 253.7h0M1178.7 257.3h0M1180.6 267.1h0M1148.6 250.6h0M1181.2 265.7h0M1204.5 248h0M1177.5 261.1h0M1193.1 261.1h0M1202.6 248.5h0M1185 260.5h0M1221.8 264.5h0M1227.4 262.2h0M1166.1 270.9h0M1177.3 252.9h0M1198.9 262.9h0M1191.6 249.7h0M1138.2 255.8h0M1222.1 260.7h0M1215.3 262.5h0M1185.3 267.4h0M1226.8 262.7h0M1209.6 257.6h0M1235.4 263.5h0M1215.4 265.2h0M1164 265.6h0M1230.6 263h0M1202.6 250.2h0M1217.6 256.5h0M1218.6 258.5h0M1144.8 269.4h0M1162.3 255h0M1225.4 256.7h0M1166.5 254.8h0M1217.5 268.6h0M1191.2 252.5h0M1187.3 259h0M1162.8 253.8h0M1204.2 258.3h0M1199.8 270.8h0M1202.9 256.2h0M1242.7 248.3h0M1175.8 264.9h0M1200.7 266.3h0M1196.5 267h0M1151.4 250.5h0M1194.7 260h0M1175.2 268.5h0M1158.7 258.9h0M1169.6 263.4h0M1176.2 268.7h0M1199.8 256.9h0M1213.3 262.3h0M1192.6 265h0M1203.7 267.3h0M1191.6 257.1h0M1155.4 261.2h0M1228.8 251.1h0M1161.4 256.1h0M1172.4 270h0M1178 248.8h0M1179.2 248.4h0M1155.5 251.2h0M1191 262.3h0M1186.4 266h0M1235.1 259.6h0M1205.6 255h0M1200 267.7h0M1194.4 259.3h0M1185.9 267.7h0M1177.9 262.7h0M1211.7 250.2h0M1163.8 271h0M1166.5 250.4h0M1158.9 267.8h0M1152.8 248.9h0M1226.7 261h0M1234.2 259.6h0M1216.7 259.7h0M1209.2 249.2h0M1190.9 267.2h0M1213.5 257h0M1253.9 264h0M1196.8 264.7h0M1202.3 266.2h0M1168.8 270.3h0M1186.8 267.4h0M1218.5 260.9h0M1238.1 264.9h0M1202.4 250h0M1176.7 268.3h0M1189.6 263.2h0M1186.5 257.1h0M1196.4 255h0M1168 252.7h0M1174.7 248.2h0M1194.1 266.5h0M1209.3 251.4h0M1214.3 262.5h0M1198.1 267.5h0M1193.4 267.8h0M1176 252.9h0M1165.6 253.7h0M1166.8 265.5h0M1215.3 251.7h0M1177.8 262.8h0M1245.8 262.2h0M1157.6 264.2h0M1226 254.4h0M1196.1 265.3h0M1192.2 252.5h0M1207.7 260.8h0M1172.2 269h0M1201.9 265.2h0M1196.7 255.6h0M1177.2 264.4h0M1165.9 262.8h0M1204.4 268.4h0M1142 263.6h0M1193.6 254.5h0M1182.5 249.9h0M1189 255.6h0M1166 262.6h0M1189.3 262.6h0M1225.2 251.7h0M1191.8 251.9h0M1241.4 260.1h0M1202.9 259.4h0M1194.3 251.2h0M1209.2 259.6h0M1193.1 265.5h0M1195.1 252.4h0M1203.9 256.3h0M1197.2 256.6h0M1222.8 260.5h0M1168 268.9h0M1215.7 266.6h0M1190.1 251.4h0M1183.4 264.6h0M1195.6 256.5h0M1218.2 269.6h0M1224.1 252.7h0M1193.4 258.3h0M1190 251h0M1184.1 260.2h0M1172.5 255.7h0M1227.9 267.3h0M1240.4 269.9h0M1210.7 267.4h0M1156.7 252.9h0M1181.3 248h0M1173.5 254.7h0M1186 258.7h0M1203.1 266h0M1210.5 252.2h0M1175.5 266.7h0M1194.7 268.8h0M1226.5 260.3h0M1155.3 250.2h0M1181.9 264.6h0M1181.8 256.9h0M1125.2 257.2h0M1161.3 255.3h0M1154.8 267.2h0M1187.8 251.9h0M1203.8 267h0M1217.2 263h0M1199.7 263h0M1231.8 265.3h0M1149.6 255.8h0M1199.8 260.7h0M1230.1 263.6h0M1201.8 269h0M1218.1 264.7h0M1204.5 258.1h0M1227.8 255.6h0M1209.2 261.2h0M1168.4 263.1h0M1172.7 266.4h0M1211.6 263.2h0M1167.3 269.4h0M1221.6 255.9h0M1203.6 249.6h0M1249.6 270.6h0M1197.4 258.7h0M1238.9 254.2h0M1236.8 260h0M1204.7 248.8h0M1212.3 264.4h0M1197.8 270h0M1149.1 252.8h0M1218.9 253.2h0M1193.8 257.4h0M1200.3 270.9h0M1170.1 262.4h0M1186.4 255.5h0M1167 266.6h0M1225.8 264.7h0M1162.4 252.4h0M1138 267.4h0M1229.7 253.7h0M1186.1 261.5h0M1241 262.7h0M1188.3 258.5h0M1215.4 267.9h0M1203.3 257.5h0M1188.2 268.4h0M1203.4 252.6h0M1183 252.2h0M1201.8 250.3h0M1209 251.9h0M1224.7 263.4h0M1197.2 256.4h0M1214.7 264.8h0M1194.5 260.4h0M1226.8 249.9h0M1180.8 268.3h0M1224.1 249.2h0M1193.6 252.6h0M1213.7 249.2h0M1183.6 257.8h0M1186.3 249h0M1163.1 257.5h0M1250.5 289.1h0M1206.5 288.9h0M1164.2 271.5h0M1193.1 285.3h0M1175.3 284.5h0M1101.7 283.5h0M1231.9 291.7h0M1208.8 281.7h0M1202 283.2h0M1171.6 283.9h0M1222.1 287.6h0M1212.5 286.5h0M1201.6 287.6h0M1191.2 292.6h0M1162.7 284.1h0M1257.1 271.7h0M1202.3 275.5h0M1209.5 286.9h0M1189.2 284.2h0M1212.9 275.5h0M1206.9 279.7h0M1178.1 277.5h0M1205.3 272.5h0M1187.7 282.7h0M1204 291.3h0M1194 279.8h0M1195.5 287.4h0M1215.3 287.4h0M1209.2 284.5h0M1222.3 288.1h0M1207.9 280.5h0M1215.2 281.6h0M1178 271.5h0M1180.3 283.7h0M1172.1 280.6h0M1167.9 274.9h0M1246.9 278.4h0M1203.6 277h0M1169.6 279.4h0M1211.9 285.6h0M1169.2 285h0M1216.7 281.2h0M1205.8 285.2h0M1202.3 291.3h0M1218.2 292.4h0M1214.6 274.9h0M1224.3 286.7h0M1188.6 277.7h0M1157.8 271.7h0M1188 286.5h0M1207.9 276.5h0M1224.2 289.5h0M1215.8 280.4h0M1174.4 271.3h0M1150.8 281.8h0M1224.9 277h0M1184.3 292.7h0M1193.6 290.7h0M1219.4 289.1h0M1212.1 275.3h0M1232.3 286.9h0M1236.5 289h0M1169.6 281.6h0M1203.4 284h0M1227.8 287.2h0M1190.8 284.6h0M1189.8 277.1h0M1164.1 279.3h0M1234.6 277.6h0M1187.6 290.8h0M1144.5 273.6h0M1193.3 282.4h0M1172.3 278.9h0M1225.8 289.7h0M1206.3 283h0M1229.9 291.3h0M1204.8 278.1h0M1220.6 286.9h0M1234.2 283.4h0M1264.6 281.5h0M1158.7 279.9h0M1246.3 287.3h0M1215.7 290.3h0M1269.5 285.1h0M1177.7 285h0M1194.4 281.1h0M1167.2 282.6h0M1181.5 274.1h0M1186.1 290.6h0M1199.3 273.1h0M1215.7 290.2h0M1179.2 290.1h0M1208.3 285.5h0M1225.1 290.7h0M1187 290.1h0M1162.8 288.3h0M1226.8 283.6h0M1168.2 288.5h0M1203.8 284.7h0M1272.4 274.3h0M1147.3 271.1h0M1243.4 277.2h0M1211.8 275.4h0M1184.5 287h0M1221.6 276.7h0M1219.9 279.6h0M1178.4 281.5h0M1194.4 289.5h0M1192 281.2h0M1174.6 292.1h0M1233.4 286.4h0M1205 289.9h0M1217.7 280.8h0M1164 271.9h0M1160.3 280h0M1225.3 291.2h0M1252.2 280.7h0M1196.5 279.8h0M1198.5 272.7h0M1201.3 282.9h0M1213.4 277.8h0M1231.8 284.3h0M1242.6 277.9h0M1183.2 273.3h0M1228.1 285.6h0M1191.8 279.6h0M1177.6 291.6h0M1206.2 291.6h0M1210.4 286.1h0M1209.8 291.8h0M1154.8 285.2h0M1203.9 274.3h0M1185.1 273.7h0M1182.7 286.2h0M1134.9 276.6h0M1224.9 273.1h0M1208.5 292.7h0M1181.6 290.5h0M1234.6 290.5h0M1163.3 288.2h0M1203.6 277.3h0M1186.5 274.4h0M1193 292.5h0M1182.8 284.8h0M1160.8 273.8h0M1155.2 273.2h0M1184.7 277.7h0M1195 289.8h0M1187.2 278.8h0M1219.6 290.1h0M1195.6 277.3h0M1181.2 275.8h0M1173.5 285.7h0M1245.5 287.1h0M1215.2 285.8h0M1190.6 280.8h0M1227.6 290.4h0M1190.1 281h0M1161.6 279h0M1215.7 291.7h0M1187.4 273.6h0M1197.8 286.9h0M1228.6 271.9h0M1181.8 286.5h0M1250.4 288.5h0M1220.5 281.9h0M1242.8 288.7h0M1203 290.6h0M1164.7 283.6h0M1149.8 288.8h0M1156.4 276.1h0M1223.3 278.7h0M1227.4 276h0M1185.7 288.3h0M1197.5 271.4h0M1196.5 287.9h0M1229.7 280.5h0M1183.1 275.9h0M1166 290.2h0M1201.3 273.7h0M1202.7 286.2h0M1162 289.9h0M1169.3 282.8h0M1195 286.7h0M1198.8 286.6h0M1224.7 278.6h0M1205.9 284.3h0M1210.5 277.7h0M1146.6 284.7h0M1225.3 281.8h0M1192.6 277.8h0M1237.3 272.1h0M1223 284.9h0M1195.8 288.3h0M1187.5 286.6h0M1172.9 291.7h0M1195.2 277h0M1207.1 275.1h0M1237.8 274.2h0M1212.4 275.2h0M1238.7 276.7h0M1192.3 272.4h0M1239.3 277h0M1212.8 272.1h0M1165 281.1h0M1229 280h0M1154.7 280h0M1192.9 280.9h0M1168.1 284.6h0M1261 276.8h0M1227.2 281h0M1184.8 289.2h0M1215.7 280.1h0M1186.1 277.8h0M1158.4 280.6h0M1208.8 283.6h0M1231.7 284.6h0M1210.2 289.9h0M1159.8 285.4h0M1293.1 281.2h0M1181.5 280.1h0M1153.1 283.7h0M1127.6 274.1h0M1234.1 288.7h0M1205.3 292.9h0M1159.7 288.4h0M1171.8 277.7h0M1201 276.7h0M1210.4 278.1h0M1238.8 282.6h0M1196.3 277.8h0M1167 282h0M1161.2 285.3h0M1262.7 281.2h0M1170.6 291.6h0M1195.8 285.7h0M1228.9 287h0M1175 276.6h0M1225 274.9h0M1241.8 280.4h0M1204.7 273.9h0M1233.2 274.9h0M1231.4 283.6h0M1206.5 287h0M1216.7 275h0M1230 289.5h0M1181.4 273.3h0M1245.4 288.3h0M1188.2 287.1h0M1142.5 276.9h0M1238.2 287.1h0M1163.5 274.9h0M1232.9 278.3h0M1206.1 275.1h0M1183.8 272h0M1178.6 274.1h0M1238.7 285.1h0M1161.5 282h0M1220.6 274.1h0M1210.7 275.1h0M1104.2 274.3h0M1229 278.4h0M1210.4 285.4h0M1171.3 279.2h0M1148.5 276.8h0M1171.7 280.9h0M1192.1 274.6h0M1206.1 292.9h0M1174.3 289.1h0M1165.6 273h0M1176.2 286.5h0M1148.7 277.8h0M1204.4 289.9h0M1180.6 290.1h0M1161.4 278.3h0M1199.5 285.7h0M1188.9 282.5h0M1224.6 274.1h0M1163.1 273.2h0M1198.7 289.2h0M1198 280.2h0M1240.3 284h0M1177.8 271.6h0M1206.1 292.8h0M1226.1 275.2h0M1160 287.5h0M1201.4 273.1h0M1213.3 287.2h0M1206.6 276.9h0M1206.2 273.1h0M1231.9 281.1h0M1210.1 277.9h0M1198.5 277.1h0M1183.9 272.7h0M1205.8 292.8h0M1222.6 283.4h0M1205.1 314.8h0M1183.2 297.8h0M1181.1 310.6h0M1242.7 303.8h0M1166.9 302h0M1159.5 310.8h0M1183.8 308h0M1167.4 309.7h0M1198.7 307.3h0M1223.9 313.2h0M1196.6 311.9h0M1197.2 301.8h0M1204.7 299.6h0M1240.2 306.4h0M1235.1 296.9h0M1223 295.2h0M1191.9 310.6h0M1194.3 309.8h0M1211.8 306.3h0M1200.6 308.8h0M1238.3 310.3h0M1175.2 297.1h0M1198.3 297.3h0M1162.4 295.3h0M1198.8 315.7h0M1200.4 296.5h0M1222.5 294h0M1215.9 300.5h0M1149.7 307.2h0M1210.3 314.6h0M1197.5 315h0M1218.8 312.1h0M1214.7 308.5h0M1171.2 308.2h0M1209.5 304.9h0M1230.9 308.9h0M1233.4 305.2h0M1181.2 299.4h0M1209.8 308.2h0M1219.9 302.7h0M1221.3 304.4h0M1185 313h0M1198.4 297.4h0M1224 302.4h0M1237.3 298h0M1201.8 296.5h0M1226.2 296.7h0M1175.4 307.7h0M1196.7 314.8h0M1205.6 293.3h0M1208.7 306.3h0M1166.3 297.2h0M1152.5 315.3h0M1252.1 302.9h0M1241.6 303h0M1227.8 311.9h0M1172.6 309.4h0M1229 314.9h0M1210.6 304.2h0M1228.7 315.4h0M1202.5 314.4h0M1192.8 300.3h0M1206.6 315.4h0M1196.1 311.1h0M1193.2 302h0M1176.2 301.5h0M1196.7 299h0M1143.8 309.1h0M1217.2 304.7h0M1191 301.1h0M1171.9 295.3h0M1216.7 308.5h0M1148.8 307.7h0M1181.6 296.2h0M1233.4 295h0M1174.9 297.2h0M1175.5 304.8h0M1184.6 313.1h0M1182.1 310.9h0M1188.7 294h0M1206.7 300.2h0M1185.5 293.7h0M1224.2 316h0M1142.6 294.6h0M1175.6 312.8h0M1165.1 308.1h0M1219.2 310.4h0M1164.9 312.1h0M1176.7 300.5h0M1197.8 295.9h0M1159.6 308.1h0M1216.6 301.4h0M1217.4 303.9h0M1154.3 305.5h0M1208.1 310.2h0M1209.6 309.1h0M1224.1 296.3h0M1167.5 300.4h0M1176.7 295.2h0M1253.6 314.5h0M1186.4 302.5h0M1200.2 299.9h0M1171.4 305.9h0M1161.1 309.2h0M1203.8 293.7h0M1215.5 307.3h0M1239.9 311.8h0M1157.2 310.4h0M1187.1 312.1h0M1237.2 315.9h0M1208.1 315.9h0M1231.7 305.9h0M1199 308.1h0M1234.6 297.2h0M1191.3 296.9h0M1178.6 305.7h0M1191.9 299.9h0M1201.1 302.3h0M1225.8 309.5h0M1174.4 299.3h0M1209.7 309.4h0M1161.1 314.2h0M1218.4 315.7h0M1217.7 301.2h0M1192.3 307.7h0M1164.1 298.3h0M1155 316h0M1160.4 303.4h0M1175.2 301.7h0M1212 295.3h0M1173.2 293.7h0M1228 302.7h0M1182.1 309.6h0M1219.7 313.4h0M1149.8 303.1h0M1160.9 297.8h0M1234.5 299.3h0M1224.3 305.8h0M1209.1 297.4h0M1168.9 311.5h0M1193.3 297.8h0M1224.9 304.3h0M1159.2 295h0M1239.4 297h0M1209.7 305.4h0M1246 314.6h0M1211.8 296h0M1219.9 298.7h0M1191.1 302.3h0M1200.1 297.9h0M1179.2 314.3h0M1212.4 315.7h0M1162.9 306.3h0M1249 301.6h0M1161.5 298.4h0M1207.5 307.3h0M1238.9 299.1h0M1222 293.5h0M1184 303.7h0M1186.8 295.6h0M1201.3 314.9h0M1223.2 297.9h0M1201 310.6h0M1236.7 310.1h0M1204.9 294.6h0M1223 293.3h0M1190.9 304.3h0M1192.7 304.1h0M1218.1 303.3h0M1166.2 312.2h0M1170 297h0M1186.3 304.5h0M1171.6 308.4h0M1193.4 294.6h0M1207.6 295.3h0M1182.6 309.9h0M1221.5 297.7h0M1220.2 300.4h0M1232.2 307.6h0M1197.5 298.1h0M1194 306h0M1190.9 297.3h0M1180.6 293.6h0M1207.4 298.6h0M1210 299.2h0M1187.5 303.9h0M1233.8 296.9h0M1224.2 314.6h0M1235.4 299.2h0M1194.9 315.3h0M1188 303.8h0M1196.2 305.8h0M1236.6 297.9h0M1192.5 306.6h0M1221.2 315.3h0M1213.5 306h0M1204.7 315.7h0M1154.8 315.3h0M1176.1 298.6h0M1196.8 298.7h0M1207.9 309.8h0M1122.6 313.5h0M1244.6 306.2h0M1184.4 308.9h0M1219.9 315.5h0M1189.9 311.6h0M1198.2 307.9h0M1186 310h0M1200.4 299.4h0M1202.7 314.9h0M1279.8 304.5h0M1174.1 311.9h0M1180.9 307.7h0M1191.3 307.2h0M1202.2 305.7h0M1187 297.2h0M1246 304.7h0M1167.5 314.9h0M1189.8 296.3h0M1188.7 310h0M1189.5 294.7h0M1157.8 305.3h0M1176.5 300h0M1223.6 302.9h0M1214.8 299.9h0M1196.6 313.2h0M1193.3 306.4h0M1215.2 295.6h0M1211.9 301.5h0M1168 300.6h0M1192.7 311.9h0M1196.3 305.8h0M1227 299.2h0M1167 303.7h0M1188 297.8h0M1228.2 305.2h0M1200.8 304.4h0M1223.3 311h0M1182.1 306.6h0M1209.7 313h0M1167 299.4h0M1230.5 295h0M1219.3 296.1h0M1194.5 307.1h0M1184.6 315.6h0M1243.8 299.5h0M1211.2 303.1h0M1205 302.2h0M1183.1 304.1h0M1222.2 293.9h0M1195.3 305.2h0M1205.9 304.5h0M1171.4 309.6h0M1158.8 301.3h0M1223.2 312.4h0M1158 308.7h0M1201.2 304h0M1168.1 302.3h0M1197.9 306.8h0M1160.1 306.5h0M1199.8 315.4h0M1224 293.2h0M1209.9 306.2h0M1216.5 310.9h0M1211.1 305.4h0M1194.4 309.8h0M1226.7 307.5h0M1240.5 303.2h0M1212 310h0M1213.9 307h0M1187.6 312.4h0M1234.4 294.4h0M1206.6 293.1h0M1176.6 296h0M1231.7 312.7h0M1239.7 297.3h0M1173.7 304.8h0M1195.3 294.1h0M1216.4 302.7h0M1223 315.9h0M1205.4 300.1h0M1192.4 315.9h0M1169 299.9h0M1200.8 305.7h0M1216.8 309h0M1156.3 301.4h0M1173.7 293.2h0M1211.8 303.7h0M1186.4 307.9h0M1215.2 297.5h0M1166.8 298.4h0M1224.5 315.2h0M1189.1 294.1h0M1173.7 298.2h0M1160.3 296.6h0M1177.3 303.8h0M1190.4 299.3h0M1215.6 296.9h0M1227.6 305.8h0M1103.6 305.4h0M1168.8 294.3h0M1200.3 313.7h0M1237.1 294.7h0M1203.2 314.8h0M1199.8 295.4h0M1187.5 314.2h0M1201.4 298.8h0M1201.7 308.1h0M1197 310.4h0M1188.2 304.8h0M1189 312.7h0M1178.9 308.1h0M1177.6 302.4h0M1243.3 296.8h0M1203.7 294.6h0M1212 294.2h0M1160.1 305.5h0M1183.1 310.2h0M1170.9 299.2h0M1204.6 314h0M1235 294.1h0M1174.9 315.2h0M1197.5 299.5h0M1170.2 304.1h0M1184.2 299.5h0M1181.9 297.8h0M1194.6 311.7h0M1171.2 300.7h0M1214.6 295.9h0M1224.1 314.9h0M1217.3 307.7h0M1228.3 314.2h0M1242.3 313.8h0M1167.1 299.2h0M1199.9 302.7h0M1148.4 314.3h0M1186.4 305.1h0M1159.9 308.2h0M1226.4 293.3h0M1179.1 303.8h0M1160.8 302.6h0M1187.1 295.4h0M1238.2 301.8h0M1243.6 305.4h0M1204 305h0M1229.4 311.8h0M1212.3 302.5h0M1195 295.7h0M1184.8 309.1h0M1169.4 311.6h0M1185.7 296.1h0M1174.9 308.1h0M1213.7 293.7h0M1202.1 310.3h0M1161.6 316.7h0M1184.2 323.9h0M1206.4 320.5h0M1198.7 321.2h0M1203.4 320.8h0M1198.7 322.8h0M1247.7 317.6h0M1170.3 331.8h0M1186.8 334.2h0M1186.6 321.3h0M1190.3 326.1h0M1194.1 330.1h0M1192.9 328.9h0M1206.1 323.4h0M1173.2 322.4h0M1227.7 325.3h0M1232.1 334.1h0M1170.3 324.1h0M1253.3 327.4h0M1203.3 322.3h0M1223.2 333.2h0M1169.9 323.3h0M1211.6 324.3h0M1252.9 321.2h0M1192.4 331.4h0M1203.9 326.7h0M1215.1 319h0M1173.9 325.9h0M1181.3 321.2h0M1236.3 326h0M1209.5 325.7h0M1196.1 328.3h0M1208.2 333.6h0M1186.4 318.9h0M1188.2 325h0M1236.5 318.6h0M1211.1 326h0M1199.4 323.1h0M1229.9 334.9h0M1249.6 332.8h0M1216.3 324.7h0M1181.4 325.4h0M1175 323.4h0M1236.7 317.4h0M1225 322.5h0M1165.8 330.5h0M1172.4 327.1h0M1170.4 322.2h0M1171.9 331.7h0M1213.8 329.4h0M1178.1 324.8h0M1205.1 334.9h0M1178.4 327.4h0M1198.2 317.8h0M1214.6 325.6h0M1228.3 331.9h0M1245.9 331.8h0M1201.2 327.8h0M1237.1 316.6h0M1202.5 327.6h0M1133 317.5h0M1205.6 321.5h0M1199 318.4h0M1184 334.1h0M1187.3 317.2h0M1244.5 320.6h0M1214.5 318.2h0M1213.7 329h0M1201.3 321.2h0M1243.9 321.2h0M1171.5 316.6h0M1183.9 326.5h0M1205.5 328.6h0M1222.5 333h0M1184.2 319.2h0M1141.2 318h0M1224.3 329h0M1151.3 319h0M1208.1 319h0M1247.1 333.6h0M1233.5 326.9h0M1224 327.1h0M1203.7 320.3h0M1218 334.1h0M1208.1 321.5h0M1199.7 326.5h0M1236.6 326.9h0M1192.8 327.5h0M1236.3 317.5h0M1233.2 330.9h0M1214 332.8h0M1248.8 333h0M1198.5 331.1h0M1193.9 325.9h0M1220.8 329.7h0M1174.2 329.3h0M1162.2 318.8h0M1186.7 316.6h0M1188.7 325.2h0M1175.8 325.1h0M1223.4 327.3h0M1245.9 331.5h0M1169.8 327.1h0M1163.6 317h0M1180.6 333.5h0M1250.3 332.1h0M1191.9 326.5h0M1217.4 332.1h0M1178.6 334.2h0M1229.7 326.9h0M1234.7 319.9h0M1185.5 317.2h0M1179.3 323.2h0M1187.9 326h0M1234.9 325.3h0M1232.2 333.8h0M1233.4 321.7h0M1216.4 329.4h0M1173.9 325.2h0M1234.8 334.4h0M1216.1 319.5h0M1229.2 317.4h0M1193.3 327.3h0M1149.9 323h0M1168.3 335h0M1160.8 325.2h0M1244.1 323.9h0M1179.2 322.5h0M1204.4 317.2h0M1176.5 330.1h0M1199.8 318.7h0M1195.3 327.2h0M1176.7 330h0M1210.3 321.5h0M1187.9 327.1h0M1172.8 318.4h0M1182.4 319.4h0M1210.5 332.4h0M1162.2 327.5h0M1188.1 321.2h0M1214.3 324.2h0M1233.9 334.7h0M1196.4 320.6h0M1193.3 322.7h0M1207.6 329.3h0M1182.9 323.1h0M1205.5 318.4h0M1165.4 324.1h0M1193.8 325.6h0M1190.8 322.9h0M1194.8 325.3h0M1231.4 334.3h0M1256.5 319.9h0M1207.7 323.3h0M1158 325.9h0M1193.1 317.6h0M1161.1 330h0M1259.2 332.8h0M1204.6 334.4h0M1218.7 317.8h0M1148.1 321.4h0M1182.4 322.6h0M1175.6 334.2h0M1238 326.5h0M1189.7 319.5h0M1143.1 319.4h0M1237.5 333.7h0M1180.7 329h0M1233.5 316.5h0M1204.6 323.9h0M1149.9 316.1h0M1199.7 319.9h0M1184.8 325.2h0M1241.7 318.9h0M1184.3 330.7h0M1249.9 328.8h0M1205.1 317.3h0M1197.7 320.5h0M1143.8 325.6h0M1223.1 332.9h0M1230.3 316.8h0M1153.8 320h0M1185.3 317.3h0M1169.7 319.7h0M1218.3 330.4h0M1199.4 326.4h0M1257.7 331.8h0M1219.3 333.8h0M1227 331.8h0M1253.3 330.9h0M1172.1 330.4h0M1168.6 316.7h0M1197 321.2h0M1242.7 326.8h0M1258.1 331.5h0M1181.8 327.8h0M1252.7 325.1h0M1218.6 316.9h0M1222.3 320.8h0M1244.2 322.9h0M1213 327.2h0M1203.2 321.3h0M1256.2 332.9h0M1223.3 321.4h0M1239.2 320.3h0M1180 331.5h0M1158.1 316h0M1197.4 320.8h0M1150.9 326h0M1220.5 325.5h0M1219.4 324h0M1241.6 327.1h0M1220.7 318.9h0M1183.7 322.9h0M1183.8 316.7h0M1235.3 328.9h0M1195.2 334.3h0M1244.3 329.8h0M1249.1 331.5h0M1163.2 330.1h0M1188.9 325.2h0M1236.3 323h0M1173.6 333.2h0M1187.1 324.8h0M1196.5 320h0M1163.6 330.2h0M1187.7 334.3h0M1191.7 319.5h0M1183.7 331.4h0M1207.2 327.8h0M1188.5 330.2h0M1193.9 320.7h0M1212.3 329.7h0M1196.1 328.4h0M1218.4 323.8h0M1202.9 321.6h0M1151 319.9h0M1203.9 318.6h0M1180.4 331.5h0M1234.1 326.3h0M1190.4 322.4h0M1195.1 321.4h0M1210.2 328.7h0M1207.2 317.5h0M1176.9 318.7h0M1234.5 317.9h0M1244.6 327.5h0M1171.7 317h0M1208 330.1h0M1216.3 330.9h0M1205.9 327.7h0M1217.1 324.5h0M1193.7 326.4h0M1210 330.3h0M1246.3 321.6h0M1166.4 322.7h0M1206.6 323.4h0M1170.4 323.5h0M1252.4 332h0M1192.4 317.9h0M1203.7 327.4h0M1178.3 325h0M1214.9 325.7h0M1205.5 318.5h0M1183 329h0M1210.2 321.4h0M1252.9 322.9h0M1205.9 321.9h0M1172.6 334.9h0M1198.7 327.9h0M1189 330.7h0M1238.8 333.6h0M1151.8 316.6h0M1187.1 316.6h0M1229 325.9h0M1237.6 329.9h0M1161 325.9h0M1163.1 323.3h0M1191.4 316.2h0M1223.8 333.5h0M1206.1 333.3h0M1244.7 328.1h0M1225.7 329.3h0M1198.5 321.7h0M1259.8 334.7h0M1203.1 328.6h0M1205.2 324.5h0M1215.6 325.9h0M1184 332h0M1140.1 334.9h0M1216.4 327.9h0M1196.3 332.8h0M1179.7 324.5h0M1240.9 330.7h0M1151.9 318.6h0M1210.8 323.8h0M1210.5 326.8h0M1208.6 334.9h0M1217.5 328.4h0M1178.9 318h0M1159.7 330.6h0M1226.9 326.1h0M1248.9 330.2h0M1198.9 328.7h0M1207.2 318.1h0M1201.2 321.1h0M1157.5 319.3h0M1238.6 326.8h0M1242.2 334.6h0M1210.5 334.2h0M1173.3 321.5h0M1182.9 330.8h0M1244.3 318.9h0M1232.5 321.9h0M1215.5 330.5h0M1197.4 326.8h0M1218.4 323.3h0M1199.5 331.6h0M1205.8 323.1h0M1211.1 326h0M1209.7 325.8h0M1231.8 333.6h0M1211.9 320.7h0M1215.8 330.1h0M1198 327.2h0M1208.5 331.1h0M1222.7 319.3h0M1240.7 323.9h0M1248.3 319h0M1225.7 320.3h0M1188.7 333.4h0M1161.4 323.2h0M1216.7 323.7h0M1202.3 333.9h0M1215 324.7h0M1213.2 341.4h0M1164.5 348.8h0M1225.9 338.8h0M1193.3 337.7h0M1185 339.1h0M1199.3 352.5h0M1252.2 335.8h0M1251.8 342.1h0M1256.5 349.8h0M1207.1 344h0M1177.8 344h0M1228.3 343.8h0M1164.8 351.5h0M1221 339.7h0M1259.5 350.2h0M1166.3 340.8h0M1186.8 338.6h0M1206.8 345.8h0M1208.8 347.5h0M1214.5 344.2h0M1163.3 346.5h0M1242.6 349.8h0M1201.7 342.4h0M1182.6 350.4h0M1179.5 343.8h0M1206.6 350.1h0M1219.6 339.5h0M1229.4 339.7h0M1206.1 338.1h0M1245 345.4h0M1245 345.5h0M1164.7 342.1h0M1217.1 339.1h0M1179.6 335.7h0M1206.3 338.5h0M1204.3 335.1h0M1190.3 338h0M1246.6 350.7h0M1199.2 335h0M1223.5 352h0M1222.3 344.4h0M1221.5 340.2h0M1175.4 346.3h0M1234.1 343.7h0M1196.7 345.9h0M1257 347.5h0M1238.2 335.2h0M1212.6 349.9h0M1193.3 340.7h0M1178.1 347.2h0M1214.3 338.3h0M1178.1 335.3h0M1204.7 341.5h0M1198.8 351.6h0M1176.4 341.8h0M1189.8 336.8h0M1248.2 344.7h0M1198.4 346.2h0M1161.6 348.9h0M1211.3 350.4h0M1191.4 338.7h0M1223.8 342.2h0M1190.1 352h0M1181.6 345h0M1227.9 338.1h0M1192.3 349.5h0M1187.8 349.9h0M1192.5 345.1h0M1190.4 336h0M1260.2 340.8h0M1221.2 343.6h0M1200.5 340h0M1248.8 336h0M1239.3 349.5h0M1215.3 337.7h0M1201.3 347h0M1256.1 337.7h0M1220.5 346.4h0M1194.1 344.9h0M1240.5 352.3h0M1195.1 341.9h0M1257.7 349.8h0M1166.6 337.8h0M1209.6 335.4h0M1217.6 337h0M1244.9 342.5h0M1250.4 349.6h0M1160.5 350h0M1200.8 348h0M1247.8 343.2h0M1204.7 348h0M1207.9 344.9h0M1224.7 340.1h0M1210.6 340.9h0M1194.6 335.2h0M1250.7 342.3h0M1260 338.9h0M1210 347h0M1206.2 348.3h0M1184.9 351.9h0M1218.1 335.5h0M1222 345.9h0M1170 342.2h0M1177.5 338.1h0M1223.3 349h0M1206 342.5h0M1245.8 343.3h0M1172.2 339.7h0M1230 351.5h0M1148.1 336.1h0M1162.4 345.4h0M1175.2 341.7h0M1186.9 346.2h0M1223.1 342.2h0M1214.3 345.3h0M1223.1 343.4h0M1238 350.5h0M1233 346.4h0M1233.7 348.8h0M1210.4 351.4h0M1196.6 345.5h0M1167.2 346.5h0M1233.8 341.1h0M1188.9 351.2h0M1205 351h0M1178.2 337.8h0M1175.3 335.3h0M1236.7 352.8h0M1214.2 339.2h0M1218.6 352.1h0M1216.6 352.1h0M1206.5 345.4h0M1256.5 345.7h0M1142.4 348.3h0M1201.1 341.6h0M1207.1 338.2h0M1207.1 338.4h0M1199.3 336.8h0M1219.4 349.5h0M1201.9 344.8h0M1200.1 338.1h0M1188.7 342.6h0M1176.5 343.9h0M1217.7 335.9h0M1206.2 344.6h0M1240.7 345.2h0M1206.2 346.4h0M1194.9 339.1h0M1168.5 349.3h0M1250.6 335.1h0M1183.1 339.9h0M1211 347.8h0M1205.5 340.2h0M1197.3 351h0M1216.1 338h0M1204.3 345h0M1247.3 352.4h0M1143.5 337.1h0M1256.4 338.2h0M1205.8 344.8h0M1195.1 339.9h0M1214.8 346.6h0M1189 346.8h0M1236.2 339h0M1205.4 339.1h0M1197.3 336.4h0M1187.9 340.7h0M1188 337.6h0M1178.2 347.7h0M1192.2 343.1h0M1217.8 342.8h0M1179.6 346.6h0M1240.3 336.8h0M1245.8 351.6h0M1256.9 335.4h0M1234.6 335.2h0M1207.5 349.6h0M1252.1 347.7h0M1229.2 351.1h0M1164.6 344.4h0M1252.8 336.7h0M1181.6 345.7h0M1195.8 340h0M1247.1 346.5h0M1240.6 335.1h0M1200.4 338.6h0M1223.6 337.7h0M1177.5 342.5h0M1235.5 340.7h0M1185.3 337h0M1184.4 348.9h0M1252.7 352.4h0M1187.2 341.7h0M1165.8 346h0M1203.2 346.2h0M1257.8 343.6h0M1221.1 342.6h0M1227.8 350.9h0M1222.7 339.9h0M1230.8 352.7h0M1229.1 341.8h0M1206.4 351h0M1160.3 340.8h0M1200.9 350.1h0M1203.7 338.9h0M1191.6 340.9h0M1222.6 348.8h0M1219 344h0M1189.3 352.2h0M1259 342.2h0M1143.5 344.2h0M1208.8 348.3h0M1215.8 338.1h0M1205.6 344.9h0M1255.8 338.5h0M1233.9 349.2h0M1194.9 335.3h0M1210.8 335.3h0M1156.3 340.7h0M1224.9 340.9h0M1176.2 341.7h0M1227.8 350h0M1177.6 345.8h0M1234.7 335.4h0M1158 351.7h0M1225.2 336.6h0M1209.8 336.9h0M1169 336.7h0M1241.8 337.4h0M1200.5 347h0M1230.9 346h0M1258.9 339.2h0M1212.4 340.2h0M1226.7 344.5h0M1237.3 345.3h0M1212.8 342.7h0M1237 351.8h0M1207 346.5h0M1228.1 336.3h0M1181.9 337.8h0M1185.1 351h0M1224.3 351.3h0M1155.5 342.2h0M1230.1 337.1h0M1227.1 341.9h0M1200.8 342.7h0M1217.6 344.8h0M1219.5 336h0M1184.1 342.8h0M1239.7 351.5h0M1234.9 338.9h0M1208.7 347.3h0M1195.6 343.6h0M1220 343.1h0M1204.8 344.2h0M1203.2 349.9h0M1184.1 345.6h0M1217.3 349.2h0M1209.3 339.4h0M1196.1 339.6h0M1212.9 344.3h0M1234.7 339.2h0M1248.4 344.7h0M1243.6 347.2h0M1200.8 340.2h0M1202.4 336.1h0M1233.5 339.3h0M1201.1 344.6h0M1246.6 341.4h0M1258.8 337.7h0M1231 351.4h0M1212.7 345.6h0M1227 350.5h0M1210.6 348h0M1214.9 337.2h0M1199.2 344.4h0M1195.6 337.9h0M1210.6 346.9h0M1200.1 341.6h0M1191.1 348.7h0M1236.2 352.8h0M1207.2 341.7h0M1227.1 346.8h0M1175.9 346h0M1213.2 345.2h0M1228.9 345.7h0M1199.6 349.5h0M1189.7 344h0M1203.1 349.3h0M1206.4 351.3h0M1199.6 335.1h0M1210.8 347h0M1193.1 340.8h0M1209.5 346.6h0M1251.8 339h0M1233.4 352.1h0M1211.2 346.7h0M1162.2 346.7h0M1230.4 340.2h0M1213.4 345.5h0M1185.6 344.4h0M1209.4 346.1h0M1250.2 347.5h0M1137 336h0M1250.3 368.6h0M1192.1 364.2h0M1222.4 373.5h0M1232.9 355.6h0M1190.2 368.8h0M1180.6 353.2h0M1212.2 357.3h0M1255 358.1h0M1214.2 366.3h0M1188.6 353.1h0M1183.7 356.1h0M1204.6 371.6h0M1194.6 354h0M1189.6 364.9h0M1185.6 362.8h0M1229 369.1h0M1225.4 368.7h0M1214.1 370.4h0M1246.8 367.4h0M1211.1 357.8h0M1224.9 373h0M1232.5 355.1h0M1227.1 361.2h0M1189.5 370.9h0M1192.1 368.5h0M1258.5 358.5h0M1176.6 360h0M1224.8 353.2h0M1226.1 362.6h0M1180.3 364.4h0M1247 356.5h0M1232.9 360.7h0M1255.7 354.3h0M1215.9 373.4h0M1241.8 370.6h0M1251.8 360.1h0M1205.7 355.6h0M1245.2 368.5h0M1221.8 360.7h0M1196.6 365.9h0M1242.3 353.2h0M1172.5 362.9h0M1245.7 374.9h0M1206.6 361.2h0M1209.8 369.9h0M1247 358.2h0M1239.3 356.2h0M1252.1 358.3h0M1184.2 353.7h0M1201.9 362.8h0M1216 370.9h0M1195.2 362.6h0M1229.9 365.5h0M1198.3 373.4h0M1254.4 368.1h0M1243.6 369.2h0M1204.6 367.6h0M1210.5 371.7h0M1254.7 356.6h0M1231.5 359.5h0M1227.5 355h0M1247 353h0M1208.3 353.5h0M1213.8 366.6h0M1173.7 366.3h0M1232.8 364.4h0M1254 353.2h0M1254.2 374.7h0M1213.5 360.3h0M1211.9 357h0M1184.9 356.9h0M1205.6 374.9h0M1247.2 356.3h0M1237.5 373.5h0M1213.5 358.6h0M1214.4 372.4h0M1199.4 370h0M1239.3 374.5h0M1188.6 361.9h0M1231.2 365.5h0M1228.6 371.2h0M1220.9 363.9h0M1173.6 358.2h0M1177 353.2h0M1237.1 371.8h0M1192.2 363.5h0M1256.4 353.7h0M1211.5 361.8h0M1234 364.7h0M1216.2 367.7h0M1186.9 358.6h0M1217.7 359.2h0M1221 367.8h0M1254.2 356h0M1229.7 357.7h0M1224.9 360.2h0M1225 369.9h0M1194 356.5h0M1232.5 366.9h0M1234.7 363.7h0M1240.8 364.6h0M1210.1 359.2h0M1200.9 370h0M1239.3 374.9h0M1232.7 374.2h0M1252.5 369.8h0M1262.6 373.5h0M1196.2 368.7h0M1255.1 375.4h0M1215.4 366.5h0M1214 369.8h0M1211.8 359.3h0M1208.5 372.8h0M1224.3 375h0M1207.8 375.2h0M1241 353.6h0M1196.4 366.2h0M1225.9 353.9h0M1247.5 370.3h0M1244.6 366.9h0M1217.2 361.4h0M1221.8 373.5h0M1166.6 357.1h0M1234.4 367.3h0M1182.7 358.3h0M1232.6 370.3h0M1210.6 356.2h0M1227.8 361.2h0M1224.8 373.4h0M1203.6 357.8h0M1196.1 363.4h0M1214.4 368.2h0M1215.8 367.6h0M1206.6 364.1h0M1256.5 358.6h0M1196.4 353.2h0M1214 356.6h0M1192 359.5h0M1192.1 359h0M1188.6 373.6h0M1243.3 356.2h0M1201.8 367.2h0M1254.1 353.2h0M1165.1 364.1h0M1150.7 360.7h0M1211.6 354.2h0M1169.9 360h0M1240.9 356.6h0M1225.1 361.5h0M1213.1 368.1h0M1171 366.6h0M1216.6 362.1h0M1202.2 374.9h0M1185.7 370.8h0M1217.4 364h0M1238.4 364.2h0M1235.3 359.8h0M1242.6 367.4h0M1257.8 363.3h0M1225.3 359h0M1200.9 355.5h0M1231.5 365.5h0M1258.5 359.7h0M1198 357.5h0M1229.1 364h0M1237.8 355.8h0M1210.3 373.6h0M1154.1 354.6h0M1206.9 359.8h0M1255.8 371.7h0M1238.7 364.8h0M1247 375.2h0M1205.2 370.1h0M1240 374.6h0M1237.4 375.5h0M1234.1 375.7h0M1218.8 373h0M1247.4 365.5h0M1254.3 364.5h0M1186.2 373.7h0M1202.5 357.4h0M1254.9 372.6h0M1243.5 369.6h0M1175.5 357.9h0M1196 365.6h0M1225.2 369.3h0M1211.2 358h0M1170.8 367.6h0M1206.3 359.9h0M1230.2 369h0M1173 356.7h0M1245.6 366.5h0M1146.7 370.4h0M1198.6 355.7h0M1190.7 367.5h0M1228.5 357.6h0M1247.5 373.4h0M1210.2 366.7h0M1228 363h0M1230.6 367.2h0M1193.9 353.5h0M1200.7 374.2h0M1197 375.3h0M1239.4 374.9h0M1241.5 357.9h0M1211.8 359.1h0M1198.2 358.2h0M1243.8 366.5h0M1166.8 360.5h0M1226.1 355.8h0M1223.8 365.8h0M1191.3 362.7h0M1194.5 355.3h0M1237.2 356.5h0M1226.9 362.7h0M1248.1 353.5h0M1190.6 357.6h0M1233 368.8h0M1213.9 365.7h0M1251.7 356.9h0M1198.4 364.8h0M1188.8 373.2h0M1180.4 367.4h0M1197 363.7h0M1246.7 369.4h0M1237 354.8h0M1182.3 374.4h0M1197.4 369.1h0M1258 373.2h0M1203.4 362.1h0M1240 367.6h0M1225.3 358.5h0M1213.3 355.5h0M1233.6 366.2h0M1190.7 353.8h0M1195.1 360h0M1220.3 357.2h0M1193.9 355.6h0M1239.6 357.3h0M1229.2 356.7h0M1204.8 365.6h0M1230.6 375.4h0M1231.1 364.2h0M1253 363.8h0M1208 355.5h0M1200.5 356h0M1188.8 374.6h0M1248.5 356.7h0M1225 368h0M1255.3 358.1h0M1180.4 358.3h0M1236.2 371.9h0M1170 358.9h0M1247.3 373.3h0M1170.4 356.4h0M1220.9 357.9h0M1237.5 366.8h0M1239.2 364.5h0M1217.1 363.5h0M1231.3 362.3h0M1208.5 374.8h0M1208.8 357.3h0M1187 354.6h0M1219.8 357.7h0M1236.5 355.6h0M1180.2 365.8h0M1194.1 355.9h0M1242.1 372.9h0M1248.5 372.6h0M1189.4 367.5h0M1240.1 359.6h0M1200.3 364.2h0M1233.7 360.6h0M1199.5 360.5h0M1189.3 356.3h0M1235.7 353.8h0M1203.6 375.6h0M1217.2 354.7h0M1158.8 358.1h0M1235.9 363h0M1247.1 361.8h0M1205.6 373.7h0M1222.6 365.3h0M1219.2 353.2h0M1232.2 354.4h0M1211.1 363.1h0M1226.1 361.8h0M1221 371h0M1250 373.8h0M1187.9 366.2h0M1215.8 368.2h0M1194.1 364.2h0M1198 373.7h0M1211.7 357.9h0M1250.9 375.4h0M1213.6 359.3h0M1197.5 360.7h0M1171.5 364.5h0M1232.9 359h0M1235.9 372.7h0M1228 355.5h0M1168.2 354.1h0M1201.1 372.6h0M1210.2 358.2h0M1209.6 374.7h0M1240.3 357.2h0M1258.5 366.3h0M1194.5 360h0M1204.1 369.8h0M1196.1 353.4h0M1178.5 358.1h0M1184.9 361.5h0M1185.5 354.3h0M1220.1 374.7h0M1180.8 354h0M1231.7 369.3h0M1228.4 363.4h0M1219.7 365.3h0M1231.3 374.4h0M1217.8 364.5h0M1200.6 370h0M1253.6 372.3h0M1236.3 356.7h0M1256.1 372.5h0M1188.7 374.5h0M1224.9 369.9h0M1250.8 355.2h0M1173.8 356.6h0M1234.6 360.1h0M1212.9 364.1h0M1181.9 361.3h0M1237.3 360.3h0M1188.4 358.3h0M1202.4 374.1h0M1209.7 368.2h0M1218.3 356.7h0M1195.5 355.3h0M1198.4 364.6h0M1204.5 367.5h0M1218.5 363.8h0M1189.9 375.9h0M1165 353.5h0M1221.6 375.3h0M1248.5 356.9h0M1205.5 353.3h0M1200.8 363.1h0M1178.8 374.3h0M1232.3 371.8h0M1211.1 354.7h0M1201 362.2h0M1202.1 366.1h0M1208.8 376.5h0M1263.7 392.3h0M1228.2 397.8h0M1201.3 397.9h0M1213.1 396.5h0M1239.8 379.7h0M1184.1 396.8h0M1211.7 391.1h0M1257.7 396.5h0M1225.7 383.1h0M1230.5 396.2h0M1240.3 381.3h0M1206.2 376.4h0M1196.8 389h0M1204.4 395.6h0M1249.9 381.4h0M1224.5 380.1h0M1216.2 377h0M1216.1 395.4h0M1234.1 385.5h0M1223.2 397h0M1210.8 383.7h0M1247.9 382.7h0M1203.6 389.2h0M1233.1 382.6h0M1234.8 395.7h0M1245.1 392.9h0M1243.7 378.5h0M1190.6 381.1h0M1228 397.9h0M1199 388.7h0M1259.9 387.9h0M1229.4 396.9h0M1258 396.2h0M1227.7 395.2h0M1224.5 394.1h0M1239.6 388.1h0M1252.1 381.5h0M1204.7 376.1h0M1225.2 380.8h0M1245.8 394.7h0M1196.8 396.9h0M1224.4 384.7h0M1243.3 386.4h0M1245.8 396.3h0M1246.4 385.9h0M1253.8 394.8h0M1215 386.3h0M1243.6 382h0M1202.7 383.4h0M1223.8 378.5h0M1248.4 394.1h0M1193.7 378.3h0M1247 381.7h0M1226.8 395.1h0M1187 383.6h0M1205.3 380.2h0M1224.9 387.2h0M1209.5 386.8h0M1242.3 385.4h0M1249.8 383.7h0M1251.7 397.2h0M1240.4 394.1h0M1255.9 378.2h0M1217.5 385.9h0M1218.6 393h0M1260.6 392.6h0M1256.7 389h0M1214.5 377.8h0M1212.8 393.9h0M1213.7 379.8h0M1191.2 379.2h0M1235.9 382.7h0M1245.2 382.2h0M1204.5 381.3h0M1235.8 393.9h0M1209 381.7h0M1186.6 385.6h0M1205.4 379.5h0M1189.3 380.6h0M1216 393.3h0M1210 382.7h0M1188.8 381h0M1210 389.2h0M1222.1 383h0M1226.4 391.3h0M1222.7 396.1h0M1194.8 379.6h0M1192.1 379.3h0M1197.6 381.5h0M1241.9 380.9h0M1216 383.9h0M1204.3 396.9h0M1198.5 380.2h0M1213.8 390.3h0M1226.4 382.8h0M1247.9 395.3h0M1210.8 389.2h0M1256.3 391.7h0M1251.5 378.1h0M1226.4 390.4h0M1236.7 382.6h0M1252.6 390.2h0M1211.4 377.2h0M1245.5 379.3h0M1260.8 393.9h0M1259.1 386.2h0M1211.4 377.4h0M1264.2 395.2h0M1195.6 382.7h0M1241.3 397.6h0M1220.2 384.3h0M1209.9 383.3h0M1210.4 388.7h0M1240.7 387.3h0M1239.9 394.6h0M1229.2 385.6h0M1227.1 385.5h0M1236.2 390.9h0M1227.6 396.7h0M1234.5 393.9h0M1231.9 387.6h0M1180.5 385.9h0M1221.1 382.7h0M1259.3 397.4h0M1200.1 380.3h0M1249.3 381.8h0M1202.5 380.7h0M1216.5 396.8h0M1232.3 379.3h0M1260.3 395.7h0M1247 391.3h0M1196.3 386.7h0M1230.2 379h0M1226.6 379.4h0M1244.4 392.2h0M1239.2 397.4h0M1215.1 394.5h0M1219.1 397.5h0M1223.9 385.7h0M1219.7 381.6h0M1218.7 396.2h0M1239 394h0M1224.7 393.1h0M1237 393.2h0M1228.3 390.9h0M1238 393.2h0M1194.8 388.2h0M1225.6 377.3h0M1243.2 385.9h0M1214.5 381.3h0M1232.6 381.3h0M1165 382.1h0M1260.9 390.4h0M1236.1 381.1h0M1251.7 380.7h0M1253.1 378.9h0M1223.4 395.7h0M1211.6 383.8h0M1232.8 390.2h0M1202.5 376.3h0M1188.4 395h0M1206.6 394.2h0M1257 393.3h0M1236.1 391h0M1201.3 397.4h0M1244.6 381.4h0M1199.7 385.8h0M1208.8 383.3h0M1220.7 391.9h0M1256.1 384.5h0M1248.7 392.4h0M1225.2 394.2h0M1231.6 393.9h0M1227.7 386.2h0M1219.4 384h0M1232.4 393.7h0M1219.9 390.1h0M1243.6 387.5h0M1243.2 388.8h0M1229.2 384.9h0M1225.8 387.1h0M1250 389.1h0M1227.5 396.9h0M1183.1 382.8h0M1236.8 384h0M1189.7 388.6h0M1182.2 381h0M1201.5 378.4h0M1168.9 379.5h0M1250.8 397.2h0M1235.4 391.5h0M1238.1 387.3h0M1204.7 392.6h0M1214.1 380.8h0M1236.2 393h0M1240.4 381.6h0M1229.4 394.9h0M1255.1 387.6h0M1240.3 384.1h0M1195.5 387.1h0M1247.2 384.3h0M1209.4 395.9h0M1218 385.6h0M1187.7 376.3h0M1209.6 379.2h0M1261.1 388.7h0M1228.8 395.9h0M1215.5 389.9h0M1208 388.9h0M1245.2 385.2h0M1247.2 392.6h0M1229.1 385.8h0M1203.8 379.8h0M1211.9 382.6h0M1259.5 380.9h0M1222.9 387.6h0M1228.1 379.1h0M1196.1 384h0M1231.9 396.5h0M1235.5 381.3h0M1247.9 397.3h0M1258.3 396.7h0M1196.4 382.9h0M1241 383.6h0M1196.4 377.3h0M1226.8 385.8h0M1198.7 382.1h0M1205.6 394.5h0M1219.7 380.5h0M1211.4 396h0M1195.5 393.1h0M1217.5 386.3h0M1205.2 382.6h0M1219.4 388.3h0M1206.6 385.7h0M1228.5 393.2h0M1212 379.8h0M1196.4 390.1h0M1205.8 384.3h0M1259.2 392.7h0M1183.2 381.2h0M1236.2 396.1h0M1218.5 392h0M1257.8 379.3h0M1222.4 378h0M1217.8 393.4h0M1196.8 380.7h0M1213.4 378.1h0M1245.3 380.3h0M1186.5 387.7h0M1211.3 382.2h0M1227.5 396.8h0M1196.3 376.8h0M1228.8 381.7h0M1222.1 384h0M1229.8 386.2h0M1204.6 385h0M1210.6 378.2h0M1229.1 380.2h0M1231.4 385.6h0M1210.3 380.5h0M1209.8 391h0M1237.9 396.1h0M1236.1 377.9h0M1249.9 384.8h0M1261.1 383.4h0M1208.9 388.4h0M1195.8 381.3h0M1229.3 389.2h0M1209.1 384.6h0M1217.2 381.5h0M1224 396.7h0M1239.1 389.1h0M1227.2 394.4h0M1248 380.1h0M1211.6 380.3h0M1218.7 390.9h0M1243.6 397.5h0M1221.7 377.9h0M1190 378.6h0M1197.9 377.1h0M1238.5 396h0M1241.8 395.9h0M1251.9 395.5h0M1208.9 397.3h0M1252.8 380.8h0M1216.8 379.7h0M1224 388.3h0M1239.8 382h0M1254.5 378.4h0M1196.8 395h0M1236.5 384.6h0M1197.8 381.5h0M1121.7 382h0M1198.4 381.8h0M1260.3 382.7h0M1245.7 376.6h0M1243.4 388.4h0M1238.4 378.6h0M1205.9 393.3h0M1176.3 386.6h0M1224.3 395.6h0M1264.6 416.8h0M1242.3 407.5h0M1243.3 419.2h0M1223.2 407h0M1234.3 417.8h0M1224.3 404h0M1256.2 416.4h0M1231.2 413.9h0M1257.2 405.7h0M1255.3 405.4h0M1255.4 419h0M1230.4 413.5h0M1242.6 404.7h0M1245 400.6h0M1223 412.8h0M1256.5 416.3h0M1232.3 408.5h0M1263.4 400h0M1255.5 420.6h0M1232.6 419.1h0M1235 404.3h0M1258.4 407.4h0M1238.9 413h0M1248.5 411h0M1258.4 412.1h0M1242.4 409.6h0M1211.8 404.5h0M1239.4 417.7h0M1242.3 405.2h0M1262.5 407.4h0M1242.9 412.3h0M1242.3 406.3h0M1224.6 399.9h0M1229.6 410.1h0M1235.5 415.8h0M1265.1 405.9h0M1235.8 404.1h0M1196.3 404.1h0M1227.4 410.2h0M1235.6 418.8h0M1234.5 402.3h0M1254 408.5h0M1234.3 418.6h0M1261.3 406.1h0M1236 401.8h0M1237.3 408.1h0M1228.8 409.7h0M1230.5 401h0M1260.2 399.9h0M1242.3 408h0M1207 400.5h0M1244.6 405h0M1223.5 402.7h0M1252.1 405.9h0M1248.7 410.8h0M1225.1 398.2h0M1228.4 408.8h0M1211.7 399.2h0M1265.4 409.9h0M1254.2 401h0M1219.7 403h0M1236.1 412.8h0M1228.9 399.5h0M1232.7 410.6h0M1231.9 405.5h0M1216.7 416.1h0M1258.2 407h0M1230.3 407.3h0M1251.6 402.5h0M1237.2 399.7h0M1227.7 405.4h0M1252.1 420.2h0M1229.7 410.3h0M1254.2 416.1h0M1247.1 401.2h0M1215.3 405.5h0M1230.7 399.2h0M1245.3 414.9h0M1220.8 417.1h0M1217.5 405h0M1244.5 420.5h0M1255.7 414.6h0M1258.5 415h0M1211.8 411.8h0M1244 401.8h0M1240.4 416.9h0M1245.9 408h0M1233.9 398.9h0M1261.4 417.1h0M1245.9 411.8h0M1257.9 420.5h0M1249.3 415.4h0M1256.5 409.8h0M1255.7 413.9h0M1223.8 406.7h0M1223.3 406.5h0M1240.7 406.9h0M1218.7 400.9h0M1225.2 413.2h0M1226.4 401.3h0M1240.4 413.6h0M1263.6 412h0M1257.4 410.5h0M1246.6 420h0M1220.3 406h0M1231.1 402h0M1233.4 413h0M1240.9 404.1h0M1263.2 403.1h0M1212 405.8h0M1217 398.2h0M1250.4 406.3h0M1258.1 405.7h0M1250.1 406.7h0M1236.4 412.1h0M1247.6 413h0M1242.1 399.3h0M1252.5 419h0M1252.2 409.3h0M1250.8 408.6h0M1251.6 416.3h0M1252.5 408.5h0M1226.3 415.2h0M1226.2 405.6h0M1241.9 406.5h0M1258.1 418.4h0M1248.8 401.3h0M1246.1 401.4h0M1216.7 406.7h0M1248.4 410.2h0M1214.7 411.7h0M1239.5 414.5h0M1252.5 406.5h0M1236.2 408h0M1238.9 398.3h0M1241.6 408.5h0M1249.1 417.7h0M1255.9 404.8h0M1233.1 414.3h0M1242.2 419.1h0M1220.4 401.8h0M1245.5 406.4h0M1240.6 406.8h0M1251.1 404.1h0M1233.5 406.5h0M1237.9 412.9h0M1198.8 399.1h0M1216.5 411.7h0M1253.5 407.6h0M1255.7 402h0M1263.7 415.8h0M1262.8 408.7h0M1251 416.9h0M1246.2 414.4h0M1241 420.9h0M1261.7 407.2h0M1215.7 408.2h0M1217.3 406.4h0M1230.5 404.6h0M1233.4 406.9h0M1234 406.3h0M1260.6 398.8h0M1213.7 403.5h0M1221.7 400.9h0M1264.7 406h0M1224.9 414.1h0M1218.8 417.3h0M1247.4 411.7h0M1252.6 399.1h0M1230.9 399.8h0M1262.6 413.9h0M1230.9 415.3h0M1239.2 418.5h0M1251.7 404.9h0M1243.4 400.9h0M1241.6 408.2h0M1238 417.5h0M1246.9 408.5h0M1246.6 419.4h0M1223.2 401.2h0M1239.2 413.8h0M1243.3 414h0M1266 418.6h0M1244.9 409.5h0M1255.2 419.1h0M1239.2 405.9h0M1254 417.1h0M1232.4 405.3h0M1222.8 401.4h0M1227.4 402.2h0M1246.7 406.5h0M1220.6 410.4h0M1248.8 408.9h0M1248.6 420.5h0M1263.8 400.2h0M1217.4 400.8h0M1244.4 411h0M1256.9 404.9h0M1252.5 416.7h0M1258.4 420h0M1263.8 414.4h0M1245.6 411.6h0M1213.1 407.5h0M1218.3 404.1h0M1213.1 398.1h0M1212.8 402.8h0M1234.9 399.1h0M1236.2 419.3h0M1262.9 407.1h0M1247.6 402.1h0M1253.5 415h0M1253.1 408.8h0M1248.2 416h0M1252.6 420.2h0M1236 413.2h0M1255.1 417.5h0M1224.7 406.5h0M1244.4 410.4h0M1260.8 407.5h0M1255.2 405.4h0M1247.2 407.7h0M1217.8 398.7h0M1224.4 402h0M1265.6 409.6h0M1236.2 417.6h0M1243.5 415.2h0M1248.6 398.1h0M1240.9 400.5h0M1250.7 408.2h0M1262 417.3h0M1254.5 403.2h0M1255.1 419.3h0M1230.7 399.4h0M1260.4 424.1h0M1285.5 423.1h0M1241.7 428.3h0M1270.6 436.8h0M1265.8 434.2h0M1240.5 422.4h0M1258.6 433.8h0M1243.1 421.1h0M1261.3 436.8h0M1263.3 421.3h0M1254.1 426.1h0M1260 436.7h0M1259.1 421.8h0M1277.4 421.6h0M1250.3 438.1h0M1250.9 424.5h0M1287.3 421.1h0M1260.7 435.3h0M1271 427.4h0M1277.2 431.5h0M1238.7 421.2h0M1257.4 439.7h0M1254.7 437.5h0M1271.7 436.6h0M1263.5 429h0M1269.6 430.8h0M1247.9 424.2h0M1260.8 422.6h0M1284.7 421.3h0M1229.5 424.5h0M1299.9 434.5h0M1263.2 430h0M1232.7 428.1h0M1260 436.7h0M1235 428.9h0M1276.2 425.9h0M1236.5 429.6h0M1275.4 422.1h0M1265.8 432.8h0M1267.9 423.1h0M1247 422.3h0M1264.9 422h0M1289.3 426.9h0M1256.8 437.6h0M1250.3 423h0M1283.1 431.9h0M1281.2 433.4h0M1275.1 425.8h0M1253.3 422.5h0M1277.1 432.2h0M1251.3 424.7h0M1258.9 432.5h0M1249.7 428.2h0M1254 425.7h0M1271.6 434h0M1271 438.2h0M1249.1 431.7h0M1242.2 423.8h0M1281.5 427.1h0M1241.9 424.3h0M1267.1 428.6h0M1251.2 427.5h0M1261.6 427.5h0M1253.9 422.1h0M1279.7 429.1h0M1261.2 425.2h0M1248.4 428.6h0M1245.4 424.1h0M1269.8 425.5h0M1271.8 431.1h0M1258.7 437.9h0M1268.9 428h0M1225.7 425.1h0M1248.9 429h0M1283 425.5h0M1241.2 424.2h0M1232.8 421.8h0M1259.6 422.5h0M1257.5 426.9h0M1272.6 424.8h0M1251.3 424.1h0M1218.9 422h0M1255.5 427.5h0M1262 432.9h0M1253.9 435h0M1273.3 432.2h0M1262.8 430.6h0M1259.6 422.2h0M1255.4 428.9h0M1254.1 430.7h0M1279 421.2h0M1264.4 421.5h0M1267.9 438.6h0M1273.6 430.9h0M1232.9 423.8h0M1253.1 432h0M1250.3 424h0M1259.9 421.9h0M1264.3 438.5h0M1263.4 433.9h0M1268.8 437.3h0M1261.6 439.8h0M1257.8 433.5h0M1263.4 433.4h0M1259.8 427.8h0M1265.7 429.6h0M1248.1 421.2h0M1274.4 425h0M1279.7 429h0M1266.1 425.2h0M1243.7 429.9h0M1267.5 429h0M1257.8 434.1h0M1278.2 422.7h0M1252.3 426.4h0M1251.5 437.4h0M1263 430h0M1258.9 423.2h0M1247.2 433.6h0M1263.4 432.8h0M1266.6 436.5h0M1259.4 423.5h0M1266.5 424.1h0M1264.5 422.3h0M1265.8 424h0M1263.3 429.7h0M1262 439.4h0M1282.7 430.3h0M1278.4 427.6h0M1248.2 428h0M1272.1 430h0M1259 441.5h0M1248.8 443h0M1269.4 442h0M1275.1 440.3h0M1267.2 440.1h0M1274 442h0M1260.4 442h0M1263.7 441.4h0M1264.8 441.9h0M1262.5 441.6h0M1268.1 443.3h0M1317.2 237.4h0M1315.5 230.9h0M1280.8 250h0M1304.2 256.6h0M1315.1 253.7h0M1311.2 277.3h0M1285.9 269.8h0M1306.9 268.4h0M1282.9 273.5h0M1287.8 270.1h0M1293 286.3h0M1285.1 271.5h0M1304.8 284.1h0M1303 284.8h0M1320 280.7h0M1303.8 307.6h0M1295.9 312.2h0M1291 303.9h0M1290.5 297.9h0M1312.7 303h0M1293.7 306.8h0M1300.2 307.4h0M1275 313.6h0M1304.8 312.3h0M1269.9 310.2h0M1312.7 299.3h0M1305.8 304.2h0M1279 312.4h0M1285.2 309.6h0M1303.7 295.9h0M1294.9 309.4h0M1302.3 297.2h0M1291.4 310.7h0M1290.3 296.9h0M1301.2 312.4h0M1282.6 329.1h0M1284.5 334.9h0M1287.7 343.9h0M1293.2 333.8h0M1285.9 324.5h0M1287.6 335.5h0M1280.9 336.5h0M1289.6 345h0M1294.8 332.2h0M1296.9 324.1h0M1290.7 340h0M1291 317.2h0M1294.9 319.8h0M1290.4 335.7h0M1285.5 329.2h0M1301.8 330.8h0M1303.6 323h0M1290.8 331h0M1285.5 316.6h0M1300.1 333.6h0M1287.5 343.3h0M1288.7 322.6h0M1287.8 326.8h0M1288.6 341.4h0M1286.2 335.2h0M1292.4 338.2h0M1282.7 327.6h0M1299.7 316.7h0M1295 346.5h0M1297.4 329.2h0M1284.2 345.9h0M1280.6 345.1h0M1284.4 343.3h0M1292 333.6h0M1297.7 342.9h0M1292.6 341.8h0M1299.2 320.1h0M1280 340.6h0M1295.3 330.6h0M1287 339.3h0M1292.4 339.6h0M1287.7 322.4h0M1300.7 325.3h0M1295.2 334.1h0M1295.2 333.4h0M1281.9 338.5h0M1283.4 340.2h0M1280.4 341.4h0M1283.1 332.3h0M1283.6 345.9h0M1295.9 332.2h0M1280.1 371.7h0M1282.6 363h0M1288 371.8h0M1280.5 362.6h0M1279.8 360.5h0M1282.5 348.4h0M1288.9 373.8h0M1279.2 370.5h0M1294.2 369.9h0M1278.9 361.3h0M1284.1 355h0M1294.9 355.2h0M1288.8 347.3h0M1282.4 361.5h0M1280.4 373.8h0M1288.5 355.2h0M1290.7 361.6h0M1293.4 359.2h0M1285.1 377.5h0M1284.2 376.9h0M1291.9 352.8h0M1276.7 378.9h0M1281 348.6h0M1281.4 378.5h0M1278 368.4h0M1292.8 358.1h0M1283.7 373.3h0M1287 357.1h0M1281.3 373.6h0M1282.4 355.7h0M1289.8 372.2h0M1284.1 363.5h0M1280.7 360.9h0M1290.7 350.8h0M1286 352.1h0M1297.1 368.1h0M1281 380.3h0M1289.2 364.4h0M1287.6 368.8h0M1280.6 359.2h0M1280.7 348h0M1283.6 367.5h0M1299.1 361.1h0M1295 348h0M1285 357.9h0M1284.8 377.2h0M1280.9 354.1h0M1288.5 367.7h0M1285.1 375.2h0M1280.8 370.4h0M1287.4 348.8h0M1288.3 360.2h0M1288.7 363.6h0M1298.3 377.2h0M1290.6 365.6h0M1283.3 357.1h0M1283.5 357.8h0M1282.9 359.8h0M1288 357.9h0M1277.1 414.7h0M1274.8 398.7h0M1277.7 395.3h0M1289.4 389h0M1286.1 405.1h0M1274.7 410.7h0M1282.8 387.5h0M1294.9 406.7h0M1276.4 401h0M1279.7 410.3h0M1285.4 412.9h0M1293.7 394.4h0M1283.5 390.5h0M1282.3 387.7h0M1290.5 413.7h0M1285.8 388.7h0M1285.9 389.8h0M1279.3 397.9h0M1283.3 387.7h0M1284.3 396h0M1276 393.6h0M1290.9 410.9h0M1277.3 412h0M1276.7 382.8h0M1275.8 398.5h0M1291.3 389.8h0M1294.1 392.7h0M1282 382.2h0M1294.1 399.9h0M1291.4 389.5h0M1280.1 382.3h0M1279 386.1h0M1282.1 409.5h0M1275.9 410.5h0M1282.6 393h0M1282.7 410.9h0M1293.4 409.6h0M1286.7 400.9h0M1287.6 406h0M1287.8 409h0M1282.5 400.5h0M1294.1 383.9h0M1278.6 385.3h0M1280.9 397.9h0M1276.2 402.4h0M1280.1 401.5h0M1289.1 386.3h0M1291.5 411.5h0M1283.3 401.5h0M1280.9 409.6h0M1287.4 410.4h0M1277.8 387.4h0M1292.5 401h0M1292.9 386.4h0M1285.4 405h0M1284.5 383.9h0M1278.5 401.2h0M1285.6 413.3h0M1279.9 389.1h0M1296.2 395.6h0M1283.6 412.8h0M1281.6 404.7h0M1280.7 394h0M1278.6 389.4h0M1277.8 391.7h0M1275.2 403.9h0M1286.5 401.2h0M1277.9 407h0M1276.7 400.7h0M1280.3 402.8h0M1287 394.8h0M1290.1 382.1h0M1288.6 414.8h0M1280.1 413.2h0M1286.5 394.5h0M1278 400.6h0M1290.1 392.3h0M1280.2 429.4h0M1282 426h0M1277.3 430.3h0M1281 420.9h0M1283.8 428.5h0M1280.3 429.1h0M1279 420.5h0M1284 428.5h0M1286.5 419.8h0M1291 417.7h0M1280.1 424.4h0M1277.4 427.9h0M1276.3 425.1h0M1278 430.4h0M1282.9 425.1h0M1273.9 421h0M1268.7 424.1h0M1271.6 431.2h0M1272.3 428.5h0M1284.7 415.2h0M1281.8 419.1h0M1283.8 421.7h0M1284 428.6h0M1278.2 428.6h0M1276.7 431.1h0M1282.8 418.2h0M1274.8 429.8h0M1288.6 427.2h0M1279.9 429h0M1286.5 429.2h0M1270.9 424.6h0M1273.1 439.8h0M1278.8 438h0M1275.4 433.2h0M1271.1 434.6h0M1281.7 434.6h0M1281.3 435.4h0M1279.5 438h0M1272.6 435.7h0M1280.2 436.4h0M1282.5 433.3h0M1276.2 433.1h0M1285.3 435.3h0M1279.9 439.3h0M1130 28h0M1101.8 61.8h0M1130.5 75h0M1175.8 40h0M1183 47h0M1174.2 81.2h0M1144.2 110h0M1149.2 106h0M1160 117.5h0M1160.8 120h0M1178.2 120h0M1334.7 120.3h0M1387.5 175.8h0M1385.6 189.7h0M1312.5 205.6h0M1339.7 210h0M1388.3 209.4h0M1326.4 220h0M1343 233h0M1330.6 239.4h0M1337 240h0M1370.8 235h0M1386.7 238.6h0M1389.7 241.9h0M1348 249.2h0M1314.7 253.3h0M1381.4 256.1h0M1312.8 269.7h0M1323.6 273.3h0M1314.7 276.1h0M1320.8 285h0M1340.3 281.7h0M1351.4 273.3h0M1360.6 283.9h0M1400 272.5h0M1308.3 294.2h0M1337.5 306.7h0M1362.5 301.1h0M1368 306.7h0M1384.7 311.4h0M1319.4 319.2h0M1323.6 323.3h0M1355.6 327h0M1380.6 328.9h0M1144.1 110h0M1159.2 119.5h0M1178.3 119.5h0M1146.5 126.7h0M1149.3 128.7h0M1148.1 142.1h0M1181 132.6h0M1187.8 136.2h0M1192.1 134.2h0M1204.8 128.3h0M1216 136.2h0M1125.9 152.5h0M1133.8 158h0M1139.4 166.3h0M1147.3 160h0M1153.3 147.3h0M1164 144.1h0M1171.1 140.6h0M1175.1 142.5h0M1174.3 152.1h0M1181 155.2h0M1187 148.1h0M1193.7 145.3h0M1197.7 152.1h0M1202.1 145.3h0M1207.6 145.3h0M1206.8 156h0M1212.8 159.2h0M1117.5 177.1h0M1126.7 167.9h0M1135.4 162.4h0M1157.2 169.1h0M1165.2 164h0M1165.2 171.1h0M1181 164h0M1179 167.9h0M1187.8 167.1h0M1194.9 173.1h0M1202.9 171.9h0M1212.8 166.3h0M1217.9 177.9h0M1135.4 184.2h0M1145.3 183h0M1155.2 189h0M1167.1 179h0M1173.1 187.8h0M1181 179.8h0M1191 179h0M1194.9 186.2h0M1200.9 187.8h0M1210.8 183.8h0M1220.7 187.8h0M1227.9 184.2h0M1116.3 196.9h0M1125.5 191h0M1135.4 192.1h0M1126.7 202.1h0M1160 158h0M1186 160h0M1198 162h0M1170 193h0M1185 195h0M1208 196h0M1150 200h0M1162 185h0" stroke="#a7a7a7" stroke-width="5.40" stroke-linecap="round" fill="none"/>
<path d="M1660 190.8h0M1638.9 193.7h0M1634.7 191.2h0M1717.9 194.9h0M1652.1 208.3h0M1662.1 195.6h0M1605.5 198.2h0M1664.6 204.3h0M1624.8 195.8h0M1666.8 207.7h0M1688.1 202.4h0M1648.2 207.6h0M1693.5 209h0M1695.2 206.3h0M1687.9 208.3h0M1663.7 196.6h0M1748 200.4h0M1689.4 202h0M1642.4 209.5h0M1640.5 196.7h0M1711.5 200.9h0M1708.9 207.5h0M1684.7 204.5h0M1620 204.4h0M1693 205.9h0M1656 209.7h0M1693.7 208.3h0M1642 209.6h0M1699.6 209h0M1655.3 199.2h0M1678 208.2h0M1759.8 203.5h0M1695.4 205.5h0M1644 206.1h0M1717.2 196.9h0M1666.2 208.4h0M1641.8 208.3h0M1644.1 198.3h0M1652.8 206.1h0M1608.4 201.7h0M1653 207.5h0M1652.1 196.8h0M1614.5 195.2h0M1649.8 208.7h0M1670.6 197h0M1667.3 205.5h0M1684.9 203.8h0M1679.8 208.8h0M1716.1 205.5h0M1671.7 202.2h0M1661.5 196.8h0M1631 204.2h0M1670.2 211.3h0M1714 223.6h0M1759.3 225.8h0M1664.3 225.6h0M1688.5 224.4h0M1665.9 229.1h0M1721.9 210.9h0M1602.5 227.1h0M1694.2 224.8h0M1664.7 217.7h0M1624.1 223.1h0M1659.5 214.8h0M1666.1 215.6h0M1649.2 225.3h0M1712.2 222.3h0M1727.2 223.1h0M1706.9 227.9h0M1684.7 219.2h0M1688.3 226h0M1685.6 223.7h0M1646.3 222.8h0M1710.9 223.9h0M1697.9 217.4h0M1683.3 229.7h0M1640.4 210.9h0M1708.6 216h0M1663.9 229.5h0M1665.2 225.8h0M1649.5 221.6h0M1614.8 221.6h0M1712.4 220.2h0M1609.1 215.3h0M1696.4 223.1h0M1741.6 229.5h0M1684.9 229.8h0M1636 227h0M1653.8 229.8h0M1630.6 225.6h0M1688 214.2h0M1670.2 229.3h0M1575 218.9h0M1721.3 214.7h0M1693.3 228.5h0M1671.5 220.6h0M1667.2 219.2h0M1739.7 210.8h0M1656 214.8h0M1708.4 221.9h0M1594.5 214.2h0M1608.9 215.4h0M1647.1 210.3h0M1637.9 228.6h0M1632.3 225.5h0M1631.6 210.9h0M1655.1 211.9h0M1732.5 218.4h0M1687 224.7h0M1692.5 210h0M1740 225.1h0M1731.6 222.1h0M1736.2 220.6h0M1651.2 220h0M1609.1 224.5h0M1666 221.6h0M1693.9 210.5h0M1625.5 224.3h0M1667 229.1h0M1665.1 227.6h0M1676.3 219.7h0M1719.3 215h0M1704.1 217.6h0M1672.6 220.9h0M1678.4 217.9h0M1640.4 212.1h0M1681.3 227.5h0M1717.8 212.1h0M1645.1 217.8h0M1649.8 228.6h0M1689.6 213.8h0M1655.6 214h0M1670.8 221.9h0M1632 218.8h0M1658.9 225.4h0M1700.3 224.3h0M1668.8 214.9h0M1653.3 224.5h0M1651.6 218.4h0M1636.8 215.2h0M1665 216.2h0M1725.9 210.5h0M1686.5 219.1h0M1604.8 220.4h0M1620.5 222.7h0M1726.8 221.3h0M1632.4 227.1h0M1648.4 219.1h0M1650.4 216.3h0M1725.2 211.8h0M1634.5 229.1h0M1717.5 210.1h0M1673 215.9h0M1690.7 224.4h0M1697.7 211.4h0M1644 224.2h0M1642.3 217.5h0M1684.7 226.8h0M1680.9 229.5h0M1635.8 220.5h0M1734.7 228.6h0M1730.5 229.2h0M1642 228.2h0M1714.7 220.8h0M1610.1 213.2h0M1707.8 218.5h0M1652 225.2h0M1691.9 221.4h0M1716.8 222h0M1652.9 215.7h0M1722.3 228.2h0M1675 223.9h0M1663 227.9h0M1639.2 213.4h0M1668.9 227.9h0M1701.9 226.1h0M1650.9 220.4h0M1659.3 229.2h0M1620.8 227h0M1640.1 211.3h0M1609.8 228.4h0M1671.9 223.7h0M1613.1 219.5h0M1636.5 228.6h0M1692.7 226.7h0M1599.4 218.2h0M1645.3 223h0M1667.7 213.7h0M1695.8 218.7h0M1736.3 220.8h0M1663.6 217.3h0M1661.1 224.6h0M1679.6 225h0M1700.8 224.9h0M1741.4 225.5h0M1692.9 221.4h0M1673.1 228.1h0M1663.8 228.8h0M1679.2 225.1h0M1654.1 219.9h0M1627 226h0M1708.2 245.3h0M1723.7 243.3h0M1714.9 237.8h0M1715.7 242.7h0M1636.4 244.4h0M1669.4 234.1h0M1733.4 233.5h0M1670.1 235.3h0M1735.2 240.8h0M1762 247.6h0M1636 247.4h0M1679.8 246.6h0M1685 234.4h0M1683.2 243h0M1687.4 244.2h0M1756 239h0M1663.2 244.9h0M1659.5 235.5h0M1697.8 247.8h0M1708.2 240.8h0M1690.7 245.5h0M1795.6 231.3h0M1659.4 233.3h0M1734.5 246.5h0M1630.2 232.5h0M1667.8 237.5h0M1605.9 238.3h0M1653.1 244.5h0M1661.6 237.6h0M1672.2 245.5h0M1698.5 240.6h0M1644.9 246.1h0M1659.5 245.9h0M1697.9 240.3h0M1666.9 237.8h0M1713.4 245.7h0M1672 244.3h0M1688.8 243h0M1713.2 242.5h0M1701 234.8h0M1679.7 245.2h0M1705.2 244h0M1677.9 234.8h0M1695.9 247.6h0M1697 239.9h0M1678.4 237h0M1689.9 244h0M1704.6 241.7h0M1646.7 239.3h0M1623.5 243.7h0M1687.9 247.5h0M1646.1 240.2h0M1679.3 246.5h0M1700 236.1h0M1739.8 241.6h0M1685.7 241h0M1638.1 245.8h0M1612.4 245.2h0M1634.2 242h0M1697.2 247.3h0M1684.3 237.7h0M1689.5 241.3h0M1699 243.7h0M1662.4 242.1h0M1669 245.7h0M1684.6 240.7h0M1712.7 247.4h0M1695 235.7h0M1768 245.1h0M1709.6 246h0M1643 244.8h0M1704.6 247.2h0M1680.3 235.9h0M1717 246.4h0M1690.1 234.2h0M1710.7 244.2h0M1685.1 235.3h0M1689.1 236.8h0M1666.9 245.1h0M1660 237.5h0M1658 247.8h0M1670.3 243.2h0M1720.9 240.5h0M1682.5 235.1h0M1696.7 231.4h0M1676.3 245.3h0M1694.5 233.5h0M1700.5 246.3h0M1687.7 235.5h0M1666 236.5h0M1680.5 247.7h0M1708.9 234.1h0M1701.1 237.5h0M1695.9 230.5h0M1723.8 245.6h0M1661.5 242.6h0M1707.9 233.5h0M1699.6 243.6h0M1722.2 243.3h0M1703.1 242.7h0M1695.5 246.1h0M1658.9 239.7h0M1704 238.2h0M1670.6 247.1h0M1747 242.9h0M1633.3 242.1h0M1649.3 235.5h0M1642.6 236.6h0M1660.4 244.9h0M1675.2 245.9h0M1670.3 240.9h0M1717.9 233.8h0M1710.8 240.1h0M1694.1 243h0M1673.5 240.7h0M1723.7 246h0M1699.6 237.2h0M1662.8 237h0M1694.9 244.4h0M1724.7 243.3h0M1698.7 246.3h0M1654.9 241.8h0M1653.3 237.3h0M1703.5 242.1h0M1628.1 246.1h0M1658.8 233.4h0M1698.5 247.6h0M1653.2 244.1h0M1698.7 241.2h0M1729.4 234.8h0M1658.8 234.8h0M1735 243h0M1685.6 245.7h0M1668 237.6h0M1640.9 235.7h0M1634.6 236h0M1690.3 236.1h0M1726.2 234.8h0M1643.2 245.2h0M1642.2 238.2h0M1713.3 234h0M1633.3 246.2h0M1728.6 233.3h0M1658.4 243.5h0M1680.8 234.7h0M1684.3 234h0M1650.9 231.7h0M1675.7 242.3h0M1694.8 247.4h0M1670.2 240.6h0M1696.7 247.6h0M1648.6 246.6h0M1669.6 238.6h0M1634.6 234h0M1657 242.9h0M1647.7 238.2h0M1695.5 247.2h0M1713.4 232.7h0M1691.3 245.6h0M1667.2 237.3h0M1646.3 244.4h0M1662.6 239.6h0M1653.6 244.3h0M1647.2 234.1h0M1699.4 247.7h0M1698 232.6h0M1668.3 235.5h0M1622.8 231.9h0M1640 247.1h0M1669.4 246.4h0M1685.8 231.3h0M1714.6 233.1h0M1664.4 246.5h0M1637.2 238h0M1683.2 238.9h0M1686.6 247h0M1705.8 241h0M1673.7 235.7h0M1690.1 241.9h0M1712 241.1h0M1679.8 244.1h0M1685.9 235.3h0M1669.9 245.7h0M1629.9 245.7h0M1683.6 230.5h0M1693 244.3h0M1679.4 231.3h0M1656.3 238.1h0M1679.2 247h0M1702.7 243.7h0M1714.5 239.1h0M1714.8 244.2h0M1699.3 237.8h0M1696.1 231.5h0M1695.6 242.6h0M1664.4 235.9h0M1732.1 246.5h0M1705 242h0M1674.1 233.9h0M1663.6 232.9h0M1751.8 236.1h0M1684.9 235.9h0M1721.2 231.2h0M1740.7 238.5h0M1716.8 237.1h0M1653.2 231h0M1693.9 247.8h0M1710.3 242.5h0M1636.5 230.8h0M1675.3 231.2h0M1663.4 233.1h0M1717.8 237.3h0M1649.6 243.9h0M1722.2 235.8h0M1645.8 237.1h0M1719.6 239h0M1642.8 241h0M1678.2 242.7h0M1696.5 234.9h0M1667.6 234.8h0M1670.3 236.9h0M1712.8 242.8h0M1683.4 241.8h0M1657.7 232h0M1732 237.5h0M1676.9 235h0M1622.8 237.7h0M1629.1 241.1h0M1700.3 243.9h0M1724.6 235.4h0M1671.7 246.1h0M1678.2 246.1h0M1721 241.3h0M1670.1 242.9h0M1677.5 244.9h0M1639.6 270.3h0M1713.6 258.2h0M1627.9 249.7h0M1732.2 269.2h0M1718.1 250.1h0M1717.1 249.8h0M1684.7 263.1h0M1649.1 253.6h0M1650.7 256.6h0M1653.8 260.2h0M1642.7 263.4h0M1756.3 253.3h0M1668 258.2h0M1680 252.2h0M1615.4 253.1h0M1678.8 270.3h0M1669.6 266.7h0M1673 260.5h0M1700.9 269.8h0M1663.5 253h0M1622.6 249.6h0M1679.2 266.1h0M1676.9 257.3h0M1634.1 256.3h0M1644.9 252.4h0M1663.6 254.1h0M1682.3 265.4h0M1638.9 262.2h0M1685.2 262.4h0M1695.5 264.2h0M1596 264.5h0M1658.2 271h0M1692.6 257.4h0M1682.7 252.5h0M1663.3 270.1h0M1712.4 254.5h0M1640 266.7h0M1699.6 261.6h0M1637.3 270.5h0M1707.4 261.2h0M1696.7 265.4h0M1633.3 263.4h0M1694.4 266.3h0M1662.3 251.4h0M1711.5 256.9h0M1672.5 256h0M1640.5 256.1h0M1687 249.3h0M1627.6 260.2h0M1720 264.3h0M1694.2 253.6h0M1689.6 261.5h0M1685.9 255.5h0M1671.5 251.8h0M1673.1 260.6h0M1661.5 254.4h0M1673.2 251.8h0M1673.4 250.6h0M1653 253.2h0M1678.8 258.3h0M1664.8 263.8h0M1695.6 259.5h0M1692.1 269.6h0M1681 257.3h0M1693.9 251h0M1720 259.2h0M1697.3 269.6h0M1658.9 252.3h0M1710.5 258.9h0M1683.6 266.9h0M1689.6 253.5h0M1659.6 259.2h0M1681.9 251.2h0M1662.8 258.7h0M1716.8 251.5h0M1739.9 266h0M1670.4 257.4h0M1712.1 264.5h0M1697.5 267.6h0M1699.7 252.9h0M1691.5 252.2h0M1679 254.6h0M1696.3 266.5h0M1673.7 270.6h0M1707.7 253.6h0M1696.7 262.1h0M1653.8 257.8h0M1658.3 261.6h0M1697.7 267.2h0M1687.8 251.8h0M1652.1 255.5h0M1686.5 248.9h0M1653.6 248.9h0M1670.2 258.8h0M1670.1 251h0M1648.8 255.8h0M1672.2 266.1h0M1715.3 258.4h0M1712.4 266.1h0M1701.4 257.7h0M1657.9 269.5h0M1682.8 264h0M1704 253.4h0M1650.3 263.9h0M1724.7 250.1h0M1712.9 250h0M1695 257.2h0M1696.8 264h0M1658.2 269.2h0M1672.8 257h0M1681.1 261.6h0M1694.4 258h0M1685.2 257.8h0M1705.4 256.2h0M1696.4 257.2h0M1656.9 258.8h0M1692.1 263.6h0M1715.4 270.9h0M1667.9 263h0M1662.1 252.1h0M1652.4 268h0M1659.6 258.4h0M1673.7 270.9h0M1680.5 267.6h0M1736.8 255.7h0M1673.6 268.3h0M1674.7 264h0M1694.6 250.2h0M1680.8 260.5h0M1701.6 269.3h0M1716.5 248.6h0M1715.2 263h0M1709.9 252.6h0M1707 269.2h0M1683.9 251.9h0M1679.3 252.4h0M1716.3 256.6h0M1668.5 269.6h0M1671 268.1h0M1660.7 269.2h0M1686.4 260.7h0M1722.6 269.2h0M1670.9 268.5h0M1716.2 253.7h0M1660 254.7h0M1676.5 249.9h0M1667.7 268.2h0M1689.9 267h0M1679.2 270.9h0M1695.2 266.1h0M1718 267.5h0M1750.7 270.2h0M1647.7 250.6h0M1712.7 266.7h0M1692.1 256.1h0M1623.1 259.5h0M1705.1 259.6h0M1699.3 265.2h0M1657.7 263.2h0M1696 257h0M1660.5 253.3h0M1723.1 250.4h0M1685.6 259h0M1671.2 265h0M1703.5 265.2h0M1710.9 268.2h0M1650.6 270.6h0M1642.8 267.6h0M1628.3 266.2h0M1727.2 265.6h0M1701 251.7h0M1585.6 268.2h0M1715.3 252.5h0M1652.7 254.6h0M1675.2 259.2h0M1696.2 270.8h0M1664.8 248.5h0M1693 270.2h0M1682.5 266.7h0M1743.9 269.6h0M1725.6 248.8h0M1645.1 252.2h0M1685.3 253.3h0M1705.3 252.5h0M1697 252.8h0M1682.3 261.3h0M1705.9 267.8h0M1702.5 261h0M1644.1 252.3h0M1725.5 252.9h0M1677.5 251.9h0M1646.8 270.6h0M1646.2 261h0M1691.4 263.7h0M1677.1 269.9h0M1675.1 258h0M1696.4 265.4h0M1661 266.3h0M1682.9 267h0M1668.8 270.1h0M1732.6 250.4h0M1652.8 264.7h0M1659.3 261.9h0M1676.8 267.3h0M1685.1 250.7h0M1682.6 270.6h0M1679.3 251.4h0M1712.7 262.4h0M1647.4 260.8h0M1663.3 257.8h0M1695.4 253.3h0M1665.7 248.7h0M1727.6 259.9h0M1710.5 251h0M1683.9 257.5h0M1672.1 261.6h0M1655.7 250.1h0M1674.8 264.9h0M1707 269.5h0M1680.2 253.8h0M1642 263.4h0M1695.3 249.5h0M1692.8 258.6h0M1727.9 251.5h0M1684.9 269.2h0M1658.7 250.3h0M1644.9 264h0M1667.4 266h0M1697.5 248.2h0M1696.6 266.6h0M1709.6 250.4h0M1656.3 269.9h0M1667.9 260h0M1657.4 255.6h0M1670.3 258.5h0M1673.5 264.7h0M1679.4 270.6h0M1692.1 260.5h0M1724.3 252.9h0M1714 251.2h0M1688.9 261.2h0M1732.4 251.1h0M1698.9 262.2h0M1661.9 265.7h0M1696.5 259.1h0M1659.5 249.2h0M1691.5 265.2h0M1677.8 249.6h0M1719.2 249.1h0M1674.7 269.4h0M1686 262h0M1684.6 257.9h0M1680.2 270.7h0M1674.5 261.5h0M1691.2 264.3h0M1668.4 258.6h0M1659.9 257h0M1715.7 266h0M1690 254.5h0M1677.3 267.7h0M1629.1 258.1h0M1659.2 270.3h0M1701.8 263.2h0M1651.6 254h0M1678.5 260.8h0M1634.5 262.6h0M1662.4 255.3h0M1650.7 259.9h0M1569.5 260h0M1674.2 261.8h0M1663.3 266.1h0M1691.4 266.6h0M1675.4 268.8h0M1707.5 265.8h0M1693 250h0M1666.5 261.2h0M1733.7 260.4h0M1627.7 261.5h0M1685.5 264.5h0M1718.3 266.4h0M1693 254.8h0M1655.5 249.9h0M1661.5 260.4h0M1677.6 263.1h0M1723.5 269h0M1652.9 268.8h0M1723.9 270.3h0M1727.8 261h0M1691.5 261.8h0M1658.4 267h0M1695.4 251.2h0M1658.4 252.7h0M1659.6 265.1h0M1651.2 261.4h0M1737.5 250.5h0M1709.5 256.5h0M1659.8 255.7h0M1688.2 248.1h0M1700.1 262.3h0M1715.9 259.8h0M1689.4 269.6h0M1665.2 251h0M1689.6 264.4h0M1732.1 262.9h0M1666.1 257.6h0M1629.1 267h0M1693.5 266.4h0M1644.2 255.7h0M1640.9 260.4h0M1661 269.2h0M1703.9 258.3h0M1716.6 263.9h0M1661.6 270.7h0M1673.7 249.5h0M1693.3 258.3h0M1679.1 262.3h0M1685.7 267.1h0M1709.2 265.1h0M1680.1 260.9h0M1674.5 257.1h0M1662.3 252.9h0M1710.9 269.3h0M1656 265.4h0M1705.5 257.2h0M1678.8 270.3h0M1678.6 264.2h0M1695.6 249.7h0M1702.1 257.5h0M1703.1 252.7h0M1653.2 256.5h0M1677.7 248.8h0M1658.9 249.8h0M1699.5 249.8h0M1664.1 268.1h0M1651.4 258.2h0M1706 250.1h0M1648.4 258.7h0M1715.8 260.7h0M1714.4 257h0M1658.3 250.6h0M1672.5 251.7h0M1711.9 250.5h0M1688.3 256.5h0M1686.2 269.4h0M1692.7 266.4h0M1649.4 261.2h0M1691.2 259.8h0M1698 258.2h0M1718.1 252.7h0M1648.4 269.9h0M1680.9 254.3h0M1653.7 256.4h0M1678.1 254.5h0M1655.2 255.6h0M1693.7 266.8h0M1664.2 267.9h0M1683.3 258.9h0M1694.7 266.5h0M1676.1 255h0M1727.3 259.9h0M1648.7 260.8h0M1720.1 252.9h0M1653.2 271h0M1690.4 268.3h0M1662.7 264.3h0M1686.7 264.7h0M1697.7 267.4h0M1650.8 248.4h0M1634.5 268.3h0M1693.2 250h0M1711 262h0M1715.6 269.1h0M1651.7 260.4h0M1654.7 266.6h0M1659.9 253.5h0M1643.2 260h0M1694.3 260.3h0M1663.9 256.9h0M1673 266h0M1672.5 265.8h0M1648.5 256.1h0M1659.7 258.2h0M1654.5 251.7h0M1698.4 271h0M1651.2 257.9h0M1672 264.2h0M1669.1 256.5h0M1718.1 259.2h0M1702.1 258.1h0M1672.1 254.8h0M1717.8 266.1h0M1674.5 259.3h0M1716.1 248.7h0M1694.9 253.1h0M1634.2 259.7h0M1702.5 254.7h0M1656.1 266.1h0M1659 257.7h0M1668.1 256.9h0M1670.5 259.6h0M1691.1 249.9h0M1728.2 283h0M1639 289.1h0M1622.3 279.5h0M1688.5 286.8h0M1639.8 281.7h0M1703.1 279.3h0M1715.5 291.6h0M1635.8 280.8h0M1704.6 291.6h0M1705.6 289.6h0M1715.9 288.6h0M1653 276.2h0M1746.6 283.8h0M1687.9 291.9h0M1667.3 292.9h0M1680.6 281.5h0M1711.3 272.8h0M1656.5 272.5h0M1693.1 276.4h0M1710 286.2h0M1699.2 274.9h0M1702.1 282.1h0M1702.5 275h0M1705.2 272.8h0M1663.1 277.9h0M1711.2 289.8h0M1643.5 282.5h0M1686.9 291h0M1648 280.1h0M1685.9 282h0M1612.4 289.7h0M1649.3 279.2h0M1702.1 286.4h0M1650.5 281.6h0M1692 291h0M1700.5 276.2h0M1637.5 292.4h0M1704.4 281.4h0M1672.5 272.1h0M1676.3 292.5h0M1648.9 281.1h0M1678 288.7h0M1714.5 276.1h0M1780.1 293h0M1639.3 291.7h0M1673.5 284.8h0M1636.8 279.2h0M1724.5 285.1h0M1648.7 277.8h0M1712.6 276.6h0M1624.8 286.2h0M1712.1 291.1h0M1689.7 288.5h0M1689.9 274.2h0M1665.5 291.8h0M1669 278.6h0M1644.6 288.4h0M1700.9 289.2h0M1701.2 290h0M1707.5 284.4h0M1653.5 292.4h0M1632.4 281.8h0M1712.2 272.4h0M1676.7 292.5h0M1629 285.2h0M1646.5 278.6h0M1679.5 287.4h0M1659.4 284.9h0M1721.9 276.6h0M1738.3 282.4h0M1715.8 292.1h0M1645.4 288.8h0M1670.5 272.6h0M1673.8 283.8h0M1653.9 278.1h0M1628.1 272.8h0M1640 287.5h0M1716.1 290.3h0M1654.1 284.4h0M1717.9 281.7h0M1681.9 282h0M1659.3 280.8h0M1677.3 287.2h0M1674.2 285.7h0M1651.4 272.1h0M1683 284.2h0M1650.7 288.7h0M1734.9 290.5h0M1646.3 288.7h0M1672.2 288.4h0M1677.7 277.1h0M1698.8 271.6h0M1640.8 277.6h0M1641.6 276.5h0M1674 272.6h0M1686.8 274h0M1638 281.9h0M1694.1 277.4h0M1702.6 271.9h0M1703.3 274.2h0M1678 280.9h0M1713.9 291.3h0M1697.4 287.8h0M1665 288.6h0M1617.3 276.9h0M1711.7 274.3h0M1712.2 284.6h0M1670.4 279.4h0M1732.3 277h0M1670.6 282h0M1731.9 278.8h0M1689 272.7h0M1682.9 278.6h0M1669.2 271.8h0M1681.3 274.9h0M1689.7 276.7h0M1679.7 289.5h0M1640.2 287.6h0M1691.7 289.6h0M1701.8 282.5h0M1643.9 273.5h0M1704 278.3h0M1707.6 276.9h0M1691.1 288.9h0M1704 272.1h0M1666.6 289.1h0M1708.1 285.4h0M1731.1 275.5h0M1658.9 292.6h0M1633.9 279.7h0M1655.7 284.3h0M1633.9 289.3h0M1661 290.6h0M1663.3 291.5h0M1648.9 277.5h0M1703.6 284.2h0M1637.7 274.6h0M1650.1 279.4h0M1724.7 279.5h0M1710.8 280.1h0M1676 277.6h0M1674.6 280h0M1721.5 279.3h0M1674.1 277.2h0M1672.6 289.5h0M1716.7 282.6h0M1712.4 291.5h0M1683.3 284.2h0M1686.7 290h0M1668.4 284.6h0M1675.3 273.5h0M1672.1 285.1h0M1693 278.8h0M1684.9 285.1h0M1708.6 272.7h0M1712 290.2h0M1697.4 281.3h0M1695.5 279.4h0M1706 291.8h0M1690.9 277.2h0M1683 282.7h0M1693.4 291.8h0M1663.1 287.2h0M1684.2 287.2h0M1671 280h0M1648 276h0M1706.9 278.3h0M1717.8 284.6h0M1660 290.3h0M1697.2 283.4h0M1654.2 274.8h0M1667.7 274.6h0M1666.1 290.5h0M1788.8 275.8h0M1644.4 275.4h0M1681.3 288h0M1655.3 275.3h0M1651.5 285.2h0M1672.4 272.7h0M1683.1 271.3h0M1693.4 281.6h0M1647.4 284.1h0M1707.3 282.6h0M1644.3 288h0M1675.7 275.2h0M1710.1 272.8h0M1730.1 279.6h0M1675.5 273.4h0M1730.7 275.9h0M1652.9 287.5h0M1634.6 275.2h0M1657.6 279.4h0M1695.4 271.8h0M1696.1 273.1h0M1643 285h0M1651.9 290.1h0M1654.5 286.6h0M1668 287.3h0M1764.2 276.6h0M1699.5 277.4h0M1648.7 286.1h0M1695.8 289.2h0M1696.2 272.1h0M1660.7 291.2h0M1722.7 287.8h0M1662 281.8h0M1736.7 285.1h0M1681.8 278.4h0M1668.1 289.6h0M1701.5 289.9h0M1715.9 277.3h0M1675.9 289.1h0M1703.8 282.1h0M1639.9 288.1h0M1652 285.2h0M1684.8 277.3h0M1705.1 275.6h0M1664.3 279.1h0M1688.9 288.6h0M1693.8 273.4h0M1671.7 291.8h0M1626.8 276.5h0M1642.1 288h0M1673.2 281h0M1704.4 271.7h0M1646.6 287.9h0M1710.1 275h0M1690.2 286.6h0M1693.2 278.3h0M1701.5 290.4h0M1679.5 285.5h0M1694.6 275.8h0M1632.8 283.1h0M1669.4 279.3h0M1689.9 282.6h0M1641.8 284.5h0M1664 291.2h0M1672 276.4h0M1728.5 276.1h0M1737.4 291.7h0M1665.9 277.2h0M1695.1 271.4h0M1682 282.2h0M1690.3 272.4h0M1726.1 284.4h0M1732.2 292.3h0M1630.4 289.1h0M1648.5 291h0M1735.2 278.1h0M1707.4 280.7h0M1661.3 291.2h0M1634.9 291.1h0M1689.3 274.4h0M1651.3 280.6h0M1678.8 276.5h0M1717.5 290.8h0M1655 277.9h0M1682.5 279.8h0M1651.8 272.4h0M1666.6 284.6h0M1728.8 272.6h0M1722.8 276.5h0M1709.5 292.2h0M1688.2 288.6h0M1663.5 288.9h0M1670.8 282.3h0M1679 289.1h0M1629.3 290.3h0M1702.9 273.7h0M1672 274.8h0M1707.5 291.7h0M1670.6 286.4h0M1710.2 285.1h0M1670.2 271.5h0M1660.9 287.9h0M1664.5 277h0M1695 287h0M1630.3 292.3h0M1648.2 291.7h0M1677.2 282.7h0M1672.8 272.6h0M1657.3 282.9h0M1627.5 275.4h0M1706.4 291.3h0M1720 286.9h0M1675.3 283.3h0M1707.4 291.6h0M1653.6 286.7h0M1654.6 291.1h0M1702.6 276.6h0M1650.6 276.7h0M1713.2 271.4h0M1693.9 282.3h0M1694.3 289.2h0M1660.9 282.4h0M1722 272.4h0M1666.4 286.4h0M1686.3 288.2h0M1642.8 284.5h0M1697.3 277.6h0M1703.3 272.4h0M1634.4 286.7h0M1721.4 292.3h0M1670.5 277.7h0M1661.2 274.7h0M1747 292.7h0M1652.4 286.9h0M1693 279.3h0M1629.8 279.7h0M1686.2 287.8h0M1756.2 274h0M1656.1 278.5h0M1675.2 291h0M1744.1 279.2h0M1743.7 278.2h0M1662.4 278.5h0M1715.4 285.3h0M1638.3 282.7h0M1695.5 275.2h0M1648.1 289.2h0M1668.8 283.7h0M1693.7 288.3h0M1693.7 292.7h0M1741.5 273.6h0M1632.6 281.5h0M1651.2 291.5h0M1708.2 292.5h0M1690.6 290.2h0M1717.1 292h0M1669.4 289.5h0M1679 291.2h0M1697.8 278.5h0M1708.8 275.6h0M1632.9 272.8h0M1700.9 283.7h0M1694.9 278.1h0M1652.8 275.1h0M1654.2 283.5h0M1664.8 286h0M1677.6 276.4h0M1688.3 291.2h0M1718.3 287h0M1657.3 290.1h0M1664.4 280.4h0M1707.4 289.7h0M1680.6 292.3h0M1600.5 281.9h0M1658.8 272h0M1724.1 271.9h0M1690.4 286.5h0M1678.1 278.2h0M1723.7 272.3h0M1698.4 274.7h0M1723.9 280.8h0M1688.6 290.8h0M1701.7 271.7h0M1761.5 279h0M1695.6 275.2h0M1690.4 278.6h0M1700.9 272.3h0M1714.7 273.1h0M1699.4 283.5h0M1641.4 293h0M1690.4 285.6h0M1730.3 291h0M1692.1 274.9h0M1708.5 283.5h0M1686.4 272.2h0M1686.4 288.6h0M1705.9 284.2h0M1715.7 278.5h0M1690.8 279.9h0M1708.4 283.5h0M1717.8 281.8h0M1726.6 282.6h0M1723 278.3h0M1682.7 271.3h0M1660.7 280.2h0M1697.5 283h0M1689.5 292.6h0M1654.1 280.2h0M1669.3 274.7h0M1696.7 291.4h0M1703.7 280.7h0M1673.1 285.2h0M1699.7 284.9h0M1707.6 286.8h0M1684.4 300.9h0M1717.6 302.6h0M1654.7 296.2h0M1722.1 314.7h0M1667.5 302.4h0M1677.4 300h0M1687.7 303.5h0M1679.2 306.1h0M1657.4 304.3h0M1627.4 306.8h0M1658.3 314.1h0M1656.6 313.5h0M1717.2 302.7h0M1667.7 296.2h0M1714 301.9h0M1687.8 300.8h0M1693.8 313h0M1728.3 296.3h0M1627.3 295.1h0M1614.4 297.9h0M1719.2 309.8h0M1680.6 312.3h0M1724.6 302.4h0M1734.4 297.1h0M1718.3 312.6h0M1698.8 297.2h0M1716.9 294h0M1643.6 306.8h0M1717.3 315h0M1732.6 305.8h0M1672.7 303.9h0M1674.3 301.2h0M1717.1 313.6h0M1628.3 297.9h0M1681.7 298.9h0M1686.5 305.4h0M1723.9 301.1h0M1716.8 293.4h0M1712.6 300.3h0M1723 301.5h0M1713 313h0M1656.2 297.8h0M1704.6 293.6h0M1699.6 305.7h0M1660.3 310.8h0M1718.4 306h0M1683.5 311.8h0M1644.8 293.1h0M1722.8 304.5h0M1702.3 300.5h0M1691.4 294.8h0M1653.3 310.6h0M1697.5 295.1h0M1673.5 295.3h0M1703.3 293.5h0M1701.6 296.9h0M1669.8 302.6h0M1670.8 301.3h0M1696.2 298.3h0M1730.2 312.9h0M1703.9 297.7h0M1676.4 313.2h0M1697.2 314.9h0M1735.2 315.1h0M1657.7 310h0M1685.8 298.7h0M1668.1 314.5h0M1659.9 311h0M1679.6 299.9h0M1694.7 295.3h0M1662.2 296.7h0M1766.1 308.6h0M1645.9 304.5h0M1723.4 303.4h0M1703 305.5h0M1727 294.4h0M1690 301.9h0M1612.9 294.9h0M1657.9 314h0M1728.9 295.6h0M1633.8 302.7h0M1662.5 298.9h0M1655 297.8h0M1651.8 296h0M1672.3 301.9h0M1642.5 297.1h0M1719.5 314.9h0M1605.1 296.3h0M1712.6 298.2h0M1720.3 293h0M1656.7 297.6h0M1669.6 309.4h0M1665.7 298.4h0M1698.8 305.5h0M1715.2 304.5h0M1642.6 306.5h0M1706.4 315.6h0M1664.3 311.3h0M1651.7 296h0M1688.7 304.2h0M1659.6 304.5h0M1694.5 298.3h0M1685.1 303.7h0M1695.2 295.1h0M1731 299.8h0M1697.7 296h0M1751.6 311.5h0M1661.7 312.2h0M1659.3 298.3h0M1711.1 310.6h0M1693.1 295.8h0M1701.3 305h0M1691.3 293.5h0M1593.7 301h0M1673.2 307.4h0M1633.5 308.7h0M1700.6 308.7h0M1681.2 296.5h0M1666.4 297.4h0M1726.9 304.1h0M1711.6 293.8h0M1682.4 308.2h0M1657.1 297.3h0M1700.7 303.9h0M1703.7 295.2h0M1679.7 313.4h0M1648.3 296.2h0M1652.1 302.7h0M1745.9 312.8h0M1654.9 309.4h0M1689.7 306.7h0M1674.8 299.2h0M1660.2 309.6h0M1715 296.1h0M1634.5 315.7h0M1678.2 300.5h0M1727.9 304.7h0M1665 314.5h0M1642.8 307.1h0M1701.5 309.6h0M1708.6 314.3h0M1705.4 300.5h0M1668.6 309.1h0M1682.8 296.9h0M1657.1 294.4h0M1679.3 294.5h0M1708.5 302.7h0M1691.6 313.3h0M1726.1 314.2h0M1700.9 299.1h0M1633.2 308.9h0M1667.8 308.2h0M1634 304.2h0M1651.6 310.5h0M1718.5 305.7h0M1636.8 303.8h0M1680.9 315.3h0M1697.3 295.4h0M1668.4 305.9h0M1701.6 313.6h0M1685.5 298.5h0M1694.8 302.9h0M1701.7 293.2h0M1721.3 304.8h0M1629.8 302.7h0M1688.1 293.1h0M1658.1 304.9h0M1641.3 299.9h0M1677.7 309.1h0M1651.2 301.9h0M1726 296.5h0M1646.6 293.8h0M1694.7 309.6h0M1708.5 295.6h0M1667.8 310.4h0M1633.6 299.3h0M1695 300.5h0M1686.1 303.3h0M1639.5 308.8h0M1706.7 294.8h0M1729 293.8h0M1704.9 301h0M1674 293.5h0M1670.9 307h0M1700.7 295.2h0M1677.7 295.8h0M1725.3 308.9h0M1672.6 312.5h0M1674.4 302.9h0M1662.2 303.3h0M1661.1 296.1h0M1637.5 297.2h0M1668.4 297h0M1670 300.2h0M1707.9 303.1h0M1669.7 305.4h0M1712.6 307.1h0M1706.3 315.6h0M1663.7 310.9h0M1694.1 304.5h0M1677.2 303.9h0M1658.2 295.1h0M1668.9 313.5h0M1697.9 312.4h0M1699.5 302.4h0M1672.9 293.7h0M1646.4 294.4h0M1693.1 302.9h0M1656.3 315.5h0M1649.2 299.8h0M1711 295.8h0M1703.6 302.6h0M1710.1 305.5h0M1697.4 303.2h0M1669.9 305.6h0M1711.3 299h0M1668.6 315.7h0M1668.6 311.8h0M1629.9 295h0M1687.4 294h0M1715.1 307.4h0M1744.6 308.6h0M1714.2 311.3h0M1701.7 306.4h0M1689.2 310.3h0M1708.6 311.8h0M1686.7 300.9h0M1637.7 312h0M1744 298.7h0M1698.4 306.9h0M1681.7 310.7h0M1663.9 299.6h0M1641.3 305.6h0M1683.7 309.7h0M1655.7 304.6h0M1642.7 302.2h0M1703 313.3h0M1679.8 311.6h0M1724.9 304.4h0M1648.5 309.2h0M1644.6 315.8h0M1680.3 314.9h0M1657.6 315.8h0M1653 294.4h0M1674.7 310.8h0M1724.2 307.3h0M1726.5 306.2h0M1657.9 295.8h0M1672.6 303.4h0M1707.4 304h0M1642.8 294.1h0M1659.2 315h0M1654.4 312.6h0M1670.5 311.1h0M1719.3 300.8h0M1710.5 302.8h0M1705.7 295.9h0M1706.2 296.6h0M1666.4 301.5h0M1656 309.9h0M1681.8 309.9h0M1642.4 310.7h0M1702.1 293.7h0M1744.4 305.5h0M1667.7 305.4h0M1658.6 309.5h0M1730 313.7h0M1638.6 293.1h0M1696.6 307.2h0M1691 305.7h0M1670.2 296.8h0M1690.6 313.5h0M1691 300.1h0M1669.8 299.6h0M1713.8 309.7h0M1638.8 303.2h0M1728.4 295.2h0M1696.7 301.9h0M1690.8 293.9h0M1749.5 303.4h0M1676.1 311.9h0M1672.8 313.1h0M1671.9 304.1h0M1714.2 298.3h0M1640.6 306.1h0M1675.2 312.3h0M1696.6 314h0M1725 314.1h0M1681.9 308.6h0M1668.4 296.4h0M1667.9 300h0M1666.9 297.4h0M1704.5 293.8h0M1710.4 296.9h0M1657.9 315.3h0M1716.1 307h0M1633.5 294.4h0M1691.8 297.3h0M1653.1 300h0M1691.2 305.6h0M1658.7 314.8h0M1707.6 313.4h0M1633.7 308.2h0M1707.1 294.2h0M1732.9 298.9h0M1697.6 315.8h0M1658.2 302.5h0M1677.9 305.8h0M1668.2 298.8h0M1678.6 305.8h0M1682.4 311.3h0M1627.4 309.7h0M1645.6 293.9h0M1696.2 303.4h0M1718 298.6h0M1724.9 296.1h0M1566.2 303.4h0M1667.9 304.2h0M1662.4 303.3h0M1711.1 300.4h0M1688.4 299.6h0M1634.6 315.1h0M1715.5 302.3h0M1689.7 307h0M1704 309h0M1711.5 298.7h0M1650.4 301.7h0M1722.7 297.6h0M1711 314.6h0M1665.5 304.4h0M1670.3 307.7h0M1707.7 305.2h0M1674.3 294.5h0M1710.5 303.4h0M1680.9 311.8h0M1667.6 298.1h0M1694.7 296.3h0M1652 293.3h0M1689.5 310.4h0M1706.6 303.5h0M1663.9 295.7h0M1683.8 293.4h0M1627.6 307.6h0M1676.3 300.5h0M1673 299.5h0M1704.8 309.1h0M1665.1 297.8h0M1722.9 294.4h0M1681 306.9h0M1724.1 293h0M1716.7 315.3h0M1640.7 297.7h0M1698.7 304h0M1686.2 304.9h0M1693.5 308.6h0M1660.6 306.8h0M1658.8 310.6h0M1704.3 306.4h0M1711.8 297.7h0M1755.6 296.7h0M1821.1 303.9h0M1716.6 297.1h0M1707.9 308.2h0M1702.3 295.4h0M1697.7 312.7h0M1633.1 310.1h0M1656.1 304.7h0M1689.7 311.7h0M1678.9 314.3h0M1729.4 298h0M1660.4 313.4h0M1698.9 305.3h0M1700.4 300.9h0M1691.7 295.5h0M1666.7 303.3h0M1654.3 294.3h0M1702.6 306.3h0M1722.8 309.3h0M1675.2 300.9h0M1721 300.6h0M1675.1 310.4h0M1653.4 302.4h0M1700.5 294h0M1719.9 302.6h0M1683.4 293.1h0M1730.4 306.7h0M1660.8 315.9h0M1693.6 300.9h0M1684.9 299.7h0M1656.7 331.6h0M1656.6 330.2h0M1676.3 329.2h0M1697.4 327.7h0M1726.2 329.7h0M1725.7 323.1h0M1706.3 319.7h0M1661.6 316.8h0M1719.6 330.5h0M1685.3 319.7h0M1706.3 329.6h0M1736.4 329.5h0M1728 316.3h0M1711.8 327.7h0M1654.5 331h0M1712.5 324.7h0M1736.4 320h0M1725.4 327.4h0M1671.6 332.2h0M1655 325.3h0M1704.8 334.2h0M1661.4 319.7h0M1688.8 327.3h0M1693.4 328.1h0M1648.9 320.8h0M1696.2 327.1h0M1674 328.5h0M1644.4 327.5h0M1678.2 334.3h0M1694.2 318.1h0M1659.8 333.6h0M1697 317.8h0M1680.2 324.2h0M1675.6 327.7h0M1704.3 317.3h0M1665.7 324.1h0M1638.2 327.7h0M1746.8 330.1h0M1678.6 333.4h0M1674 330.7h0M1716.5 325.2h0M1690.9 332.3h0M1656.8 322.2h0M1727.5 320.8h0M1694.7 325h0M1748.6 330.4h0M1708.6 331.4h0M1688.4 319.3h0M1667.7 327.1h0M1711.8 332h0M1671.6 327.8h0M1712.5 318h0M1714.3 333h0M1720.2 330.6h0M1686.8 321.3h0M1691.7 329.9h0M1657.7 326.1h0M1676.4 331.2h0M1677.9 334.9h0M1684.3 316.1h0M1716.1 331.1h0M1683.4 334.7h0M1691.4 321.1h0M1651.9 326.9h0M1638 322.5h0M1722.4 329.5h0M1636.4 325.8h0M1691.1 327.9h0M1672.3 327.3h0M1710.9 321.5h0M1725.2 328.6h0M1709.6 321.8h0M1671.8 322h0M1742.5 322.9h0M1688.4 329.8h0M1631.1 332.9h0M1664.2 334.2h0M1717.9 319.6h0M1675.3 322.3h0M1647.8 331.3h0M1739.3 330.6h0M1698.9 332.4h0M1686 330.3h0M1684.5 320.8h0M1693.7 321.9h0M1710.1 323.8h0M1693.9 320.1h0M1690.9 332.8h0M1693.8 319h0M1648.9 331.9h0M1640.7 319.3h0M1644 322.5h0M1720.6 319.4h0M1678.5 326.7h0M1656.3 316.9h0M1674.7 333h0M1680.4 319.4h0M1702.6 327.6h0M1662.7 316.8h0M1666.6 331.7h0M1708.7 327.8h0M1695.6 328.8h0M1727.9 334.5h0M1674.8 317.6h0M1666.1 327.4h0M1652 320.5h0M1720.3 334.3h0M1717.8 317.2h0M1658.4 331h0M1703.8 326h0M1724.7 320h0M1709.6 323.8h0M1662.4 328h0M1729.9 326.2h0M1704.4 332h0M1703.6 326.9h0M1691.5 323.5h0M1708.2 333.4h0M1666.4 334.7h0M1716 327.2h0M1666.1 323.9h0M1702.7 321.8h0M1677.4 320.1h0M1632.5 325.6h0M1712 332.7h0M1704.6 317.3h0M1720.6 321.9h0M1734.3 321.3h0M1684.3 327.6h0M1676.7 324.5h0M1749.5 331.3h0M1658.3 322.5h0M1712.9 332.5h0M1710.6 317.3h0M1653.4 324.6h0M1693.5 330.8h0M1687.1 327.2h0M1740.6 323.1h0M1721 333.8h0M1687.5 330.8h0M1690 325h0M1705.3 317.3h0M1654.2 321.4h0M1730.7 329.3h0M1682.1 332.9h0M1656.2 328.9h0M1684.1 328.9h0M1689.1 323.9h0M1685.7 332.7h0M1699.8 321.5h0M1659.5 317.8h0M1643.3 317.1h0M1722.5 333.4h0M1712.9 329h0M1698.6 333.2h0M1724.5 318.4h0M1687.8 332.6h0M1685.7 316.6h0M1692.7 331.6h0M1677.3 322h0M1662.4 329.4h0M1726.1 330.2h0M1677.5 320.4h0M1730.4 333.4h0M1727.6 331.2h0M1697.2 326.5h0M1713 322.7h0M1724.1 334.7h0M1704.8 320.5h0M1679.1 325.2h0M1666.3 327.5h0M1715.8 316.3h0M1739.9 333.3h0M1665.9 327.7h0M1720.9 331.2h0M1698.7 328.1h0M1692.6 331.2h0M1744.9 334h0M1668.2 318.1h0M1694.3 323.9h0M1685 318.8h0M1694.4 317.3h0M1671.4 325.1h0M1692 324.6h0M1729.6 326.5h0M1670.2 321.2h0M1721.2 318.8h0M1678.1 331.7h0M1706.8 319.8h0M1736.1 323.9h0M1703.1 332.8h0M1698.6 323.7h0M1628.7 328.8h0M1632.3 328.4h0M1694.9 316.4h0M1675.3 326.9h0M1704 332.5h0M1687.4 316.5h0M1720.2 323.5h0M1664.9 318.4h0M1704.2 333.3h0M1694.2 325.4h0M1659.7 333h0M1680 318.3h0M1691.2 333.7h0M1713.8 332.1h0M1667.9 326.8h0M1744.2 330h0M1717 334.9h0M1685.4 318h0M1681.5 318.5h0M1703.2 319h0M1708.3 321.8h0M1659.7 327.4h0M1592.5 322.1h0M1696.3 321h0M1701.9 320.1h0M1674.4 323.1h0M1714 327.9h0M1681.4 321.5h0M1727.4 316.1h0M1716.6 322.2h0M1678.4 316.2h0M1659.7 319.7h0M1742.9 318.3h0M1693.4 321.7h0M1673.4 323.4h0M1682 323.5h0M1654.2 321.5h0M1660.5 318.9h0M1725.5 328.8h0M1729.1 331.7h0M1695.1 328.8h0M1659 317.8h0M1673.2 325.4h0M1727.5 334.9h0M1738.4 317h0M1709.7 319.2h0M1650.4 324.1h0M1686.3 318.6h0M1697.2 331.1h0M1725.1 324.2h0M1707.3 323h0M1719.5 322.1h0M1704 317.5h0M1707.6 318.3h0M1676 321.9h0M1733.9 324.1h0M1723.8 331.2h0M1701.4 333h0M1723.1 329.1h0M1699.1 327.3h0M1707.2 334.2h0M1716.7 317.7h0M1718.4 317.4h0M1717.7 333.9h0M1708.1 319h0M1640.2 325.4h0M1688.9 331h0M1722.4 325.5h0M1725.5 324h0M1672.6 319.4h0M1635.1 327.8h0M1669.7 316.3h0M1683.5 334.2h0M1698.9 321.7h0M1743.6 323.9h0M1689.8 333.3h0M1693.6 320.4h0M1642.6 318.3h0M1684.2 326.2h0M1678.4 329.4h0M1656.8 321.9h0M1684.7 324.7h0M1684.9 330.5h0M1697.4 331.5h0M1647.5 324.5h0M1658.3 327.7h0M1700.8 320h0M1710.8 329.1h0M1723.7 333.8h0M1667.2 330h0M1751.1 332.9h0M1645.9 326.8h0M1660.3 316.3h0M1699.4 324h0M1694.8 327.2h0M1740.2 319.9h0M1683.3 322.2h0M1726.4 324.7h0M1696.6 324.1h0M1716.4 329.7h0M1728.1 333.7h0M1671.4 317.2h0M1674.2 324.2h0M1661.8 331.1h0M1676.8 328.6h0M1676.9 317.2h0M1732.1 334.7h0M1638 323.1h0M1653 331.5h0M1691.5 328.2h0M1712.3 325.7h0M1647.3 317.2h0M1692.4 322.5h0M1688.3 327.6h0M1741 319.6h0M1659.7 330.6h0M1730.8 334.6h0M1700.3 332.2h0M1745 335.4h0M1667.6 346.5h0M1722.7 347h0M1717.7 338.9h0M1671.8 342.8h0M1722.9 346.4h0M1664.3 352.8h0M1747.8 338.8h0M1709.1 337.6h0M1741.1 346.8h0M1726.3 336h0M1701.8 352.8h0M1684.9 342.2h0M1657.9 347h0M1728.9 338h0M1735.8 348h0M1707.3 348.4h0M1665.5 342.5h0M1678.2 351.4h0M1697 348.2h0M1659.8 345.5h0M1709.9 347h0M1715.8 350.6h0M1712.2 343.1h0M1723.8 352h0M1690 339.8h0M1666.7 350.5h0M1716.9 350.8h0M1728.9 351.8h0M1715.2 338.9h0M1696.1 347h0M1670.9 342h0M1677 341.3h0M1697.5 339.8h0M1688 337.2h0M1714.3 341.8h0M1748.7 351h0M1685.6 340.1h0M1716.2 349h0M1727.6 336.1h0M1722.3 345.6h0M1719 348.3h0M1727.8 336.6h0M1696.6 344.5h0M1672.1 336.9h0M1745.9 348.5h0M1732.7 335.8h0M1692.1 340.8h0M1675.1 343.8h0M1705.8 338h0M1665.1 344.5h0M1685.5 340h0M1699.3 344.1h0M1719.2 351h0M1651.7 338.7h0M1714.1 345.3h0M1693 347h0M1682.1 349.3h0M1717.5 350.9h0M1690.9 337.3h0M1719.4 339.6h0M1710.8 339.6h0M1727.7 338.7h0M1691.7 351.3h0M1692.6 338.8h0M1708.3 337.3h0M1722.8 350.8h0M1712.5 346.7h0M1632.6 344.9h0M1716.1 351.9h0M1692.5 337.7h0M1681.1 341.8h0M1670.7 343.9h0M1730.7 345.4h0M1681.9 340.2h0M1718.5 349.6h0M1671.5 344.3h0M1672.5 339.1h0M1679.8 344h0M1712.2 352h0M1671.1 342.6h0M1727.7 337.1h0M1675.7 337.8h0M1718.4 342h0M1712.4 352.4h0M1652.3 349.6h0M1706.4 339.7h0M1741.5 347h0M1734.6 342.3h0M1695.3 352.2h0M1704.2 336.2h0M1729.4 337.3h0M1674.1 351.7h0M1710.3 338.8h0M1713.3 348.6h0M1647.9 350.4h0M1713.8 340.5h0M1718.4 345.5h0M1700.4 349.6h0M1751.5 352.2h0M1688.8 340.3h0M1722.1 335.9h0M1670.8 340h0M1733.3 344.4h0M1682.6 346.4h0M1707.9 336.6h0M1685 336.5h0M1685.4 339.1h0M1709.7 344.5h0M1681.8 342.4h0M1714.9 345.2h0M1717.9 335.3h0M1696.9 339.3h0M1691 351h0M1679.6 349.8h0M1668.8 341.5h0M1712.5 340.6h0M1698.8 342.5h0M1736.1 339.3h0M1715 348.9h0M1731.3 338.3h0M1704.6 349h0M1692.7 347.3h0M1694.8 352.8h0M1688 352.5h0M1677.5 344.3h0M1722.3 346h0M1720.8 339h0M1677.3 341.7h0M1735.5 348.6h0M1676.1 348.3h0M1724 347.5h0M1660.5 350.6h0M1699.9 342.4h0M1706.9 336h0M1747.1 349.5h0M1677 341.1h0M1705.4 352.6h0M1702.8 344.8h0M1649.5 336.9h0M1664.5 343.8h0M1710.5 341.9h0M1715.5 338.8h0M1729.3 348.9h0M1720.4 335.4h0M1691.7 335.8h0M1712.9 340.2h0M1683.3 337.8h0M1668.5 342.1h0M1686.5 348.2h0M1746.8 337.8h0M1698.9 335.9h0M1720 350.3h0M1719.3 341.9h0M1746.5 349.6h0M1676.4 338.1h0M1675 344.2h0M1695.1 343.3h0M1708.6 341.4h0M1700.4 352.6h0M1712.4 341.9h0M1740 346.1h0M1707.8 341h0M1721.8 349.9h0M1680.3 345.9h0M1722.4 343.5h0M1707 341.7h0M1717.2 341.2h0M1692.9 350.9h0M1697.4 342.6h0M1752.9 347.2h0M1698.5 349.5h0M1674.7 346.8h0M1711.4 351.3h0M1707.3 342.4h0M1704.8 352.3h0M1696.5 349.1h0M1704.8 338.3h0M1742.8 339.2h0M1702.4 335.2h0M1728.6 336.1h0M1734.4 336.6h0M1693.1 337.5h0M1665.1 335.7h0M1693.3 340.1h0M1688.9 347h0M1693.4 349h0M1652.8 340.5h0M1727.1 345.7h0M1728.2 350.8h0M1690.8 349.6h0M1742.5 351.6h0M1689.2 342.2h0M1662.5 347.6h0M1706.1 349.4h0M1716.7 348.8h0M1741.6 338.4h0M1658.6 345.8h0M1731.3 350.1h0M1679.9 350.1h0M1724.2 345.1h0M1699.3 336.8h0M1729.5 345.8h0M1686.9 348h0M1675.8 340.9h0M1699.2 349.1h0M1696.4 343.4h0M1700.1 351.8h0M1714.4 337.8h0M1685.7 338h0M1693.3 348.1h0M1687.3 337.2h0M1685.3 344.5h0M1689.9 339.7h0M1695.9 345.1h0M1681.2 346.3h0M1683.2 344.5h0M1733.5 342.6h0M1722.6 340.5h0M1685.8 339.4h0M1661.5 350h0M1744.2 338.1h0M1684.6 346.3h0M1692.5 336.3h0M1724.4 341.5h0M1730.9 350.2h0M1748.8 339.2h0M1739.7 345.6h0M1752.3 336.6h0M1746 347.3h0M1723.1 345.3h0M1692.6 347.7h0M1745.9 351.3h0M1702.2 341.8h0M1694.7 336.4h0M1727.8 341.6h0M1669.5 343.6h0M1728.8 343.4h0M1680 344.3h0M1729.1 341.2h0M1698.5 352.7h0M1750.8 346.6h0M1690.8 352.3h0M1718.7 341.9h0M1708.4 349.5h0M1701.2 339.6h0M1742.6 341.9h0M1712 352.9h0M1701 339.7h0M1701.7 343.2h0M1701.3 338.5h0M1686.1 352.5h0M1669.3 336.9h0M1673.7 340.4h0M1729.6 347h0M1725.5 340.2h0M1701.7 346.1h0M1726.7 339.6h0M1698.3 345.8h0M1675.4 352.8h0M1719.5 343.8h0M1690.7 344.4h0M1707.9 335.9h0M1692.1 352.3h0M1682.2 340.2h0M1711.3 346.6h0M1688.5 348.9h0M1671.5 347.5h0M1699.2 346.7h0M1682.2 339.1h0M1658.5 346.8h0M1692.1 349.4h0M1716.8 349.7h0M1690.5 342.6h0M1730.7 340.3h0M1681.4 339.6h0M1719.9 337.4h0M1725.6 350.5h0M1701.8 347.3h0M1683.7 343.2h0M1725.8 348h0M1713.7 353.7h0M1693 370.6h0M1696.8 358.5h0M1731.4 373.1h0M1696.4 368.8h0M1735.7 353.5h0M1738.7 374.7h0M1741.2 374.2h0M1745.8 373.4h0M1689.8 356.8h0M1726 366.3h0M1699.5 369.3h0M1732.1 353.4h0M1723.8 373.8h0M1684.1 372.1h0M1732 373.3h0M1732.7 372.4h0M1732.2 359h0M1705.3 367.5h0M1699.4 367.6h0M1676.1 362.9h0M1696.4 354.9h0M1690.8 358h0M1701.6 367.1h0M1713.5 356.8h0M1688.7 356.7h0M1695.1 353.9h0M1738.4 354.1h0M1735.3 365.8h0M1729.2 356.4h0M1689.2 368.2h0M1752.2 372.8h0M1742.8 365.1h0M1694.8 367h0M1694.3 362.7h0M1702.1 366.6h0M1677.5 353.1h0M1707.1 355.4h0M1736.5 369.5h0M1715 366.5h0M1732 368.9h0M1628.2 360.3h0M1744.7 368.5h0M1731.8 362.8h0M1687.6 353.4h0M1721.7 369.7h0M1745.3 356.2h0M1656.9 361.8h0M1695.3 370.6h0M1640.7 366.9h0M1734.7 361.8h0M1688.7 366.8h0M1726.3 353.2h0M1749.7 359.9h0M1717.5 374.2h0M1692.1 371.9h0M1669.7 354.3h0M1724.1 373.1h0M1749.9 365.3h0M1727.4 373h0M1716.3 356.8h0M1736.1 365.7h0M1700.8 367.2h0M1681.9 362.1h0M1709.3 360.2h0M1705 354.6h0M1722.6 359.4h0M1730.6 363.6h0M1677.6 365.2h0M1715.5 353.3h0M1717 360.8h0M1710.3 373.9h0M1710 360.4h0M1713.8 358.3h0M1708.4 366.4h0M1701.3 362.8h0M1716.9 355.6h0M1704.1 367.6h0M1734.1 355.4h0M1680.9 370.1h0M1749.1 369.5h0M1753.8 360.5h0M1686.7 359.8h0M1666.1 359.5h0M1734.4 370.6h0M1694.3 358.6h0M1738 369.3h0M1744.4 356h0M1709 357.1h0M1750 356.4h0M1711.3 367.6h0M1701.7 374.7h0M1656.8 357.8h0M1680 357.6h0M1749.7 354.1h0M1695.9 372h0M1703.4 370.6h0M1735.4 357.7h0M1667.9 367.1h0M1738.9 373.1h0M1729.2 362.3h0M1722 367h0M1702.4 359h0M1716.1 372.7h0M1701.5 365.7h0M1684.3 366.2h0M1741.5 371.2h0M1714.9 370h0M1721 358.6h0M1675.9 356.9h0M1696 368.5h0M1722.5 362h0M1721.1 366.7h0M1693.1 360.8h0M1737.9 358.5h0M1672.6 370.7h0M1695.7 371.5h0M1718.9 375.5h0M1684.6 353.1h0M1745.3 362.7h0M1709.7 371h0M1730.4 359h0M1701.6 362.9h0M1745 371.5h0M1686 355h0M1744 354.1h0M1745.2 373.6h0M1703 355.4h0M1714.4 374.5h0M1688.7 353.1h0M1726.4 367.3h0M1738.8 353.4h0M1708.3 357.8h0M1728.2 373.3h0M1713.5 371.3h0M1731.6 370.8h0M1727.1 367.9h0M1732.4 358.2h0M1660.7 353.7h0M1686.5 357.2h0M1699.8 358.5h0M1709.7 370.8h0M1711.5 356.5h0M1724.4 363.1h0M1712.2 362.1h0M1741.6 355.3h0M1751 356h0M1746.6 373.8h0M1730 373.1h0M1753.8 360.1h0M1740.3 354.2h0M1679.4 358.7h0M1657.7 374.2h0M1693.8 360.2h0M1694.8 357.3h0M1714.1 369.7h0M1727.3 366.2h0M1705.7 358.7h0M1728.9 367.5h0M1710 371.7h0M1696.2 359.6h0M1734.9 368.9h0M1710.4 358.2h0M1739.5 359h0M1728.5 368.3h0M1722.7 364.7h0M1726 355.4h0M1723.2 376h0M1717.2 353.8h0M1740.5 365.8h0M1736 364.1h0M1729.3 371.6h0M1725.1 369.4h0M1716 367.2h0M1699.6 365.7h0M1730.7 353.6h0M1737.7 363.3h0M1694.5 365h0M1694.8 359.2h0M1705.1 355.4h0M1715.5 366.4h0M1653.2 357.9h0M1709.6 356.7h0M1714.1 358.2h0M1724.3 372.2h0M1701.1 363.1h0M1664.2 355.6h0M1693.2 362.1h0M1747.7 374.5h0M1732 367.9h0M1727.9 364.5h0M1694.3 371.4h0M1710.5 362.1h0M1717.2 374.3h0M1733.3 365h0M1725 367.6h0M1751.6 366.6h0M1653 366.3h0M1706.1 365.4h0M1709.3 359.4h0M1681.5 368.7h0M1731.6 366.1h0M1702.1 367h0M1686.3 370.6h0M1721.9 375.8h0M1712.1 374.4h0M1705.1 354.4h0M1654.6 362.2h0M1672.3 373.8h0M1638.7 353.2h0M1712.8 355.7h0M1725.9 360.2h0M1737.1 373.3h0M1712.2 367.6h0M1710 362.1h0M1740.2 361.7h0M1720.7 375h0M1701.5 362.2h0M1716.4 367.9h0M1699.6 361.2h0M1704.6 372.3h0M1690 369.6h0M1670.8 358.3h0M1715 360.6h0M1713.4 371.5h0M1709.8 368.8h0M1715 371.5h0M1736.2 373.4h0M1660.2 353h0M1729 374.2h0M1737.9 369h0M1709.4 367.4h0M1739.5 366.4h0M1729.1 362.6h0M1717.8 358.1h0M1729.8 354h0M1723.9 371.6h0M1719.4 356.4h0M1702.1 369h0M1711.7 368.3h0M1690.6 375.9h0M1707.2 360.9h0M1747.1 372.7h0M1692.5 361.9h0M1670.7 355.1h0M1668.5 354.8h0M1660.3 359h0M1730.1 358.7h0M1710.5 375h0M1698.6 357.3h0M1688.4 374.5h0M1683.7 366h0M1694.5 373.3h0M1729.8 367.5h0M1696.3 360.3h0M1723.2 353.1h0M1702.7 368.1h0M1703.7 365.5h0M1693.9 355.2h0M1705.9 375.4h0M1721.2 371.7h0M1714.2 363h0M1735.1 365.2h0M1692.7 357.1h0M1688 360.4h0M1694.5 359.9h0M1690.2 358.9h0M1731.1 368.4h0M1691.8 365.3h0M1710.1 363h0M1691.4 373.1h0M1705 366.5h0M1685 358.2h0M1698.8 373.7h0M1679.8 357.7h0M1702 368.2h0M1720.3 360.6h0M1681.4 359h0M1739.8 354.8h0M1722.5 370.6h0M1686.4 369.6h0M1728.6 364.2h0M1716.9 361.7h0M1705.2 356.9h0M1734.4 372.7h0M1688 365.7h0M1693.7 361.5h0M1726.7 370.9h0M1743.6 359.6h0M1721.7 367h0M1688.2 368.7h0M1715.3 353.1h0M1713.1 358.7h0M1725.5 369.5h0M1695.7 354.2h0M1733.4 362.1h0M1746.3 373.2h0M1720.5 361.6h0M1674.4 355.1h0M1684 366.9h0M1732.4 363.1h0M1716.3 374.5h0M1677.9 369.8h0M1700.9 368.4h0M1749.1 358.6h0M1704 370.9h0M1696.4 364.6h0M1737.9 373.4h0M1724.3 357.1h0M1711.8 370.8h0M1715.4 370.1h0M1720.7 353.8h0M1710.7 370.2h0M1727.2 364.7h0M1722.5 363.3h0M1689.5 356.4h0M1705.8 371.5h0M1705 368.8h0M1715.1 368.4h0M1684.5 367.6h0M1653.6 355.8h0M1674.4 366.5h0M1736.7 354.5h0M1717.9 364h0M1711.3 358h0M1697.4 361h0M1756.6 370.4h0M1706.8 366.6h0M1704.1 371.4h0M1694.7 358.8h0M1730.7 370.9h0M1693.4 362h0M1715.4 375.2h0M1719.7 367.2h0M1692.9 370.4h0M1688.9 355.3h0M1714.3 371.2h0M1733.1 364.6h0M1719.7 360.7h0M1725.3 383.3h0M1754.5 392.6h0M1702.6 377.9h0M1723.7 385.2h0M1712.5 391.7h0M1690.6 380.1h0M1721.2 391.1h0M1735.8 383.2h0M1710.9 396.2h0M1701.5 397.2h0M1688.3 380.6h0M1693.9 387h0M1731.4 380.2h0M1741.8 379.9h0M1743.9 385.9h0M1710.9 389.1h0M1706.9 386.9h0M1699 376.2h0M1695.2 384.5h0M1706.9 377.3h0M1712.2 385.8h0M1700.6 392.4h0M1745 384.1h0M1701 384.4h0M1705.5 378.8h0M1711.3 394.4h0M1702.2 379h0M1741.4 385.1h0M1692 383.3h0M1729.1 388.4h0M1703.9 384.6h0M1708.2 393.3h0M1699.9 386.7h0M1729.5 392h0M1713 394.1h0M1717 382.2h0M1736.3 378.1h0M1713.2 380.5h0M1708.2 377.7h0M1703.3 377.5h0M1725.6 384.7h0M1709.7 386.5h0M1708.5 379.5h0M1712.9 388.4h0M1730.6 378.6h0M1733 396.9h0M1711.1 387.8h0M1706.4 382.8h0M1725.5 389.2h0M1748.2 397.7h0M1718.5 380.9h0M1719.1 396.2h0M1725.5 395.8h0M1732.9 397.1h0M1725 389h0M1702.9 385.9h0M1739.8 383.5h0M1724.7 376.8h0M1711.6 380.2h0M1707.3 382.9h0M1715.1 397.8h0M1704 387.4h0M1717 397.6h0M1726.9 381.8h0M1715.9 397.6h0M1706.7 395.4h0M1732.6 393.2h0M1726.2 382.5h0M1744.9 392.8h0M1747.6 392h0M1706.6 387.3h0M1708.7 378.3h0M1729.3 376h0M1713.7 392.9h0M1740.7 380.9h0M1702.7 379.9h0M1688.6 377.9h0M1743.9 394h0M1752.4 385.4h0M1731.2 382.2h0M1747.3 379.2h0M1722.1 386.9h0M1741.2 390.1h0M1709 387.6h0M1740.3 390.1h0M1730.8 391.9h0M1696.5 386h0M1743.6 386.3h0M1734.8 382.2h0M1748.6 387.8h0M1711.1 386.9h0M1744.9 383.9h0M1709.6 397h0M1725.2 380.1h0M1740.1 386h0M1653 386.5h0M1704.9 392.2h0M1711.2 378.9h0M1754.7 394.6h0M1725.5 386.1h0M1709.4 381.5h0M1718.3 381.6h0M1708.1 379h0M1757.4 384.1h0M1721.1 396.7h0M1748.4 395.8h0M1703.4 387.7h0M1696 376.6h0M1734.1 387h0M1717.6 386.5h0M1701.7 388.9h0M1730.1 381.2h0M1734.5 387.6h0M1733.7 379.1h0M1722.4 387.7h0M1749.2 396.9h0M1708.6 381.4h0M1714.7 392.4h0M1700.7 381.4h0M1745 386h0M1716.3 396h0M1701.8 384.6h0M1720.4 396.9h0M1737.9 392.6h0M1689.4 383.8h0M1723.7 394.6h0M1725.8 377.8h0M1719 394.4h0M1752.9 377.5h0M1727 396.8h0M1747.1 393.4h0M1738.5 386.2h0M1719.4 384.9h0M1730.7 386.1h0M1747.8 382.5h0M1757.3 386.5h0M1729.5 382.4h0M1705.5 391h0M1751.1 378.4h0M1728.1 394.5h0M1694.7 386.6h0M1737.6 392.6h0M1720.9 395.1h0M1714.8 386.2h0M1721.7 380h0M1721.7 387.4h0M1704.5 397.7h0M1658.7 393.5h0M1725.7 396.4h0M1728.6 379.1h0M1687.3 388.7h0M1720.8 390.3h0M1731.4 392.3h0M1689.8 380.5h0M1723.8 377.9h0M1718.4 383.8h0M1717.1 394.8h0M1699.3 385.8h0M1710.1 392.5h0M1699.8 392.5h0M1728.3 393.9h0M1709.4 377.9h0M1720.6 388.2h0M1704.2 379.4h0M1711.7 379.9h0M1749.7 378.3h0M1711.2 388.9h0M1732.1 391.9h0M1700.1 384h0M1742.3 386.3h0M1717.7 394.2h0M1712.8 380.6h0M1741 392.5h0M1704.4 387h0M1712.3 379.6h0M1683.3 376.4h0M1724.3 389.9h0M1694.8 379.6h0M1729.3 385.4h0M1726.2 397.3h0M1692.4 392.9h0M1693.1 390.7h0M1741 385.9h0M1715.9 391.7h0M1755.2 388.1h0M1747.8 389.2h0M1706.2 394.1h0M1751.7 383.9h0M1692.7 392.7h0M1738.8 377.4h0M1705 397.8h0M1714.3 391.7h0M1732.7 396h0M1721.9 378h0M1731.7 379.3h0M1749.1 384.4h0M1717.4 382h0M1722.1 395h0M1703.8 393.7h0M1733.1 389.9h0M1716.2 381.6h0M1723.5 391.3h0M1721.1 383h0M1727.3 383h0M1731.2 393.2h0M1758 395h0M1721.2 393.8h0M1693.3 390.9h0M1738.1 396.3h0M1729.2 395.2h0M1735.5 389.3h0M1690.7 379.3h0M1724.6 384.8h0M1737.9 388.3h0M1730.8 410.9h0M1748.4 400.7h0M1741.7 415.4h0M1722.2 403.4h0M1736.9 414.9h0M1729.5 403.4h0M1729.7 398.6h0M1681.9 402.6h0M1702 404.5h0M1736.9 416.4h0M1744.8 398.2h0M1737.7 416.5h0M1741.6 400.1h0M1731.9 418.3h0M1731.7 404.9h0M1733.8 409.4h0M1749 418.8h0M1728.9 420.4h0M1738 412.7h0M1753.7 407.6h0M1748.6 419.7h0M1739.4 405.9h0M1727.5 406.1h0M1741.3 412.8h0M1710.6 414.5h0M1733.6 416.6h0M1740.4 407.1h0M1719.5 401.3h0M1722.9 417.8h0M1725.9 401.7h0M1741.6 417.4h0M1735.9 415h0M1692.9 402.1h0M1730.3 404.7h0M1729 408.8h0M1733.5 413.9h0M1724.7 414h0M1701.2 399.4h0M1739.2 398.2h0M1726.1 409.2h0M1736 419.5h0M1698.9 402.3h0M1744.5 411.1h0M1711.4 413.3h0M1728.7 413.3h0M1734.9 414.3h0M1746.1 417.7h0M1719 400.4h0M1745.7 413.1h0M1739.6 401.1h0M1737.4 408.8h0M1737.2 413h0M1733.6 410.4h0M1738.4 413.8h0M1746.2 416.2h0M1747.4 411.4h0M1754.4 409.1h0M1737.7 401.6h0M1734.5 415.4h0M1717.8 420.1h0M1747.7 409.6h0M1742 410.9h0M1746.1 415.2h0M1758.5 413.6h0M1746 412.2h0M1717.3 403.8h0M1754.4 417h0M1729.2 406.5h0M1752 407.8h0M1750.4 403.2h0M1742.5 420.2h0M1722.6 403.3h0M1758.5 413.7h0M1742.1 415h0M1755 404.2h0M1746.4 398.8h0M1741.2 418.4h0M1750.9 406.8h0M1749.1 416.2h0M1740.9 412.4h0M1720.3 407h0M1744 407.4h0M1732.8 414.6h0M1712.8 415h0M1723.9 413h0M1719.8 417.3h0M1715.5 403.9h0M1756.1 414.5h0M1722.3 404.1h0M1719.8 404.1h0M1735.5 414.6h0M1736.9 410.1h0M1718.6 416.1h0M1745 417.7h0M1747.2 411.7h0M1721.6 407.7h0M1746.6 416.1h0M1724.7 414h0M1725.1 399.5h0M1742.4 401.2h0M1739.6 398.3h0M1747.7 403.9h0M1721.9 407.3h0M1739.9 399h0M1756.6 417.6h0M1700.5 398.7h0M1729.9 407.4h0M1729.4 403.8h0M1727.1 407h0M1744.9 413.6h0M1733.8 413.4h0M1730 409.5h0M1722 409h0M1728.9 398.2h0M1736 399.4h0M1743 419.4h0M1719.1 408h0M1729.9 420h0M1711.3 406.3h0M1720.2 404.1h0M1730.3 400h0M1753.6 410.7h0M1722.4 400.6h0M1742.4 415.9h0M1737 403.4h0M1742.9 418.7h0M1720.4 411.6h0M1733.4 411.9h0M1733.7 414.3h0M1715.9 398.3h0M1744.3 414.6h0M1714.5 401.7h0M1747.8 418.1h0M1736.7 402.3h0M1724.4 403h0M1726.3 411.7h0M1729.8 407.2h0M1738.2 410.3h0M1717.6 399.7h0M1703 399.3h0M1746.4 418.8h0M1736.7 415.7h0M1719.5 409.8h0M1712.1 400.7h0M1732.9 408.9h0M1740.4 408.7h0M1720.9 406.1h0M1732.6 416h0M1758.8 401.3h0M1749.8 401.6h0M1723.5 398.2h0M1745 405.3h0M1719.9 405h0M1735.9 419.8h0M1744.5 401.4h0M1723.6 414.9h0M1729.5 401.3h0M1748.5 398.4h0M1735.4 408.8h0M1731.6 413.3h0M1731.1 416.1h0M1733.5 400.2h0M1725 401.9h0M1727.8 416.6h0M1731.3 406.1h0M1731.9 410.1h0M1734.5 412.4h0M1737 403h0M1743.9 417.6h0M1737.2 417.5h0M1716.8 410.8h0M1734.9 411.8h0M1714 412.8h0M1718.6 398.8h0M1758.6 407.3h0M1733.2 409.2h0M1711 401.5h0M1699.7 418.1h0M1733 417.7h0M1727.4 417.9h0M1743 410.5h0M1754.2 398.5h0M1721.7 416.9h0M1713.9 399.5h0M1723.3 404h0M1721.5 413.9h0M1726.1 398.6h0M1724.1 418.2h0M1742.4 409.6h0M1748.9 423.1h0M1748.1 435h0M1744.1 424.6h0M1755 432.1h0M1753.1 439.4h0M1714.6 423.1h0M1745.9 423.8h0M1756.8 439.9h0M1760.3 430.5h0M1727.3 421.7h0M1746.3 431.9h0M1758.4 432.9h0M1758.4 437.9h0M1752.3 426.6h0M1753.1 431.7h0M1722.2 421.6h0M1733.1 424.3h0M1755.4 438.5h0M1754.5 431h0M1740.9 429.3h0M1754 435.2h0M1745.9 430.1h0M1752.9 435.5h0M1726.9 421.3h0M1747.5 435.5h0M1739.2 425.6h0M1724.4 421.2h0M1775.9 432.4h0M1762.1 422.2h0M1741.7 429.7h0M1741.2 430.6h0M1746.8 436.2h0M1752.1 427.5h0M1746.5 434.2h0M1736.5 422.7h0M1741.4 431.1h0M1731.4 421.6h0M1744.4 422.6h0M1745.9 438.8h0M1755.3 422.2h0M1748.7 423.3h0M1738.2 423.1h0M1768.3 439.5h0M1756 425.4h0M1727.8 427.3h0M1750.3 424.7h0M1749.3 429.4h0M1738.9 424.2h0M1750.7 422.4h0M1750.3 423.7h0M1751.8 426.2h0M1745.3 426.1h0M1757.3 425.1h0M1748.1 429.7h0M1757.9 431.8h0M1742.3 428.3h0M1738.8 428.5h0M1747.3 426h0M1742.6 429h0M1749.7 437.6h0M1734.3 425.1h0M1760 429.1h0M1752.8 436.3h0M1749.8 426.5h0M1725.8 423.1h0M1737.9 425.2h0M1762.5 435.8h0M1753 430.1h0M1755.6 425.3h0M1752.3 437.9h0M1747.7 431.3h0M1748 425.4h0M1743.3 436.2h0M1740.6 430.9h0M1753.9 438.9h0M1742.8 423.3h0M1740.1 424.6h0M1739.8 428.5h0M1740.2 433.3h0M1747.2 426.4h0M1734.2 426.7h0M1763.5 433.6h0M1755.6 428.9h0M1759 439.3h0M1763.1 429.4h0M1761.5 432.8h0M1742.5 421.8h0M1733.8 426.2h0M1747.5 430.9h0M1766.9 439.2h0M1758.7 439.2h0M1756.1 439.3h0M1750.7 432.6h0M1752.8 426.9h0M1764.7 433.1h0M1752.2 423.3h0M1752.4 427.4h0M1750.6 421.5h0M1751.9 434.5h0M1755.4 431.4h0M1765.2 434.8h0M1758.6 431.6h0M1741.8 424.5h0M1770.7 433h0M1741.1 434.5h0M1720.9 421.6h0M1748.7 430.6h0M1751.5 435.8h0M1765.6 437.4h0M1752.7 423.7h0M1744.5 422.5h0M1757.2 433.3h0M1745.5 422.6h0M1744.7 427.4h0M1755.9 434.3h0M1742.7 428.5h0M1756.1 432.7h0M1754 439.5h0M1745.2 429h0M1754.4 427.2h0M1757.9 436.4h0M1753.8 439.5h0M1759 431.8h0M1735.5 425.2h0M1745.6 435h0M1768.3 439.9h0M1750.8 431.8h0M1758.7 430.4h0M1738.6 421.6h0M1747.7 425.5h0M1767 436.9h0M1749.4 424.8h0M1754.9 440.8h0M1755.4 440.5h0M1760.6 440.3h0M1760.4 442.5h0M1760.1 442.9h0M1779 443.1h0M1756.8 440.2h0M1746.6 441.8h0M1770.5 440.6h0M1754.2 440.9h0M1761.1 442.7h0M1757.6 441.7h0M1755.8 442.3h0M1757.9 441.8h0M1763.8 444h0M1757.1 442.2h0M1761 440h0M1792.8 204.5h0M1789.8 214.3h0M1809 197.2h0M1809.8 211.2h0M1826.1 254.6h0M1838.9 255.4h0M1817.6 238.3h0M1793.1 253.1h0M1805.4 248.2h0M1815.8 233.2h0M1785.5 239.2h0M1758.3 228.1h0M1781.7 284h0M1818.1 264.8h0M1814.3 280.6h0M1769.6 280.9h0M1819.5 279h0M1818.2 272.2h0M1832 270.7h0M1788 282.4h0M1792.4 286.3h0M1839.5 266.8h0M1804.9 272.4h0M1784.2 283.7h0M1785.4 272.8h0M1816.2 309.9h0M1796 306.7h0M1822 292.1h0M1805.7 303.4h0M1796.1 300.3h0M1803.7 312.7h0M1792.4 298.7h0M1799.3 306.1h0M1794.5 294.2h0M1812.4 302h0M1830.6 290.9h0M1784.9 304h0M1787.8 306h0M1800.5 299.7h0M1787.2 291.9h0M1781.9 307.1h0M1791.4 291.5h0M1789.8 312.1h0M1805.3 303.8h0M1811.8 299.3h0M1798.8 312h0M1819.6 296.1h0M1776.2 305.9h0M1785.7 310.5h0M1784 312.8h0M1792.1 298.6h0M1809.6 306.7h0M1796.1 299.7h0M1791.8 309.9h0M1785.7 338.2h0M1817.8 337.9h0M1792.7 346h0M1779.5 333h0M1789.1 321.2h0M1789.2 330.8h0M1786.8 314.6h0M1798.5 321.7h0M1792.8 345.8h0M1800.1 329.9h0M1791.3 318.7h0M1807.2 345h0M1785.4 325.5h0M1789.1 344h0M1797.5 320.1h0M1805.2 315.9h0M1806 315.5h0M1793 334h0M1793.2 329.9h0M1790.8 345.2h0M1793.5 315.1h0M1785.5 336.5h0M1806.8 342.9h0M1779.6 333.2h0M1790.1 341.3h0M1787.4 343.9h0M1799.8 321.1h0M1785.5 320.5h0M1791.2 316.2h0M1802.5 343.4h0M1783 338h0M1802.9 330.5h0M1792.7 334h0M1779.9 326.7h0M1791.2 341.1h0M1782.2 316.2h0M1783.8 323.8h0M1795.9 329.4h0M1788.2 329.6h0M1796.5 333.6h0M1796.9 318h0M1793.5 331.8h0M1800.6 327.6h0M1791.7 343.7h0M1786.3 341.7h0M1786.9 324.8h0M1803 322.1h0M1785.9 338.9h0M1788.9 334.5h0M1803.9 339.6h0M1793.4 335.3h0M1788.9 323.2h0M1789.6 324.1h0M1784.1 344.1h0M1784.3 317.3h0M1779.8 341h0M1795.1 329.3h0M1798.4 335.9h0M1793.5 343h0M1785.7 317.3h0M1780.2 330.4h0M1786.6 361.2h0M1794.6 369.6h0M1797.3 371.6h0M1794.1 378.2h0M1784.2 368.8h0M1784.6 363.8h0M1783.3 363h0M1794.6 374.3h0M1781.4 365.5h0M1784.2 369.7h0M1779.9 355.6h0M1780.9 364h0M1793.8 380.2h0M1794.3 361.5h0M1791.7 350.8h0M1781.1 373.3h0M1783.1 372.5h0M1790.9 360.4h0M1777 359.6h0M1778.4 367.5h0M1793.7 373.6h0M1805.9 359.8h0M1787.8 357.3h0M1795.3 354.4h0M1795.3 378.3h0M1797.6 363.9h0M1792.7 378.9h0M1777.5 361.2h0M1797.8 369.6h0M1775.2 375h0M1793.7 365.6h0M1791.2 352.1h0M1807.5 370.9h0M1782.5 354.2h0M1784.3 348.9h0M1792.6 369.9h0M1776.4 373.1h0M1802.4 359.3h0M1802.2 377.4h0M1776.9 367.3h0M1801.6 353.7h0M1797.9 347.5h0M1780.8 373.2h0M1791.4 370h0M1787.2 355.6h0M1787.3 374.6h0M1785 358.2h0M1795.4 350.7h0M1791.9 377.9h0M1780.2 369.4h0M1784.1 380.9h0M1819.7 354.1h0M1783 374.6h0M1797.7 352.5h0M1790.7 371.2h0M1804.1 359.1h0M1785.9 372.3h0M1786.7 359.1h0M1793.1 361h0M1788.5 378.7h0M1784.2 364.6h0M1796 361.8h0M1790.7 375.9h0M1782.9 366.9h0M1781.2 354.4h0M1786 357.3h0M1793.7 379.1h0M1789.4 376.9h0M1781.8 368.5h0M1782.5 359h0M1781.2 360h0M1795.3 377h0M1787.9 353h0M1787.1 376.2h0M1800.1 359.1h0M1787.1 368.1h0M1796.7 367.7h0M1796.1 361.8h0M1795.5 371.1h0M1790.6 367.7h0M1777.2 361.8h0M1787.3 357.8h0M1780.9 363.5h0M1784.6 367.5h0M1777.7 378.7h0M1793.5 373.3h0M1787.7 349.7h0M1777.6 362.3h0M1787.8 360.4h0M1786.2 353.1h0M1793.5 378.2h0M1789.2 354.7h0M1792.1 358.4h0M1792.6 361.3h0M1782.3 359.5h0M1789.3 377.5h0M1796.8 351.1h0M1784.6 369.3h0M1781.3 369.1h0M1794.8 380h0M1782.8 349.9h0M1776.3 380.6h0M1777 407.5h0M1786.2 389.8h0M1783.6 395.6h0M1781 404h0M1773 393.7h0M1772.1 403.2h0M1781 382h0M1775.3 382.9h0M1782.8 397h0M1781.7 407.9h0M1790.3 385.6h0M1777.1 390.3h0M1777.6 413h0M1774.8 393.8h0M1782.5 407.2h0M1795.9 391.6h0M1778.2 389.5h0M1788.1 392.7h0M1786.3 412.6h0M1783.3 397h0M1820.2 387.9h0M1777.1 385h0M1778 408.4h0M1783.3 393.9h0M1784.7 402.1h0M1781.8 386.8h0M1782.3 396.5h0M1781.5 410.5h0M1785.5 391.5h0M1790.9 409.4h0M1785.5 414h0M1780.7 403.2h0M1796.1 391.5h0M1785.7 395.6h0M1785 381.8h0M1781.5 405.2h0M1795 398.1h0M1776.9 412.3h0M1798.6 392.7h0M1783.3 408.5h0M1796.4 401.1h0M1774.6 410.3h0M1796.3 393.3h0M1782.7 390.1h0M1780.3 409.1h0M1790.5 404.1h0M1795.3 399h0M1773.5 409.9h0M1788.7 381h0M1776.2 413.9h0M1781.7 405.4h0M1786.4 394.2h0M1781.5 411.4h0M1773.8 406.2h0M1787 400.3h0M1775.2 393.3h0M1774.5 404.1h0M1794.6 390h0M1783.6 398.9h0M1789.4 392.7h0M1789.8 414.6h0M1787.8 393.2h0M1780.9 406.2h0M1783.3 385.1h0M1786.2 399.1h0M1774.2 412.2h0M1776.7 392.9h0M1787.2 405.2h0M1795.4 410.4h0M1785 412.7h0M1778.1 410.1h0M1777.4 392.2h0M1771.5 408.9h0M1789.6 381.6h0M1776.7 386.1h0M1780.9 405.6h0M1786.7 383.1h0M1781.6 383.6h0M1781.3 400.2h0M1793.9 397.2h0M1793.9 408.5h0M1776.7 409.6h0M1783.7 395.9h0M1777.8 397.7h0M1780 408.3h0M1778.8 402.2h0M1795.3 396.3h0M1775.5 401.3h0M1798.9 414.9h0M1793.1 384.3h0M1774.3 402.1h0M1779.7 397.3h0M1779.7 386.2h0M1774.6 391.4h0M1778.1 412.5h0M1786.9 393.3h0M1774.4 408.4h0M1775.3 391.8h0M1800.2 381.6h0M1787 406.2h0M1772.9 413.6h0M1806 382.5h0M1789.3 392.9h0M1789 396.9h0M1784.4 422.8h0M1774.2 434.5h0M1770.4 419.4h0M1776.2 424.7h0M1778.9 417.6h0M1775.2 424.9h0M1770.6 427.2h0M1767.8 429.3h0M1770.3 432h0M1771.9 420.3h0M1772.7 433.2h0M1780.7 415.7h0M1779.8 432h0M1783.2 433.5h0M1780.3 431.5h0M1782.4 417.4h0M1778.3 424.3h0M1773.7 418.8h0M1771 424.5h0M1774.1 432.7h0M1777.9 431.5h0M1775.3 415.9h0M1781.4 419.2h0M1786.8 416.2h0M1777.1 428.9h0M1781.8 415.7h0M1774.6 426.4h0M1779.5 421.4h0M1782.1 423.9h0M1771.9 415.6h0M1778.2 415.3h0M1772.9 435h0M1769 433.2h0M1787.6 419h0M1771.4 420.4h0M1774 431.8h0M1779.6 430.9h0M1776 423h0M1788.7 416.4h0M1785.9 419h0M1787.3 424.3h0M1779.8 429.1h0M1778.7 431.1h0M1771.6 430.5h0M1781 428.5h0M1775.1 426.6h0M1776 422.6h0M1770.8 417.8h0M1774.4 423.9h0M1771.6 428.4h0M1773.4 431.2h0M1775.1 417.8h0M1781.4 415.1h0M1770.5 439.8h0M1777.5 437.5h0M1776.7 439.6h0M1766.2 435.7h0M1775.8 438.8h0M1778.2 435.5h0M1771.2 435.4h0M1767.4 437.8h0M1769.2 436.4h0M1769.3 436.6h0M1779.7 436.4h0M1778.4 437.4h0M1770.9 439.7h0M1778.2 435.4h0M1780.1 437.1h0M1769.5 438.6h0M1656 86h0M1669 98h0M1680 96h0M1681 101h0M1712 99h0M1640 112h0M1643 114h0M1662 121h0M1684 120h0M1685 116h0M1715 122h0M1843.6 204.4h0M1850.6 208.9h0M1866.4 209.4h0M1894.2 210.3h0M1834.4 224.7h0M1871.9 233.1h0M1876.7 225.3h0M1928.9 228.1h0M1817.8 246.9h0M1825.6 251.7h0M1828.3 254.4h0M1810.3 257.5h0M1844.2 243.6h0M1847.5 251.1h0M1858.9 243.3h0M1862.8 251.7h0M1888.1 247.5h0M1898.3 253.1h0M1823.3 267.8h0M1838.1 265h0M1843.6 263.6h0M1858.9 264.4h0M1877 262.2h0M1883.6 260.3h0M1888.1 262.8h0M1887.8 265.6h0M1897.5 268.3h0M1811.7 273.9h0M1824.2 273.3h0M1824.7 278.3h0M1896.4 276.1h0M1811.7 281.1h0M1808.3 286.4h0M1821.4 285h0M1901.9 288.1h0M1838.1 301.7h0M1856.7 303.9h0M1881.7 299.7h0M1815 311.4h0M1831.1 317.2h0M1841.9 322.8h0M1880.3 319.2h0M1894.7 320.6h0M1891.4 327.2h0M1855.8 338.1h0M1869.2 338.1h0M1874.2 338.1h0M1886.7 340.3h0M1830.3 344.4h0M1828.9 363.9h0M1828.9 371.7h0M1828.9 388.9h0M1831.1 389.7h0M1945 147.5h0M1969.2 159.2h0M1908 196.7h0M1880.3 172.5h0M1641.3 111.9h0M1644.5 114.7h0M1681.8 117.9h0M1683.8 123.8h0M1685 127.8h0M1662.4 121h0M1653.3 129.8h0M1664 129.8h0M1671.1 132.9h0M1657.2 134.9h0M1672.3 139.7h0M1689 142.9h0M1701.7 142.9h0M1633.4 137.7h0M1625.5 143.7h0M1649.3 141.7h0M1639.4 147.6h0M1651.3 148.8h0M1663.2 146.8h0M1669.9 148h0M1675.1 147.6h0M1677.9 150.4h0M1661.2 151.6h0M1574.7 146.4h0M1603.7 153.6h0M1621.5 155.6h0M1657.2 155.6h0M1687.8 155.6h0M1698.9 152.4h0M1712.8 159.5h0M1588.6 160.7h0M1604.4 164.7h0M1625.5 163.5h0M1638.6 162.3h0M1650.5 161.5h0M1667.1 164.3h0M1679 164.3h0M1687.8 164.7h0M1696.9 162.7h0M1628.3 169.4h0M1641.3 172.6h0M1631.4 174.6h0M1645.3 170.6h0M1667.1 172.6h0M1675.9 172.2h0M1681 167.5h0M1686.2 170.6h0M1692.9 172.6h0M1698.1 170.6h0M1702.9 171.4h0M1589.8 173.4h0M1598.9 178.2h0M1603.7 177.4h0M1617.5 178.6h0M1633.4 179.4h0M1640.6 176.6h0M1651.3 178.6h0M1661.2 176.6h0M1671.1 179.4h0M1679 178.2h0M1686.2 180.6h0M1692.1 179.4h0M1698.9 179.4h0M1712.8 176.6h0M1720.7 181.3h0M1728.7 175.4h0M1623.5 185.3h0M1633.4 187.3h0M1663.2 185.3h0M1650 183h0M1676 186h0M1690 187h0M1705 186h0M1612 188h0M1645 190h0M1668 191h0M1700 192h0M1717 190h0M1911.4 70.5h0" stroke="#c0c0c0" stroke-width="5.40" stroke-linecap="round" fill="none"/>
<path d="M692 208.3h0M680.6 240.8h0M708 284h0M726.2 321.1h0M737.2 410h0M715.4 341.7h0M718.5 347.5h0" stroke="#c2c2c2" stroke-width="5.40" stroke-linecap="round" fill="none"/>
<path d="M402.1 236.8h0M414.5 236.8h0M409.8 241.9h0M368.8 265.9h0M383.5 265.1h0M406.2 265.1h0M429.5 257.7h0M415.3 268.5h0M419.6 275.5h0M377.9 287.9h0M372.7 295.6h0M390 303.1h0M371.1 310.3h0M393.3 311.1h0M400.3 314.9h0M362.9 320.1h0M451.9 302h0M312.1 334h0M411.2 348.6h0M418.4 153.8h0M414 187.1h0M324.5 362.6h0M346.2 384h0M321.9 394.8h0M333.8 393.8h0M312.1 406.9h0M332.6 405.5h0M287.2 437.2h0M270.3 411.8h0M382.9 364h0M399.3 361.9h0M395 384h0M220.4 343.7h0M237.6 352.2h0M243.6 355.6h0M199 376.9h0" stroke="#e1262c" stroke-width="7.60" stroke-linecap="round" fill="none"/>
<path d="M905.3 198.3h0M901.1 210h0M869.7 241.4h0M865.6 243.3h0M889.2 250.8h0M914.4 251.1h0M899.7 262.2h0M920.6 262.8h0M850.3 270.3h0M880.3 278.9h0M898.9 277.5h0M907.3 287.8h0M875.3 294.8h0M931.6 301.2h0M924.2 306.4h0M853.3 307.8h0M870.6 309.7h0M829.7 330.6h0M871.4 330.8h0M882.5 338.3h0M812.8 342h0M848.9 350.8h0M857.5 347.5h0M869.2 349.4h0M832.2 358.3h0M804.7 373.9h0M823.4 385.7h0M799.3 393.2h0M831.6 406.3h0M816.3 412.4h0M725 200.6h0M668.3 264.7h0M686.1 300.9h0M719.2 330.6h0" stroke="#e1262c" stroke-width="7.60" stroke-linecap="round" fill="none"/>
<path d="M1399.4 113.9h0M1405.6 153.6h0M1414.4 186.9h0M1400.6 232.5h0M1413.3 236.7h0M1439.2 237.2h0M1357.5 247.2h0M1361.7 265h0M1393.6 272.5h0M1358.3 273.9h0M1343.1 276.7h0M1347.8 276.1h0M1361.1 280.3h0M1373.1 294.2h0M1410 292h0M1240.3 248.3h0M1229.6 304.3h0M1214.8 312.7h0M1187.5 341.7h0M1225.2 358.2h0M1263.3 416.6h0M1276.9 441.2h0M1298.8 406.5h0M1294.6 421h0M1322.5 411.3h0" stroke="#e1262c" stroke-width="7.60" stroke-linecap="round" fill="none"/>
<path d="M1889.2 135h0M1897.8 144.7h0M1886.4 157.8h0M1838.6 173.6h0M1930.8 181.4h0M1865 195.4h0M1883.4 199h0M1846.4 234.4h0M1881.7 232.5h0M1925 233.9h0M1835.8 246.9h0M1833.9 255.3h0M1855.6 258.1h0M1908.6 254.7h0M1910 274.7h0M1896.4 294.7h0M1864.4 313.7h0M1883.1 325.4h0M1921.1 325.2h0M1879.7 331.4h0M1856.1 351.7h0M1875.6 355h0M1848.3 362.2h0M1842.2 373.1h0M1839.4 374.4h0M1815.5 407h0M1691.7 277.5h0M1675.9 312h0M1667.5 322.8h0M1697.1 321.5h0M1692.2 387.9h0M1750.6 411.1h0M1774.6 426.1h0" stroke="#e1262c" stroke-width="7.60" stroke-linecap="round" fill="none"/>
<path d="M386.6 281.4h0M344.8 300.5h0M450.6 296.6h0M173.6 216.2h0M172.9 229.1h0M218 302.4h0M232.2 298.8h0M231.4 307.5h0M206.7 334.7h0M199 373.4h0M252.1 420.5h0M267.3 434.2h0" stroke="#ecde2b" stroke-width="7.60" stroke-linecap="round" fill="none"/>
<path d="M851.1 211.1h0M838.1 305.8h0M663.3 174.2h0M693.1 250.6h0M687.7 277.5h0M747.5 268.9h0M690.8 323.8h0M698.6 325.9h0M696.9 347.5h0M739.7 346.4h0M736.4 350.8h0M745.8 370.4h0M724.3 381.5h0M724 389h0M761.1 404.8h0M775.9 441.8h0" stroke="#ecde2b" stroke-width="7.60" stroke-linecap="round" fill="none"/>
<path d="M1404.7 166.4h0M1405 219.7h0M1354.2 248.3h0M1186.4 210.6h0M1160 254.4h0M1182.8 250.8h0M1183.8 284.7h0M1227 298.3h0M1220.5 305.3h0M1218.8 308h0M1173 368.7h0M1254.2 381.9h0M1276 434.6h0" stroke="#ecde2b" stroke-width="7.60" stroke-linecap="round" fill="none"/>
<path d="M1847.5 298.9h0M1630.8 198.3h0M1716.9 259.2h0M1687.5 264.7h0M1664.4 275.3h0M1728.1 272.5h0M1683.6 307h0M1728.2 313.1h0M1669.1 343.4h0M1717.4 339.7h0M1732 382.8h0M1715.9 393.3h0M1736.6 418.3h0M1750.6 418.7h0" stroke="#ecde2b" stroke-width="7.60" stroke-linecap="round" fill="none"/>
<path d="M301.4 373.6h0M316 405h0M211.5 275.3h0M204.6 284.3h0M152.2 311.4h0M203.7 329.8h0M227.3 348.9h0M256.2 405.6h0" stroke="#f0832c" stroke-width="7.60" stroke-linecap="round" fill="none"/>
<path d="M896.1 256.1h0M855 291.1h0M828.2 296.1h0M817.8 327.2h0M657.8 195.3h0M704.4 250h0M671.7 264.4h0M615.3 273.1h0M696.9 313.1h0M731.3 344.1h0M720.5 399.9h0M754.3 422.1h0" stroke="#f0832c" stroke-width="7.60" stroke-linecap="round" fill="none"/>
<path d="M1380 192.4h0M1371.4 303.9h0M1148.8 198.2h0M1190.3 240.6h0M1214.7 249.4h0M1230.6 261.9h0M1207 273.9h0M1207.8 286.8h0M1207 325.5h0M1211.1 337.3h0M1247.5 358.6h0M1293.7 372.7h0M1250.8 414.9h0M1253 421h0M1258.2 419.4h0M1261.8 429.7h0M1262.7 435.1h0" stroke="#f0832c" stroke-width="7.60" stroke-linecap="round" fill="none"/>
<path d="M1903.1 205.5h0M1881.1 216.3h0M1918.3 274.7h0M1857.2 288.1h0M1641.9 241.1h0M1653.1 246.7h0M1640 252.8h0M1717 308.7h0M1707.9 342.4h0M1726.9 411.6h0M1741.7 426.8h0M1759.5 441.8h0M1774.5 432h0" stroke="#f0832c" stroke-width="7.60" stroke-linecap="round" fill="none"/>
<path d="M243.45 19.30 L243.44 22.03 L243.43 24.76 L243.42 27.49 L243.41 30.22 L243.40 32.95 L243.38 35.67 L243.37 38.40 L243.36 41.12 L243.35 43.85 L243.33 46.57 L243.32 49.29 L243.31 52.02 L243.29 54.74 L243.28 57.46 L243.26 60.17 L243.25 62.89 L243.23 65.61 L243.22 68.32 L243.20 71.03 L243.18 73.75 L243.17 76.46 L243.15 79.17 L243.13 81.88 L243.11 84.58 L243.09 87.29 L243.07 89.99 L243.05 92.69 L243.03 95.39 L243.01 98.09 L242.98 100.79 L242.96 103.48 L242.93 106.18 L242.91 108.87 L242.88 111.56 L242.86 114.25 L242.83 116.93 L242.80 119.62 L242.77 122.30 L242.74 124.98 L242.71 127.65 L242.68 130.33 L242.65 133.00 L242.62 135.67 L242.58 138.34 L242.55 141.00 L242.51 143.66 L242.47 146.32 L242.43 148.97 L242.39 151.63 L242.35 154.28 L242.31 156.92 L242.27 159.56 L242.22 162.20 L242.17 164.84 L242.13 167.47 L242.08 170.10 L242.03 172.72 L241.98 175.34 L241.92 177.96 L241.87 180.57 L241.81 183.18 L241.75 185.78 L241.69 188.38 L241.63 190.97 L241.57 193.56 L241.50 196.14 L241.44 198.72 L241.37 201.29 L241.30 203.86 L241.22 206.42 L241.15 208.97 L241.07 211.52 L240.99 214.06 L240.91 216.60 L240.82 219.13 L240.73 221.65 L240.64 224.16 L240.55 226.67 L240.46 229.17 L240.36 231.66 L240.26 234.15 L240.15 236.62 L240.04 239.09 L239.93 241.55 L239.82 244.00 L239.70 246.44 L239.58 248.87 L239.46 251.29 L239.33 253.70 L239.20 256.10 L239.06 258.49 L238.93 260.86 L238.78 263.23 L238.63 265.58 L238.48 267.93 L238.33 270.26 L238.16 272.57 L238.00 274.88 L237.83 277.17 L237.65 279.45 L237.47 281.71 L237.28 283.96 L237.09 286.20 L236.89 288.41 L236.69 290.62 L236.48 292.81 L236.27 294.98 L236.04 297.13 L235.82 299.27 L235.58 301.39 L235.34 303.49 L235.09 305.58 L234.83 307.65 L234.57 309.69 L234.29 311.72 L234.01 313.73 L233.73 315.72 L233.43 317.69 L233.12 319.64 L232.81 321.56 L232.48 323.47 L232.15 325.35 L231.81 327.22 L231.45 329.05 L231.09 330.87 L230.71 332.67 L230.33 334.44 L229.93 336.19 L229.52 337.91 L229.10 339.61 L228.67 341.29 L228.22 342.94 L227.76 344.56 L227.29 346.17 L226.80 347.75 L226.30 349.30 L225.78 350.83 L225.25 352.33 L224.70 353.81 L224.14 355.26 L223.56 356.68 L222.96 358.09 L222.34 359.46 L221.71 360.81 L221.06 362.14 L220.39 363.44 L219.70 364.71 L218.98 365.96 L218.25 367.19 L217.50 368.39 L216.72 369.56 L215.92 370.72 L215.10 371.84 L214.25 372.94 L213.38 374.02 L212.48 375.08 L211.55 376.11 L210.60 377.12 L209.62 378.10 L208.61 379.07 L207.57 380.01 L206.50 380.93 L205.40 381.82 L204.27 382.70 L203.10 383.55 L201.90 384.38 L200.66 385.20 L199.39 385.99 L198.08 386.76 L196.73 387.52 L195.34 388.25 L193.91 388.97 L192.43 389.66 L190.92 390.34 L189.35 391.01 L187.75 391.65 L186.09 392.28 L184.38 392.89 L182.63 393.48 L180.82 394.06 L178.96 394.63 L177.05 395.18 L175.08 395.71 L173.05 396.23 L170.96 396.73 L168.81 397.23 L166.59 397.70 L164.31 398.17 L161.96 398.62 L159.54 399.06 L157.06 399.49 L154.49 399.90 L151.86 400.31 L149.14 400.70 L146.34 401.08 L143.46 401.45 L140.50 401.81 L137.45 402.17 L134.31 402.51 L131.07 402.84 L127.74 403.16 L124.32 403.47 L120.79 403.78 L117.15 404.07 L113.41 404.36 L109.56 404.64 L105.59 404.91 L101.51 405.17 L97.31 405.43 L92.98 405.67 L88.52 405.91 L83.94 406.15 L79.21 406.38 L74.35 406.60 L69.35 406.81 L64.19 407.02 L58.89 407.22 L53.42 407.42 L47.80 407.61 M319.96 19.30 L319.97 22.03 L319.98 24.75 L319.99 27.48 L320.00 30.20 L320.01 32.93 L320.02 35.65 L320.04 38.37 L320.05 41.10 L320.06 43.82 L320.07 46.54 L320.09 49.26 L320.10 51.97 L320.11 54.69 L320.13 57.41 L320.14 60.12 L320.16 62.83 L320.17 65.55 L320.19 68.26 L320.21 70.97 L320.22 73.68 L320.24 76.38 L320.26 79.09 L320.28 81.79 L320.30 84.50 L320.32 87.20 L320.34 89.90 L320.36 92.60 L320.38 95.30 L320.40 97.99 L320.42 100.68 L320.45 103.38 L320.47 106.07 L320.50 108.75 L320.52 111.44 L320.55 114.13 L320.58 116.81 L320.60 119.49 L320.63 122.17 L320.66 124.84 L320.69 127.51 L320.72 130.19 L320.76 132.85 L320.79 135.52 L320.82 138.18 L320.86 140.84 L320.90 143.50 L320.93 146.16 L320.97 148.81 L321.01 151.46 L321.05 154.10 L321.10 156.75 L321.14 159.39 L321.18 162.02 L321.23 164.65 L321.28 167.28 L321.33 169.91 L321.38 172.53 L321.43 175.15 L321.48 177.76 L321.53 180.37 L321.59 182.97 L321.65 185.57 L321.71 188.17 L321.77 190.76 L321.83 193.34 L321.90 195.92 L321.97 198.50 L322.03 201.07 L322.11 203.63 L322.18 206.19 L322.25 208.74 L322.33 211.28 L322.41 213.82 L322.49 216.36 L322.58 218.88 L322.67 221.40 L322.76 223.91 L322.85 226.42 L322.94 228.92 L323.04 231.41 L323.14 233.89 L323.24 236.36 L323.35 238.83 L323.46 241.28 L323.57 243.73 L323.69 246.17 L323.81 248.59 L323.93 251.01 L324.06 253.42 L324.19 255.82 L324.33 258.21 L324.47 260.58 L324.61 262.95 L324.76 265.30 L324.91 267.64 L325.06 269.97 L325.22 272.29 L325.39 274.59 L325.56 276.88 L325.73 279.15 L325.91 281.42 L326.10 283.67 L326.29 285.90 L326.49 288.12 L326.69 290.32 L326.90 292.51 L327.11 294.68 L327.33 296.83 L327.56 298.97 L327.79 301.09 L328.03 303.19 L328.28 305.28 L328.54 307.35 L328.80 309.39 L329.07 311.42 L329.35 313.43 L329.64 315.42 L329.93 317.39 L330.24 319.34 L330.55 321.27 L330.87 323.17 L331.20 325.06 L331.55 326.92 L331.90 328.76 L332.26 330.58 L332.63 332.38 L333.02 334.15 L333.41 335.90 L333.82 337.62 L334.24 339.33 L334.67 341.00 L335.11 342.66 L335.57 344.29 L336.04 345.89 L336.52 347.47 L337.02 349.03 L337.54 350.56 L338.06 352.06 L338.61 353.54 L339.17 355.00 L339.74 356.43 L340.34 357.83 L340.95 359.21 L341.58 360.56 L342.23 361.89 L342.89 363.20 L343.58 364.47 L344.29 365.73 L345.01 366.95 L345.76 368.16 L346.53 369.34 L347.33 370.49 L348.15 371.62 L348.99 372.73 L349.85 373.81 L350.74 374.87 L351.66 375.90 L352.61 376.91 L353.58 377.90 L354.58 378.87 L355.61 379.81 L356.68 380.73 L357.77 381.63 L358.90 382.51 L360.05 383.37 L361.25 384.21 L362.47 385.02 L363.74 385.82 L365.04 386.60 L366.38 387.35 L367.76 388.09 L369.18 388.81 L370.64 389.51 L372.15 390.19 L373.70 390.86 L375.29 391.51 L376.94 392.14 L378.63 392.75 L380.37 393.35 L382.16 393.93 L384.00 394.50 L385.90 395.05 L387.86 395.59 L389.87 396.11 L391.95 396.62 L394.08 397.11 L396.28 397.59 L398.54 398.06 L400.87 398.51 L403.26 398.95 L405.73 399.38 L408.27 399.80 L410.89 400.21 L413.58 400.60 L416.35 400.99 L419.21 401.36 L422.14 401.72 L425.17 402.08 L428.28 402.42 L431.49 402.75 L434.79 403.08 L438.19 403.39 L441.69 403.70 L445.29 403.99 L449.00 404.28 L452.81 404.56 L456.74 404.83 L460.79 405.10 L464.95 405.36 L469.24 405.61 L473.66 405.85 L478.20 406.09 L482.88 406.31 L487.70 406.54 L492.66 406.75 L497.76 406.96 L503.02 407.17 L508.43 407.36 L514.00 407.56" stroke="#000" stroke-width="2.3" fill="none"/>
<path d="M741.59 21.10 L741.58 23.84 L741.58 26.59 L741.57 29.33 L741.56 32.07 L741.56 34.81 L741.55 37.55 L741.54 40.29 L741.53 43.03 L741.53 45.77 L741.52 48.50 L741.51 51.24 L741.50 53.98 L741.49 56.71 L741.48 59.45 L741.47 62.18 L741.46 64.91 L741.45 67.64 L741.44 70.38 L741.43 73.11 L741.42 75.84 L741.41 78.56 L741.40 81.29 L741.39 84.02 L741.37 86.74 L741.36 89.47 L741.35 92.19 L741.33 94.91 L741.32 97.63 L741.30 100.35 L741.29 103.07 L741.27 105.79 L741.26 108.51 L741.24 111.22 L741.22 113.93 L741.21 116.64 L741.19 119.35 L741.17 122.06 L741.15 124.77 L741.13 127.47 L741.11 130.18 L741.09 132.88 L741.06 135.58 L741.04 138.27 L741.02 140.97 L740.99 143.66 L740.97 146.35 L740.94 149.04 L740.91 151.73 L740.89 154.41 L740.86 157.09 L740.83 159.77 L740.80 162.45 L740.76 165.12 L740.73 167.79 L740.70 170.46 L740.66 173.12 L740.63 175.78 L740.59 178.44 L740.55 181.09 L740.51 183.75 L740.47 186.39 L740.43 189.04 L740.39 191.68 L740.34 194.31 L740.29 196.94 L740.25 199.57 L740.20 202.19 L740.15 204.81 L740.09 207.43 L740.04 210.04 L739.98 212.64 L739.92 215.24 L739.86 217.83 L739.80 220.42 L739.74 223.00 L739.67 225.57 L739.60 228.14 L739.53 230.71 L739.46 233.26 L739.39 235.81 L739.31 238.35 L739.23 240.89 L739.15 243.42 L739.06 245.94 L738.97 248.45 L738.88 250.95 L738.79 253.44 L738.69 255.93 L738.59 258.40 L738.49 260.87 L738.38 263.33 L738.27 265.77 L738.16 268.21 L738.04 270.63 L737.92 273.05 L737.80 275.45 L737.67 277.84 L737.54 280.22 L737.40 282.58 L737.26 284.94 L737.11 287.27 L736.96 289.60 L736.80 291.91 L736.64 294.21 L736.48 296.49 L736.31 298.75 L736.13 301.00 L735.94 303.23 L735.76 305.45 L735.56 307.65 L735.36 309.83 L735.15 311.99 L734.94 314.13 L734.72 316.26 L734.49 318.36 L734.25 320.45 L734.01 322.51 L733.76 324.56 L733.50 326.58 L733.23 328.58 L732.95 330.55 L732.67 332.51 L732.37 334.44 L732.07 336.35 L731.75 338.23 L731.43 340.09 L731.09 341.93 L730.74 343.74 L730.39 345.52 L730.02 347.28 L729.64 349.01 L729.24 350.72 L728.84 352.40 L728.42 354.05 L727.99 355.67 L727.54 357.27 L727.08 358.84 L726.60 360.39 L726.11 361.90 L725.60 363.39 L725.08 364.85 L724.54 366.28 L723.98 367.68 L723.40 369.05 L722.81 370.40 L722.19 371.72 L721.56 373.01 L720.91 374.27 L720.23 375.51 L719.53 376.72 L718.81 377.90 L718.07 379.05 L717.30 380.18 L716.51 381.28 L715.69 382.35 L714.84 383.40 L713.97 384.42 L713.07 385.42 L712.14 386.39 L711.18 387.34 L710.19 388.26 L709.16 389.16 L708.11 390.03 L707.02 390.88 L705.89 391.71 L704.73 392.51 L703.53 393.30 L702.29 394.06 L701.01 394.80 L699.69 395.52 L698.32 396.22 L696.91 396.90 L695.46 397.56 L693.96 398.21 L692.41 398.83 L690.81 399.43 L689.16 400.02 L687.46 400.59 L685.70 401.15 L683.88 401.68 L682.00 402.20 L680.07 402.71 L678.07 403.20 L676.00 403.68 L673.87 404.14 L671.67 404.58 L669.40 405.02 L667.06 405.44 L664.64 405.85 L662.14 406.24 L659.56 406.62 L656.89 407.00 L654.14 407.36 L651.30 407.70 L648.37 408.04 L645.35 408.37 L642.22 408.69 L639.00 409.00 L635.67 409.29 L632.23 409.58 L628.68 409.86 L625.01 410.13 L621.23 410.40 L617.33 410.65 L613.29 410.90 L609.13 411.13 L604.83 411.37 L600.40 411.59 L595.82 411.81 L591.09 412.02 L586.21 412.22 L581.16 412.42 L575.96 412.61 L570.59 412.79 L565.04 412.97 L559.32 413.15 L553.40 413.31 L547.30 413.48 L541.00 413.63 M808.84 21.10 L808.84 23.84 L808.85 26.58 L808.85 29.32 L808.86 32.06 L808.87 34.80 L808.88 37.54 L808.88 40.28 L808.89 43.02 L808.90 45.76 L808.91 48.49 L808.91 51.23 L808.92 53.97 L808.93 56.70 L808.94 59.43 L808.95 62.17 L808.96 64.90 L808.97 67.63 L808.98 70.36 L808.99 73.09 L809.00 75.82 L809.01 78.55 L809.03 81.27 L809.04 84.00 L809.05 86.72 L809.06 89.45 L809.08 92.17 L809.09 94.89 L809.10 97.61 L809.12 100.33 L809.13 103.05 L809.15 105.76 L809.17 108.48 L809.18 111.19 L809.20 113.90 L809.22 116.61 L809.24 119.32 L809.26 122.03 L809.28 124.74 L809.30 127.44 L809.32 130.14 L809.34 132.84 L809.36 135.54 L809.38 138.24 L809.41 140.93 L809.43 143.62 L809.46 146.31 L809.48 149.00 L809.51 151.69 L809.54 154.37 L809.57 157.05 L809.60 159.73 L809.63 162.40 L809.66 165.08 L809.69 167.75 L809.73 170.41 L809.76 173.08 L809.80 175.74 L809.83 178.39 L809.87 181.05 L809.91 183.70 L809.95 186.34 L809.99 188.99 L810.04 191.63 L810.08 194.26 L810.13 196.89 L810.18 199.52 L810.23 202.14 L810.28 204.76 L810.33 207.37 L810.38 209.98 L810.44 212.58 L810.50 215.18 L810.56 217.77 L810.62 220.36 L810.68 222.94 L810.75 225.52 L810.82 228.08 L810.89 230.65 L810.96 233.20 L811.04 235.75 L811.11 238.29 L811.19 240.83 L811.27 243.35 L811.36 245.87 L811.45 248.38 L811.54 250.88 L811.63 253.38 L811.73 255.86 L811.83 258.34 L811.93 260.80 L812.04 263.26 L812.15 265.71 L812.26 268.14 L812.38 270.57 L812.50 272.98 L812.62 275.38 L812.75 277.77 L812.88 280.15 L813.02 282.51 L813.16 284.87 L813.31 287.20 L813.46 289.53 L813.61 291.84 L813.78 294.13 L813.94 296.41 L814.11 298.68 L814.29 300.93 L814.47 303.16 L814.66 305.38 L814.86 307.57 L815.06 309.76 L815.26 311.92 L815.48 314.06 L815.70 316.19 L815.93 318.29 L816.16 320.38 L816.41 322.44 L816.66 324.48 L816.92 326.50 L817.19 328.50 L817.46 330.48 L817.75 332.44 L818.04 334.37 L818.35 336.28 L818.66 338.16 L818.98 340.02 L819.32 341.86 L819.67 343.67 L820.02 345.45 L820.39 347.21 L820.77 348.94 L821.16 350.65 L821.57 352.33 L821.99 353.98 L822.42 355.61 L822.87 357.21 L823.33 358.78 L823.80 360.32 L824.29 361.84 L824.80 363.32 L825.32 364.78 L825.86 366.22 L826.42 367.62 L826.99 368.99 L827.59 370.34 L828.20 371.66 L828.84 372.95 L829.49 374.22 L830.16 375.45 L830.86 376.66 L831.58 377.84 L832.32 379.00 L833.09 380.13 L833.88 381.23 L834.70 382.30 L835.54 383.35 L836.41 384.37 L837.31 385.37 L838.24 386.34 L839.20 387.29 L840.19 388.21 L841.21 389.11 L842.26 389.99 L843.35 390.84 L844.48 391.67 L845.64 392.47 L846.84 393.26 L848.07 394.02 L849.35 394.76 L850.67 395.49 L852.03 396.19 L853.43 396.87 L854.88 397.53 L856.38 398.17 L857.93 398.80 L859.52 399.40 L861.17 399.99 L862.87 400.56 L864.63 401.12 L866.44 401.65 L868.32 402.18 L870.25 402.68 L872.24 403.17 L874.30 403.65 L876.43 404.11 L878.62 404.56 L880.89 404.99 L883.23 405.41 L885.65 405.82 L888.14 406.22 L890.72 406.60 L893.37 406.97 L896.12 407.34 L898.95 407.68 L901.88 408.02 L904.90 408.35 L908.01 408.67 L911.23 408.98 L914.55 409.28 L917.98 409.57 L921.53 409.85 L925.18 410.12 L928.96 410.38 L932.85 410.63 L936.88 410.88 L941.03 411.12 L945.32 411.35 L949.74 411.58 L954.31 411.79 L959.03 412.00 L963.90 412.21 L968.93 412.40 L974.12 412.60 L979.48 412.78 L985.02 412.96 L990.73 413.13 L996.63 413.30 L1002.71 413.47 L1009.00 413.62" stroke="#000" stroke-width="2.3" fill="none"/>
<path d="M1240.16 24.20 L1240.15 27.14 L1240.14 30.08 L1240.14 33.02 L1240.13 35.96 L1240.12 38.90 L1240.12 41.84 L1240.11 44.78 L1240.10 47.72 L1240.09 50.65 L1240.08 53.59 L1240.08 56.52 L1240.07 59.45 L1240.06 62.39 L1240.05 65.32 L1240.04 68.25 L1240.03 71.18 L1240.02 74.10 L1240.01 77.03 L1240.00 79.96 L1239.99 82.88 L1239.97 85.80 L1239.96 88.73 L1239.95 91.65 L1239.94 94.57 L1239.92 97.48 L1239.91 100.40 L1239.89 103.31 L1239.88 106.23 L1239.86 109.14 L1239.85 112.05 L1239.83 114.95 L1239.82 117.86 L1239.80 120.76 L1239.78 123.66 L1239.76 126.56 L1239.74 129.46 L1239.72 132.36 L1239.70 135.25 L1239.68 138.14 L1239.66 141.03 L1239.64 143.92 L1239.62 146.80 L1239.59 149.68 L1239.57 152.56 L1239.54 155.43 L1239.52 158.30 L1239.49 161.17 L1239.46 164.04 L1239.43 166.90 L1239.40 169.76 L1239.37 172.61 L1239.34 175.46 L1239.31 178.31 L1239.27 181.16 L1239.24 184.00 L1239.20 186.83 L1239.17 189.66 L1239.13 192.49 L1239.09 195.31 L1239.05 198.13 L1239.01 200.94 L1238.96 203.74 L1238.92 206.55 L1238.87 209.34 L1238.82 212.13 L1238.77 214.91 L1238.72 217.69 L1238.67 220.46 L1238.62 223.23 L1238.56 225.98 L1238.50 228.73 L1238.44 231.48 L1238.38 234.21 L1238.32 236.94 L1238.25 239.66 L1238.19 242.37 L1238.12 245.07 L1238.04 247.76 L1237.97 250.44 L1237.89 253.11 L1237.81 255.78 L1237.73 258.43 L1237.65 261.07 L1237.56 263.70 L1237.47 266.32 L1237.38 268.92 L1237.28 271.52 L1237.18 274.10 L1237.08 276.67 L1236.97 279.22 L1236.87 281.76 L1236.75 284.28 L1236.64 286.80 L1236.52 289.29 L1236.39 291.77 L1236.27 294.23 L1236.13 296.68 L1236.00 299.11 L1235.86 301.52 L1235.71 303.91 L1235.56 306.28 L1235.41 308.63 L1235.25 310.97 L1235.08 313.28 L1234.92 315.57 L1234.74 317.84 L1234.56 320.09 L1234.37 322.31 L1234.18 324.51 L1233.98 326.69 L1233.77 328.85 L1233.56 330.98 L1233.34 333.08 L1233.12 335.16 L1232.88 337.21 L1232.64 339.23 L1232.39 341.23 L1232.14 343.20 L1231.87 345.15 L1231.60 347.06 L1231.32 348.95 L1231.03 350.80 L1230.73 352.63 L1230.41 354.43 L1230.09 356.19 L1229.76 357.93 L1229.42 359.64 L1229.07 361.31 L1228.71 362.96 L1228.33 364.57 L1227.94 366.16 L1227.54 367.71 L1227.13 369.23 L1226.70 370.72 L1226.26 372.18 L1225.81 373.61 L1225.34 375.00 L1224.85 376.37 L1224.35 377.71 L1223.84 379.01 L1223.31 380.29 L1222.76 381.53 L1222.19 382.74 L1221.60 383.93 L1221.00 385.09 L1220.37 386.21 L1219.73 387.31 L1219.06 388.38 L1218.38 389.42 L1217.67 390.44 L1216.94 391.43 L1216.18 392.39 L1215.40 393.32 L1214.60 394.23 L1213.77 395.12 L1212.91 395.98 L1212.03 396.82 L1211.11 397.63 L1210.17 398.42 L1209.19 399.18 L1208.19 399.93 L1207.15 400.65 L1206.08 401.35 L1204.98 402.03 L1203.84 402.69 L1202.66 403.33 L1201.44 403.96 L1200.19 404.56 L1198.89 405.14 L1197.55 405.71 L1196.17 406.26 L1194.75 406.79 L1193.28 407.31 L1191.76 407.81 L1190.19 408.30 L1188.57 408.77 L1186.90 409.22 L1185.18 409.66 L1183.40 410.09 L1181.56 410.51 L1179.67 410.91 L1177.71 411.30 L1175.69 411.67 L1173.60 412.04 L1171.45 412.39 L1169.23 412.73 L1166.94 413.07 L1164.57 413.39 L1162.12 413.70 L1159.60 414.00 L1157.00 414.29 L1154.31 414.57 L1151.53 414.84 L1148.67 415.11 L1145.71 415.37 L1142.66 415.61 L1139.51 415.85 L1136.25 416.09 L1132.90 416.31 L1129.43 416.53 L1125.85 416.74 L1122.16 416.95 L1118.35 417.14 L1114.41 417.34 L1110.35 417.52 L1106.16 417.70 L1101.83 417.87 L1097.36 418.04 L1092.75 418.21 L1087.99 418.36 L1083.07 418.52 L1078.00 418.66 L1072.76 418.81 L1067.36 418.95 L1061.78 419.08 L1056.02 419.21 L1050.07 419.34 L1043.94 419.46 L1037.60 419.58 M1297.65 24.20 L1297.65 27.14 L1297.66 30.09 L1297.67 33.03 L1297.67 35.97 L1297.68 38.91 L1297.69 41.85 L1297.70 44.79 L1297.70 47.73 L1297.71 50.67 L1297.72 53.60 L1297.73 56.54 L1297.74 59.47 L1297.75 62.41 L1297.76 65.34 L1297.77 68.27 L1297.78 71.20 L1297.79 74.13 L1297.80 77.06 L1297.81 79.99 L1297.82 82.91 L1297.83 85.84 L1297.84 88.76 L1297.86 91.68 L1297.87 94.60 L1297.88 97.52 L1297.90 100.44 L1297.91 103.36 L1297.93 106.27 L1297.94 109.18 L1297.96 112.10 L1297.97 115.00 L1297.99 117.91 L1298.01 120.82 L1298.02 123.72 L1298.04 126.62 L1298.06 129.52 L1298.08 132.42 L1298.10 135.31 L1298.12 138.20 L1298.14 141.09 L1298.17 143.98 L1298.19 146.87 L1298.21 149.75 L1298.24 152.63 L1298.26 155.50 L1298.29 158.38 L1298.32 161.25 L1298.34 164.12 L1298.37 166.98 L1298.40 169.84 L1298.43 172.70 L1298.46 175.55 L1298.50 178.40 L1298.53 181.24 L1298.57 184.08 L1298.60 186.92 L1298.64 189.75 L1298.68 192.58 L1298.72 195.40 L1298.76 198.22 L1298.80 201.03 L1298.84 203.84 L1298.89 206.64 L1298.93 209.44 L1298.98 212.23 L1299.03 215.02 L1299.08 217.80 L1299.13 220.57 L1299.19 223.33 L1299.25 226.09 L1299.30 228.84 L1299.36 231.59 L1299.42 234.32 L1299.49 237.05 L1299.55 239.77 L1299.62 242.48 L1299.69 245.18 L1299.76 247.88 L1299.84 250.56 L1299.91 253.23 L1299.99 255.90 L1300.08 258.55 L1300.16 261.19 L1300.25 263.82 L1300.34 266.44 L1300.43 269.05 L1300.53 271.64 L1300.63 274.23 L1300.73 276.79 L1300.84 279.35 L1300.94 281.89 L1301.06 284.42 L1301.17 286.93 L1301.29 289.42 L1301.42 291.90 L1301.55 294.36 L1301.68 296.81 L1301.81 299.24 L1301.95 301.65 L1302.10 304.04 L1302.25 306.41 L1302.40 308.77 L1302.56 311.10 L1302.73 313.41 L1302.90 315.70 L1303.08 317.97 L1303.26 320.22 L1303.44 322.45 L1303.64 324.65 L1303.84 326.83 L1304.04 328.98 L1304.26 331.11 L1304.48 333.21 L1304.70 335.29 L1304.94 337.34 L1305.18 339.37 L1305.43 341.36 L1305.68 343.33 L1305.95 345.28 L1306.22 347.19 L1306.51 349.07 L1306.80 350.93 L1307.10 352.76 L1307.41 354.55 L1307.73 356.32 L1308.06 358.05 L1308.41 359.76 L1308.76 361.43 L1309.13 363.08 L1309.50 364.69 L1309.89 366.27 L1310.29 367.82 L1310.71 369.34 L1311.13 370.83 L1311.58 372.29 L1312.03 373.72 L1312.50 375.11 L1312.99 376.48 L1313.49 377.81 L1314.01 379.11 L1314.54 380.39 L1315.09 381.63 L1315.66 382.84 L1316.25 384.02 L1316.86 385.18 L1317.48 386.30 L1318.13 387.40 L1318.80 388.47 L1319.49 389.51 L1320.20 390.52 L1320.93 391.51 L1321.69 392.47 L1322.47 393.40 L1323.28 394.31 L1324.11 395.20 L1324.97 396.05 L1325.86 396.89 L1326.78 397.70 L1327.72 398.49 L1328.70 399.25 L1329.71 399.99 L1330.75 400.72 L1331.82 401.42 L1332.93 402.09 L1334.08 402.75 L1335.26 403.39 L1336.48 404.01 L1337.74 404.61 L1339.04 405.20 L1340.38 405.76 L1341.77 406.31 L1343.20 406.84 L1344.67 407.36 L1346.20 407.86 L1347.77 408.34 L1349.39 408.81 L1351.07 409.27 L1352.80 409.71 L1354.59 410.13 L1356.43 410.55 L1358.33 410.95 L1360.30 411.34 L1362.33 411.71 L1364.42 412.08 L1366.58 412.43 L1368.81 412.77 L1371.11 413.10 L1373.49 413.42 L1375.95 413.73 L1378.48 414.03 L1381.09 414.32 L1383.79 414.60 L1386.58 414.87 L1389.46 415.14 L1392.43 415.39 L1395.49 415.64 L1398.65 415.88 L1401.92 416.11 L1405.29 416.34 L1408.77 416.55 L1412.36 416.76 L1416.07 416.97 L1419.90 417.17 L1423.85 417.36 L1427.93 417.54 L1432.14 417.72 L1436.49 417.89 L1440.98 418.06 L1445.61 418.22 L1450.39 418.38 L1455.33 418.53 L1460.42 418.68 L1465.68 418.82 L1471.11 418.96 L1476.71 419.10 L1482.50 419.23 L1488.47 419.35 L1494.64 419.47 L1501.00 419.59" stroke="#000" stroke-width="2.3" fill="none"/>
<path d="M1733.77 24.50 L1733.77 27.19 L1733.76 29.88 L1733.76 32.57 L1733.76 35.25 L1733.75 37.94 L1733.75 40.63 L1733.74 43.32 L1733.74 46.00 L1733.74 48.69 L1733.73 51.38 L1733.73 54.06 L1733.72 56.75 L1733.72 59.43 L1733.71 62.12 L1733.71 64.80 L1733.70 67.49 L1733.70 70.17 L1733.69 72.85 L1733.69 75.53 L1733.68 78.22 L1733.68 80.90 L1733.67 83.58 L1733.66 86.26 L1733.66 88.94 L1733.65 91.62 L1733.64 94.29 L1733.63 96.97 L1733.63 99.65 L1733.62 102.32 L1733.61 105.00 L1733.60 107.67 L1733.59 110.35 L1733.58 113.02 L1733.57 115.69 L1733.56 118.36 L1733.55 121.03 L1733.54 123.70 L1733.53 126.37 L1733.52 129.04 L1733.51 131.70 L1733.49 134.37 L1733.48 137.03 L1733.47 139.69 L1733.45 142.35 L1733.44 145.01 L1733.42 147.67 L1733.41 150.33 L1733.39 152.98 L1733.38 155.64 L1733.36 158.29 L1733.34 160.94 L1733.32 163.59 L1733.30 166.24 L1733.28 168.88 L1733.26 171.52 L1733.24 174.17 L1733.22 176.81 L1733.20 179.44 L1733.17 182.08 L1733.15 184.71 L1733.12 187.34 L1733.10 189.97 L1733.07 192.59 L1733.04 195.22 L1733.01 197.84 L1732.98 200.45 L1732.95 203.07 L1732.92 205.68 L1732.88 208.28 L1732.85 210.89 L1732.81 213.49 L1732.77 216.08 L1732.73 218.68 L1732.69 221.27 L1732.65 223.85 L1732.61 226.43 L1732.56 229.01 L1732.52 231.58 L1732.47 234.15 L1732.42 236.71 L1732.37 239.27 L1732.31 241.82 L1732.26 244.36 L1732.20 246.91 L1732.14 249.44 L1732.08 251.97 L1732.01 254.49 L1731.94 257.00 L1731.87 259.51 L1731.80 262.01 L1731.73 264.51 L1731.65 266.99 L1731.57 269.47 L1731.49 271.94 L1731.40 274.40 L1731.31 276.85 L1731.22 279.29 L1731.13 281.73 L1731.03 284.15 L1730.93 286.56 L1730.82 288.96 L1730.71 291.35 L1730.60 293.73 L1730.48 296.10 L1730.36 298.45 L1730.23 300.79 L1730.10 303.12 L1729.96 305.43 L1729.82 307.73 L1729.67 310.02 L1729.52 312.29 L1729.36 314.54 L1729.20 316.78 L1729.03 319.00 L1728.86 321.20 L1728.68 323.38 L1728.49 325.55 L1728.29 327.70 L1728.09 329.82 L1727.88 331.93 L1727.67 334.02 L1727.44 336.08 L1727.21 338.12 L1726.97 340.14 L1726.72 342.14 L1726.46 344.12 L1726.19 346.07 L1725.92 347.99 L1725.63 349.89 L1725.33 351.77 L1725.02 353.61 L1724.70 355.43 L1724.37 357.23 L1724.02 359.00 L1723.67 360.73 L1723.30 362.44 L1722.91 364.13 L1722.52 365.78 L1722.10 367.40 L1721.68 368.99 L1721.24 370.56 L1720.78 372.09 L1720.30 373.59 L1719.81 375.07 L1719.30 376.51 L1718.78 377.92 L1718.23 379.30 L1717.66 380.65 L1717.07 381.97 L1716.46 383.25 L1715.83 384.51 L1715.18 385.74 L1714.50 386.93 L1713.80 388.10 L1713.07 389.24 L1712.32 390.35 L1711.54 391.42 L1710.73 392.47 L1709.89 393.49 L1709.02 394.49 L1708.12 395.45 L1707.18 396.39 L1706.22 397.30 L1705.21 398.18 L1704.17 399.04 L1703.10 399.87 L1701.98 400.68 L1700.82 401.46 L1699.62 402.22 L1698.38 402.96 L1697.10 403.67 L1695.76 404.36 L1694.38 405.03 L1692.95 405.68 L1691.46 406.31 L1689.92 406.91 L1688.33 407.50 L1686.68 408.07 L1684.97 408.62 L1683.19 409.15 L1681.35 409.66 L1679.45 410.16 L1677.47 410.64 L1675.43 411.10 L1673.31 411.55 L1671.11 411.98 L1668.83 412.40 L1666.47 412.80 L1664.03 413.19 L1661.49 413.57 L1658.87 413.93 L1656.15 414.29 L1653.33 414.63 L1650.40 414.95 L1647.38 415.27 L1644.24 415.58 L1640.99 415.87 L1637.61 416.15 L1634.12 416.43 L1630.50 416.69 L1626.75 416.95 L1622.87 417.20 L1618.84 417.44 L1614.66 417.67 L1610.34 417.89 L1605.86 418.10 L1601.21 418.31 L1596.40 418.51 L1591.41 418.70 L1586.24 418.89 L1580.88 419.06 L1575.33 419.24 L1569.58 419.40 L1563.62 419.57 L1557.44 419.72 L1551.04 419.87 L1544.40 420.01 L1537.52 420.15 L1530.40 420.29 M1794.01 24.50 L1794.02 27.19 L1794.02 29.88 L1794.02 32.56 L1794.02 35.25 L1794.03 37.94 L1794.03 40.63 L1794.04 43.31 L1794.04 46.00 L1794.04 48.69 L1794.05 51.37 L1794.05 54.06 L1794.06 56.74 L1794.06 59.43 L1794.07 62.11 L1794.07 64.79 L1794.08 67.48 L1794.08 70.16 L1794.09 72.84 L1794.09 75.52 L1794.10 78.20 L1794.10 80.88 L1794.11 83.56 L1794.12 86.24 L1794.12 88.92 L1794.13 91.60 L1794.14 94.28 L1794.15 96.95 L1794.15 99.63 L1794.16 102.31 L1794.17 104.98 L1794.18 107.65 L1794.19 110.33 L1794.20 113.00 L1794.21 115.67 L1794.22 118.34 L1794.23 121.01 L1794.24 123.68 L1794.25 126.35 L1794.26 129.01 L1794.27 131.68 L1794.29 134.34 L1794.30 137.00 L1794.31 139.67 L1794.33 142.33 L1794.34 144.98 L1794.36 147.64 L1794.37 150.30 L1794.39 152.95 L1794.40 155.61 L1794.42 158.26 L1794.44 160.91 L1794.46 163.56 L1794.48 166.20 L1794.50 168.85 L1794.52 171.49 L1794.54 174.13 L1794.56 176.77 L1794.58 179.41 L1794.61 182.04 L1794.63 184.67 L1794.66 187.30 L1794.68 189.93 L1794.71 192.55 L1794.74 195.18 L1794.77 197.79 L1794.80 200.41 L1794.83 203.02 L1794.86 205.63 L1794.90 208.24 L1794.93 210.84 L1794.97 213.44 L1795.01 216.04 L1795.05 218.63 L1795.09 221.22 L1795.13 223.81 L1795.17 226.39 L1795.22 228.96 L1795.26 231.53 L1795.31 234.10 L1795.36 236.66 L1795.41 239.22 L1795.47 241.77 L1795.52 244.31 L1795.58 246.85 L1795.64 249.39 L1795.70 251.92 L1795.77 254.44 L1795.83 256.95 L1795.90 259.46 L1795.98 261.96 L1796.05 264.45 L1796.13 266.94 L1796.21 269.42 L1796.29 271.88 L1796.37 274.34 L1796.46 276.80 L1796.56 279.24 L1796.65 281.67 L1796.75 284.09 L1796.85 286.50 L1796.96 288.90 L1797.07 291.29 L1797.18 293.67 L1797.30 296.04 L1797.42 298.39 L1797.55 300.73 L1797.68 303.06 L1797.82 305.37 L1797.96 307.67 L1798.10 309.96 L1798.25 312.23 L1798.41 314.48 L1798.57 316.72 L1798.74 318.93 L1798.92 321.14 L1799.10 323.32 L1799.29 325.49 L1799.48 327.63 L1799.68 329.76 L1799.89 331.87 L1800.11 333.96 L1800.33 336.02 L1800.56 338.06 L1800.80 340.08 L1801.05 342.08 L1801.31 344.06 L1801.58 346.01 L1801.86 347.93 L1802.14 349.83 L1802.44 351.71 L1802.75 353.56 L1803.07 355.38 L1803.40 357.17 L1803.75 358.94 L1804.10 360.68 L1804.47 362.39 L1804.85 364.07 L1805.25 365.72 L1805.66 367.35 L1806.09 368.94 L1806.53 370.51 L1806.99 372.04 L1807.46 373.54 L1807.95 375.02 L1808.46 376.46 L1808.99 377.87 L1809.53 379.25 L1810.10 380.60 L1810.69 381.92 L1811.29 383.21 L1811.92 384.47 L1812.58 385.69 L1813.25 386.89 L1813.95 388.06 L1814.68 389.20 L1815.43 390.30 L1816.21 391.38 L1817.02 392.43 L1817.86 393.46 L1818.73 394.45 L1819.63 395.41 L1820.56 396.35 L1821.53 397.26 L1822.53 398.15 L1823.57 399.01 L1824.64 399.84 L1825.75 400.65 L1826.91 401.43 L1828.11 402.19 L1829.35 402.93 L1830.63 403.64 L1831.96 404.34 L1833.34 405.01 L1834.77 405.65 L1836.25 406.28 L1837.79 406.89 L1839.38 407.48 L1841.03 408.04 L1842.74 408.59 L1844.51 409.13 L1846.35 409.64 L1848.25 410.14 L1850.22 410.62 L1852.26 411.08 L1854.38 411.53 L1856.57 411.96 L1858.84 412.38 L1861.20 412.79 L1863.64 413.18 L1866.17 413.55 L1868.79 413.92 L1871.51 414.27 L1874.32 414.61 L1877.24 414.94 L1880.26 415.26 L1883.39 415.56 L1886.64 415.86 L1890.00 416.14 L1893.49 416.42 L1897.10 416.68 L1900.84 416.94 L1904.72 417.19 L1908.74 417.42 L1912.91 417.65 L1917.23 417.88 L1921.70 418.09 L1926.34 418.30 L1931.14 418.50 L1936.12 418.69 L1941.28 418.88 L1946.62 419.06 L1952.16 419.23 L1957.90 419.40 L1963.85 419.56 L1970.02 419.71 L1976.41 419.86 L1983.03 420.01 L1989.89 420.15 L1997.00 420.28" stroke="#000" stroke-width="2.3" fill="none"/>
<path d="M47.80 19.30V443.20 M43.80 442.60H47.80 M43.80 389.69H47.80 M43.80 336.78H47.80 M43.80 283.86H47.80 M43.80 230.95H47.80 M43.80 178.04H47.80 M43.80 125.12H47.80 M43.80 72.21H47.80 M43.80 19.30H47.80 M48.40 444.10H514.00 M62.60 444.10V448.10 M93.80 444.10V448.10 M125.00 444.10V448.10 M156.20 444.10V448.10 M187.40 444.10V448.10 M218.60 444.10V448.10 M249.80 444.10V448.10 M281.00 444.10V448.10 M312.20 444.10V448.10 M343.40 444.10V448.10 M374.60 444.10V448.10 M405.80 444.10V448.10 M437.00 444.10V448.10 M468.20 444.10V448.10 M499.40 444.10V448.10" stroke="#000" stroke-width="1.9" fill="none"/>
<path d="M541.00 21.10V444.10 M537.00 443.50H541.00 M537.00 390.70H541.00 M537.00 337.90H541.00 M537.00 285.10H541.00 M537.00 232.30H541.00 M537.00 179.50H541.00 M537.00 126.70H541.00 M537.00 73.90H541.00 M537.00 21.10H541.00 M541.60 444.80H1009.00 M557.10 444.80V448.80 M588.30 444.80V448.80 M619.50 444.80V448.80 M650.70 444.80V448.80 M681.90 444.80V448.80 M713.10 444.80V448.80 M744.30 444.80V448.80 M775.50 444.80V448.80 M806.70 444.80V448.80 M837.90 444.80V448.80 M869.10 444.80V448.80 M900.30 444.80V448.80 M931.50 444.80V448.80 M962.70 444.80V448.80 M993.90 444.80V448.80" stroke="#000" stroke-width="1.9" fill="none"/>
<path d="M1037.60 24.20V445.60 M1033.60 445.00H1037.60 M1033.60 392.40H1037.60 M1033.60 339.80H1037.60 M1033.60 287.20H1037.60 M1033.60 234.60H1037.60 M1033.60 182.00H1037.60 M1033.60 129.40H1037.60 M1033.60 76.80H1037.60 M1033.60 24.20H1037.60 M1038.20 446.40H1501.00 M1054.66 446.40V450.40 M1085.48 446.40V450.40 M1116.30 446.40V450.40 M1147.12 446.40V450.40 M1177.94 446.40V450.40 M1208.76 446.40V450.40 M1239.58 446.40V450.40 M1270.40 446.40V450.40 M1301.22 446.40V450.40 M1332.04 446.40V450.40 M1362.86 446.40V450.40 M1393.68 446.40V450.40 M1424.50 446.40V450.40 M1455.32 446.40V450.40 M1486.14 446.40V450.40" stroke="#000" stroke-width="1.9" fill="none"/>
<path d="M1530.40 24.50V446.40 M1526.40 445.80H1530.40 M1526.40 393.14H1530.40 M1526.40 340.48H1530.40 M1526.40 287.81H1530.40 M1526.40 235.15H1530.40 M1526.40 182.49H1530.40 M1526.40 129.82H1530.40 M1526.40 77.16H1530.40 M1526.40 24.50H1530.40 M1531.00 447.60H1997.00 M1546.20 447.60V451.60 M1577.30 447.60V451.60 M1608.40 447.60V451.60 M1639.50 447.60V451.60 M1670.60 447.60V451.60 M1701.70 447.60V451.60 M1732.80 447.60V451.60 M1763.90 447.60V451.60 M1795.00 447.60V451.60 M1826.10 447.60V451.60 M1857.20 447.60V451.60 M1888.30 447.60V451.60 M1919.40 447.60V451.60 M1950.50 447.60V451.60 M1981.60 447.60V451.60" stroke="#000" stroke-width="1.9" fill="none"/>
<text x="6.18" y="36.20" font-size="48.10" textLength="32.51" lengthAdjust="spacingAndGlyphs" fill="#231f20" font-weight="bold">A</text>
<text x="55.48" y="33.20" font-size="36.80" textLength="107.97" lengthAdjust="spacingAndGlyphs" fill="#231f20" font-weight="bold">SKBR3</text>
<text x="497.37" y="36.00" font-size="47.20" textLength="28.42" lengthAdjust="spacingAndGlyphs" fill="#231f20" font-weight="bold">B</text>
<text x="548.14" y="32.80" font-size="36.80" textLength="138.57" lengthAdjust="spacingAndGlyphs" fill="#231f20" font-weight="bold">OVCAR3</text>
<text x="995.54" y="33.30" font-size="47.00" textLength="27.50" lengthAdjust="spacingAndGlyphs" fill="#231f20" font-weight="bold">C</text>
<text x="1049.79" y="33.00" font-size="36.50" textLength="82.49" lengthAdjust="spacingAndGlyphs" fill="#231f20" font-weight="bold">K562</text>
<text x="1486.80" y="36.10" font-size="47.70" textLength="31.85" lengthAdjust="spacingAndGlyphs" fill="#231f20" font-weight="bold">D</text>
<text x="1540.54" y="33.20" font-size="36.80" textLength="128.79" lengthAdjust="spacingAndGlyphs" fill="#231f20" font-weight="bold">Capan2</text>
<text x="22.49" y="81.25" font-size="26.50" textLength="16.30" lengthAdjust="spacingAndGlyphs" fill="#231f20" font-weight="bold">7</text>
<text x="22.60" y="237.90" font-size="26.30" textLength="14.85" lengthAdjust="spacingAndGlyphs" fill="#231f20" font-weight="bold">4</text>
<text x="24.78" y="453.40" font-size="26.40" textLength="15.79" lengthAdjust="spacingAndGlyphs" fill="#231f20" font-weight="bold">0</text>
<text x="518.74" y="82.50" font-size="26.50" textLength="16.30" lengthAdjust="spacingAndGlyphs" fill="#231f20" font-weight="bold">7</text>
<text x="520.12" y="242.40" font-size="26.30" textLength="14.02" lengthAdjust="spacingAndGlyphs" fill="#231f20" font-weight="bold">4</text>
<text x="1017.22" y="84.50" font-size="26.50" textLength="13.33" lengthAdjust="spacingAndGlyphs" fill="#231f20" font-weight="bold">7</text>
<text x="1015.81" y="242.10" font-size="26.30" textLength="14.33" lengthAdjust="spacingAndGlyphs" fill="#231f20" font-weight="bold">4</text>
<text x="1015.54" y="453.40" font-size="26.40" textLength="14.97" lengthAdjust="spacingAndGlyphs" fill="#231f20" font-weight="bold">0</text>
<text x="1508.27" y="84.50" font-size="26.50" textLength="12.74" lengthAdjust="spacingAndGlyphs" fill="#231f20" font-weight="bold">7</text>
<text x="1506.91" y="242.10" font-size="26.30" textLength="14.33" lengthAdjust="spacingAndGlyphs" fill="#231f20" font-weight="bold">4</text>
<text x="1509.10" y="453.40" font-size="26.40" textLength="12.63" lengthAdjust="spacingAndGlyphs" fill="#231f20" font-weight="bold">0</text>
<text x="100.58" y="473.40" font-size="26.40" textLength="37.58" lengthAdjust="spacingAndGlyphs" fill="#231f20" font-weight="bold">-10</text>
<text x="275.94" y="473.40" font-size="26.40" textLength="14.97" lengthAdjust="spacingAndGlyphs" fill="#231f20" font-weight="bold">0</text>
<text x="419.28" y="473.40" font-size="26.40" textLength="30.34" lengthAdjust="spacingAndGlyphs" fill="#231f20" font-weight="bold">10</text>
<text x="594.26" y="473.40" font-size="26.40" textLength="38.54" lengthAdjust="spacingAndGlyphs" fill="#231f20" font-weight="bold">-10</text>
<text x="772.24" y="473.40" font-size="26.40" textLength="14.85" lengthAdjust="spacingAndGlyphs" fill="#231f20" font-weight="bold">0</text>
<text x="913.43" y="473.40" font-size="26.40" textLength="29.56" lengthAdjust="spacingAndGlyphs" fill="#231f20" font-weight="bold">10</text>
<text x="1093.20" y="473.40" font-size="26.40" textLength="37.16" lengthAdjust="spacingAndGlyphs" fill="#231f20" font-weight="bold">-10</text>
<text x="1265.43" y="473.40" font-size="26.40" textLength="15.09" lengthAdjust="spacingAndGlyphs" fill="#231f20" font-weight="bold">0</text>
<text x="1411.84" y="473.40" font-size="26.40" textLength="29.23" lengthAdjust="spacingAndGlyphs" fill="#231f20" font-weight="bold">10</text>
<text x="1586.07" y="473.40" font-size="26.40" textLength="38.01" lengthAdjust="spacingAndGlyphs" fill="#231f20" font-weight="bold">-10</text>
<text x="1758.83" y="473.40" font-size="26.40" textLength="15.09" lengthAdjust="spacingAndGlyphs" fill="#231f20" font-weight="bold">0</text>
<text x="1904.74" y="473.40" font-size="26.40" textLength="29.23" lengthAdjust="spacingAndGlyphs" fill="#231f20" font-weight="bold">10</text>
<text x="173.43" y="498.40" font-size="23.50" textLength="207.69" lengthAdjust="spacingAndGlyphs" fill="#231f20" font-weight="bold">log2(Elute - Lysate)</text>
<text x="667.03" y="498.40" font-size="23.50" textLength="206.98" lengthAdjust="spacingAndGlyphs" fill="#231f20" font-weight="bold">log2(Elute - Lysate)</text>
<text x="1165.23" y="498.40" font-size="23.50" textLength="207.09" lengthAdjust="spacingAndGlyphs" fill="#231f20" font-weight="bold">log2(Elute - Lysate)</text>
<text x="1665.23" y="498.40" font-size="23.50" textLength="207.09" lengthAdjust="spacingAndGlyphs" fill="#231f20" font-weight="bold">log2(Elute - Lysate)</text>
<text transform="translate(17.30,255.00) rotate(-90)" x="-0.85" y="0" font-size="23.50" textLength="54.60" lengthAdjust="spacingAndGlyphs" fill="#231f20" font-weight="bold">-logP</text>
<text transform="translate(512.50,255.50) rotate(-90)" x="-0.85" y="0" font-size="23.50" textLength="54.50" lengthAdjust="spacingAndGlyphs" fill="#231f20" font-weight="bold">-logP</text>
<text transform="translate(1008.00,255.00) rotate(-90)" x="-0.84" y="0" font-size="23.50" textLength="53.88" lengthAdjust="spacingAndGlyphs" fill="#231f20" font-weight="bold">-logP</text>
<text transform="translate(1499.60,255.00) rotate(-90)" x="-0.85" y="0" font-size="23.50" textLength="54.19" lengthAdjust="spacingAndGlyphs" fill="#231f20" font-weight="bold">-logP</text>
<text x="378.37" y="148.90" font-size="20.64" textLength="69.48" lengthAdjust="spacingAndGlyphs" fill="#e1262c" font-weight="bold">MANS1</text>
<text x="417.93" y="200.50" font-size="17.59" textLength="24.17" lengthAdjust="spacingAndGlyphs" fill="#e1262c" font-weight="bold">A4</text>
<text x="332.46" y="235.10" font-size="20.35" textLength="64.01" lengthAdjust="spacingAndGlyphs" fill="#e1262c" font-weight="bold">PODXL</text>
<text x="416.35" y="235.10" font-size="20.35" textLength="61.95" lengthAdjust="spacingAndGlyphs" fill="#e1262c" font-weight="bold">CSPG4</text>
<text x="324.70" y="261.30" font-size="19.48" textLength="49.91" lengthAdjust="spacingAndGlyphs" fill="#e1262c" font-weight="bold">CD44</text>
<text x="433.26" y="269.00" font-size="18.75" textLength="67.86" lengthAdjust="spacingAndGlyphs" fill="#e1262c" font-weight="bold">MFSD6</text>
<text x="455.26" y="315.50" font-size="19.62" textLength="47.52" lengthAdjust="spacingAndGlyphs" fill="#e1262c" font-weight="bold">LRP8</text>
<text x="398.55" y="336.10" font-size="19.48" textLength="61.56" lengthAdjust="spacingAndGlyphs" fill="#e1262c" font-weight="bold">AGRL1</text>
<text x="901.26" y="192.80" font-size="20.20" textLength="48.38" lengthAdjust="spacingAndGlyphs" fill="#e1262c" font-weight="bold">KCT2</text>
<text x="827.26" y="209.20" font-size="21.08" textLength="71.98" lengthAdjust="spacingAndGlyphs" fill="#e1262c" font-weight="bold">OLM2B</text>
<text x="877.07" y="241.90" font-size="20.93" textLength="52.30" lengthAdjust="spacingAndGlyphs" fill="#e1262c" font-weight="bold">VASN</text>
<text x="923.36" y="263.30" font-size="20.93" textLength="56.59" lengthAdjust="spacingAndGlyphs" fill="#e1262c" font-weight="bold">MUC1</text>
<text x="917.85" y="327.20" font-size="20.93" textLength="65.99" lengthAdjust="spacingAndGlyphs" fill="#e1262c" font-weight="bold">PORIM</text>
<text x="885.87" y="350.80" font-size="20.93" textLength="49.04" lengthAdjust="spacingAndGlyphs" fill="#e1262c" font-weight="bold">SDC1</text>
<text x="862.01" y="372.20" font-size="20.93" textLength="63.49" lengthAdjust="spacingAndGlyphs" fill="#e1262c" font-weight="bold">CCD80</text>
<text x="1405.07" y="121.10" font-size="21.37" textLength="67.35" lengthAdjust="spacingAndGlyphs" fill="#e1262c" font-weight="bold">MFSD6</text>
<text x="1409.34" y="161.90" font-size="22.09" textLength="48.14" lengthAdjust="spacingAndGlyphs" fill="#e1262c" font-weight="bold">LRP8</text>
<text x="1327.58" y="186.90" font-size="20.93" textLength="52.24" lengthAdjust="spacingAndGlyphs" fill="#f0832c" font-weight="bold">TNR8</text>
<text x="1425.04" y="194.40" font-size="20.93" textLength="57.42" lengthAdjust="spacingAndGlyphs" fill="#e1262c" font-weight="bold">MUC1</text>
<text x="1344.06" y="228.90" font-size="20.20" textLength="50.51" lengthAdjust="spacingAndGlyphs" fill="#e1262c" font-weight="bold">LEUK</text>
<text x="1415.34" y="228.90" font-size="20.20" textLength="66.62" lengthAdjust="spacingAndGlyphs" fill="#e1262c" font-weight="bold">PORIM</text>
<text x="1392.29" y="257.20" font-size="20.20" textLength="43.63" lengthAdjust="spacingAndGlyphs" fill="#e1262c" font-weight="bold">DAG</text>
<text x="1415.44" y="301.10" font-size="20.20" textLength="38.86" lengthAdjust="spacingAndGlyphs" fill="#e1262c" font-weight="bold">DAF</text>
<text x="1830.92" y="125.80" font-size="20.20" textLength="53.21" lengthAdjust="spacingAndGlyphs" fill="#e1262c" font-weight="bold">DAG1</text>
<text x="1900.34" y="141.10" font-size="21.37" textLength="66.83" lengthAdjust="spacingAndGlyphs" fill="#e1262c" font-weight="bold">PORIM</text>
<text x="1803.98" y="162.50" font-size="20.93" textLength="55.97" lengthAdjust="spacingAndGlyphs" fill="#e1262c" font-weight="bold">MUC1</text>
<text x="1897.47" y="162.50" font-size="20.93" textLength="51.54" lengthAdjust="spacingAndGlyphs" fill="#e1262c" font-weight="bold">CD44</text>
<text x="1846.10" y="183.30" font-size="21.80" textLength="69.44" lengthAdjust="spacingAndGlyphs" fill="#e1262c" font-weight="bold">CADM1</text>
<text x="1933.08" y="183.30" font-size="21.80" textLength="68.97" lengthAdjust="spacingAndGlyphs" fill="#e1262c" font-weight="bold">MANS1</text>
<text x="1887.29" y="202.20" font-size="20.93" textLength="67.21" lengthAdjust="spacingAndGlyphs" fill="#e1262c" font-weight="bold">PODXL</text>
<text x="1908.90" y="294.20" font-size="21.08" textLength="70.75" lengthAdjust="spacingAndGlyphs" fill="#e1262c" font-weight="bold">MUC13</text>
<text x="1875.32" y="374.40" font-size="21.37" textLength="69.72" lengthAdjust="spacingAndGlyphs" fill="#e1262c" font-weight="bold">MUC20</text>
</svg></body></html>
